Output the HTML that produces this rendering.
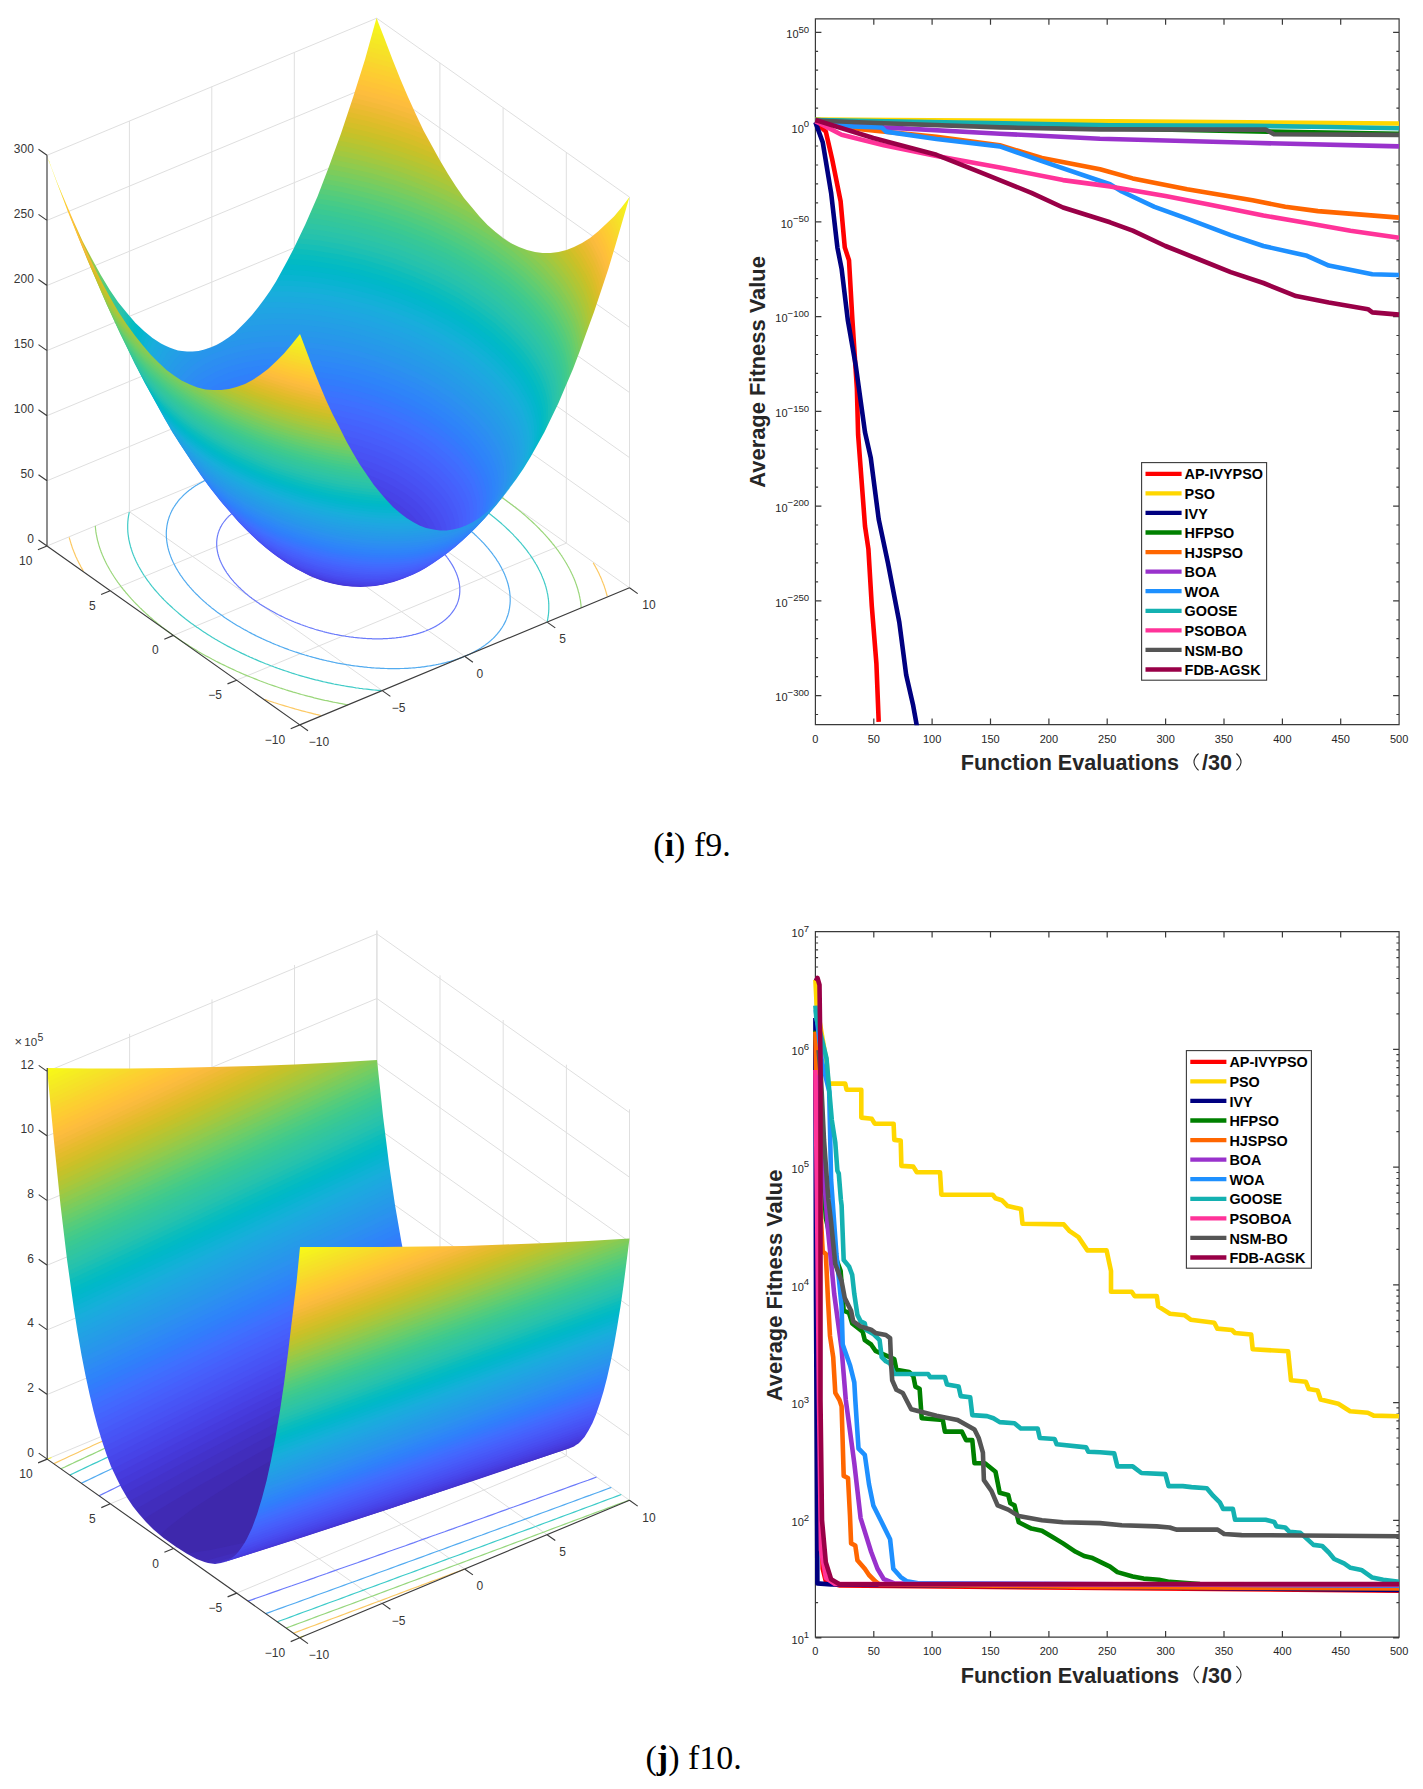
<!DOCTYPE html><html><head><meta charset="utf-8"><title>f9 f10</title><style>html,body{margin:0;padding:0;background:#fff;width:1423px;height:1789px;overflow:hidden}svg{display:block}</style></head><body><svg width="1423" height="1789" viewBox="0 0 1423 1789"><path d="M236.6 680.2 566.3 543.1M173.4 635.4 503.1 498.3M110.2 590.7 439.9 453.6M47 546 376.7 408.9M382.2 690.6 129.4 511.7M464.6 656.3 211.8 477.4M547.1 622.1 294.3 443.1M629.5 587.8 376.7 408.9M129.4 511.7 129.4 121M211.8 477.4 211.8 86.7M294.3 443.1 294.3 52.5M376.7 408.9 376.7 18.2M47 480.8 376.7 343.7M47 415.7 376.7 278.6M47 350.6 376.7 213.5M47 285.5 376.7 148.4M47 220.4 376.7 83.3M47 155.3 376.7 18.2M376.7 408.9 376.7 18.2M439.9 453.6 439.9 62.9M503.1 498.3 503.1 107.7M566.3 543.1 566.3 152.4M629.5 587.8 629.5 197.1M629.5 522.7 376.7 343.7M629.5 457.6 376.7 278.6M629.5 392.5 376.7 213.5M629.5 327.4 376.7 148.4M629.5 262.2 376.7 83.3M629.5 197.1 376.7 18.2" stroke="#dfdfdf" stroke-width="1" fill="none"/>
<path d="M248.9 503.6 249.6 503.3 250.3 503 251.1 502.7 251.8 502.4 252.6 502.2 253.3 501.9 254.1 501.6 254.8 501.4 255.6 501.1 256.4 500.9 257.2 500.6 258 500.4 258.8 500.1 259.6 499.9 260.4 499.7 261.2 499.5 262 499.2 262.9 499 263.7 498.8 264.5 498.6 265.4 498.4 266.2 498.2 267.1 498 268 497.9 268.8 497.7 269.7 497.5 270.6 497.4 271.5 497.2 272.4 497 273.3 496.9 274.1 496.7 275.1 496.6 276 496.5 276.9 496.4 277.8 496.2 278.7 496.1 279.6 496 280.6 495.9 281.5 495.8 282.5 495.7 283.4 495.6 284.3 495.5 285.3 495.4 286.3 495.4 287.2 495.3 288.2 495.2 289.2 495.2 290.1 495.1 291.1 495.1 292.1 495 293.1 495 294.1 495 295 495 296 494.9 297 494.9 298 494.9 299 494.9 300 494.9 301 494.9 302.1 494.9 303.1 495 304.1 495 305.1 495 306.1 495.1 307.2 495.1 308.2 495.1 309.2 495.2 310.2 495.3 311.3 495.3 312.3 495.4 313.4 495.5 314.4 495.5 315.4 495.6 316.5 495.7 317.5 495.8 318.6 495.9 319.6 496 320.7 496.1 321.7 496.3 322.8 496.4 323.8 496.5 324.9 496.6 325.9 496.8 327 496.9 328 497.1 329.1 497.2 330.2 497.4 331.2 497.6 332.3 497.7 333.3 497.9 334.4 498.1 335.5 498.3 336.5 498.5 337.6 498.7 338.6 498.9 339.7 499.1 340.8 499.3 341.8 499.5 342.9 499.7 343.9 500 345 500.2 346.1 500.4 347.1 500.7 348.2 500.9 349.2 501.2 350.3 501.4 351.3 501.7 352.4 502 353.5 502.2 354.5 502.5 355.6 502.8 356.6 503.1 357.7 503.4 358.7 503.7 359.7 504 360.8 504.3 361.8 504.6 362.9 504.9 363.9 505.2 364.9 505.6 366 505.9 367 506.2 368 506.6 369.1 506.9 370.1 507.3 371.1 507.6 372.1 508 373.2 508.3 374.2 508.7 375.2 509.1 376.2 509.4 377.2 509.8 378.2 510.2 379.2 510.6 380.2 511 381.2 511.4 382.2 511.8 383.2 512.2 384.2 512.6 385.1 513 386.1 513.4 387.1 513.9 388.1 514.3 389 514.7 390 515.2 390.9 515.6 391.9 516 392.8 516.5 393.8 516.9 394.7 517.4 395.7 517.9 396.6 518.3 397.5 518.8 398.5 519.2 399.4 519.7 400.3 520.2 401.2 520.7 402.1 521.2 403 521.6 403.9 522.1 404.8 522.6 405.7 523.1 406.6 523.6 407.4 524.1 408.3 524.6 409.2 525.1 410 525.7 410.9 526.2 411.7 526.7 412.6 527.2 413.4 527.7 414.2 528.3 415.1 528.8 415.9 529.3 416.7 529.9 417.5 530.4 418.3 531 419.1 531.5 419.9 532 420.7 532.6 421.5 533.2 422.2 533.7 423 534.3 423.7 534.8 424.5 535.4 425.2 536 426 536.5 426.7 537.1 427.4 537.7 428.2 538.2 428.9 538.8 429.6 539.4 430.3 540 431 540.6 431.6 541.2 432.3 541.7 433 542.3 433.6 542.9 434.3 543.5 434.9 544.1 435.6 544.7 436.2 545.3 436.8 545.9 437.5 546.5 438.1 547.1 438.7 547.7 439.3 548.3 439.8 548.9 440.4 549.5 441 550.1 441.6 550.8 442.1 551.4 442.7 552 443.2 552.6 443.7 553.2 444.3 553.8 444.8 554.4 445.3 555.1 445.8 555.7 446.3 556.3 446.8 556.9 447.2 557.5 447.7 558.2 448.2 558.8 448.6 559.4 449 560 449.5 560.7 449.9 561.3 450.3 561.9 450.7 562.5 451.1 563.2 451.5 563.8 451.9 564.4 452.3 565.1 452.6 565.7 453 566.3 453.3 566.9 453.7 567.6 454 568.2 454.3 568.8 454.6 569.5 454.9 570.1 455.2 570.7 455.5 571.3 455.8 572 456.1 572.6 456.3 573.2 456.6 573.8 456.8 574.5 457 575.1 457.3 575.7 457.5 576.3 457.7 577 457.9 577.6 458.1 578.2 458.2 578.8 458.4 579.4 458.6 580.1 458.7 580.7 458.8 581.3 459 581.9 459.1 582.5 459.2 583.1 459.3 583.7 459.4 584.3 459.5 585 459.6 585.6 459.6 586.2 459.7 586.8 459.7 587.4 459.8 588 459.8 588.6 459.8 589.2 459.8 589.8 459.8 590.4 459.8 591 459.8 591.5 459.8 592.1 459.7 592.7 459.7 593.3 459.6 593.9 459.6 594.5 459.5 595.1 459.4 595.6 459.3 596.2 459.2 596.8 459.1 597.3 459 597.9 458.9 598.5 458.7 599 458.6 599.6 458.4 600.2 458.3 600.7 458.1 601.3 457.9 601.8 457.7 602.4 457.5 602.9 457.3 603.5 457.1 604 456.9 604.5 456.6 605.1 456.4 605.6 456.1 606.1 455.9 606.6 455.6 607.2 455.3 607.7 455 608.2 454.7 608.7 454.4 609.2 454.1 609.7 453.8 610.2 453.4 610.7 453.1 611.2 452.7 611.7 452.4 612.2 452 612.7 451.6 613.2 451.2 613.7 450.8 614.1 450.4 614.6 450 615.1 449.6 615.5 449.2 616 448.7 616.5 448.3 616.9 447.8 617.4 447.4 617.8 446.9 618.2 446.4 618.7 445.9 619.1 445.4 619.5 444.9 620 444.4 620.4 443.9 620.8 443.3 621.2 442.8 621.6 442.3 622 441.7 622.4 441.2 622.8 440.6 623.2 440 623.6 439.4 624 438.8 624.4 438.2 624.8 437.6 625.1 437 625.5 436.4 625.9 435.8 626.2 435.1 626.6 434.5 626.9 433.8 627.3 433.2 627.6 432.5 627.9 431.8 628.3 431.1 628.6 430.5 628.9 429.8 629.2 429.1 629.5 428.3 629.8 427.6 630.1 426.9 630.4 426.2 630.7 425.4 631 424.7 631.3 423.9 631.6 423.2 631.9 422.4 632.1 421.7 632.4 420.9 632.6 420.1 632.9 419.3 633.1 418.5 633.4 417.7 633.6 416.9 633.8 416.1 634.1 415.3 634.3 414.5 634.5 413.6 634.7 412.8 634.9 412 635.1 411.1 635.3 410.3 635.5 409.4 635.7 408.5 635.9 407.7 636.1 406.8 636.2 405.9 636.4 405 636.6 404.1 636.7 403.2 636.9 402.4 637 401.4 637.1 400.5 637.3 399.6 637.4 398.7 637.5 397.8 637.6 396.9 637.7 395.9 637.9 395 638 394 638.1 393.1 638.1 392.2 638.2 391.2 638.3 390.2 638.4 389.3 638.4 388.3 638.5 387.3 638.6 386.4 638.6 385.4 638.7 384.4 638.7 383.4 638.7 382.4 638.8 381.5 638.8 380.5 638.8 379.5 638.8 378.5 638.8 377.5 638.8 376.5 638.8 375.5 638.8 374.4 638.8 373.4 638.8 372.4 638.8 371.4 638.7 370.4 638.7 369.3 638.7 368.3 638.6 367.3 638.6 366.3 638.5 365.2 638.4 364.2 638.4 363.1 638.3 362.1 638.2 361.1 638.1 360 638 359 637.9 357.9 637.8 356.9 637.7 355.8 637.6 354.8 637.5 353.7 637.4 352.7 637.2 351.6 637.1 350.6 637 349.5 636.8 348.5 636.7 347.4 636.5 346.3 636.4 345.3 636.2 344.2 636 343.2 635.8 342.1 635.7 341 635.5 340 635.3 338.9 635.1 337.9 634.9 336.8 634.7 335.7 634.5 334.7 634.3 333.6 634 332.6 633.8 331.5 633.6 330.4 633.3 329.4 633.1 328.3 632.8 327.3 632.6 326.2 632.3 325.2 632.1 324.1 631.8 323 631.5 322 631.2 320.9 631 319.9 630.7 318.8 630.4 317.8 630.1 316.8 629.8 315.7 629.5 314.7 629.2 313.6 628.8 312.6 628.5 311.6 628.2 310.5 627.9 309.5 627.5 308.5 627.2 307.4 626.8 306.4 626.5 305.4 626.1 304.4 625.8 303.3 625.4 302.3 625 301.3 624.7 300.3 624.3 299.3 623.9 298.3 623.5 297.3 623.1 296.3 622.8 295.3 622.4 294.3 622 293.3 621.5 292.3 621.1 291.4 620.7 290.4 620.3 289.4 619.9 288.4 619.5 287.5 619 286.5 618.6 285.6 618.2 284.6 617.7 283.7 617.3 282.7 616.8 281.8 616.4 280.8 615.9 279.9 615.4 279 615 278 614.5 277.1 614 276.2 613.6 275.3 613.1 274.4 612.6 273.5 612.1 272.6 611.6 271.7 611.1 270.8 610.6 269.9 610.1 269.1 609.6 268.2 609.1 267.3 608.6 266.5 608.1 265.6 607.6 264.8 607.1 263.9 606.5 263.1 606 262.3 605.5 261.4 604.9 260.6 604.4 259.8 603.9 259 603.3 258.2 602.8 257.4 602.2 256.6 601.7 255.8 601.1 255 600.6 254.3 600 253.5 599.5 252.8 598.9 252 598.4 251.3 597.8 250.5 597.2 249.8 596.7 249.1 596.1 248.3 595.5 247.6 594.9 246.9 594.3 246.2 593.8 245.5 593.2 244.9 592.6 244.2 592 243.5 591.4 242.9 590.8 242.2 590.2 241.6 589.6 240.9 589 240.3 588.4 239.7 587.8 239 587.2 238.4 586.6 237.8 586 237.2 585.4 236.7 584.8 236.1 584.2 235.5 583.6 234.9 583 234.4 582.4 233.8 581.8 233.3 581.2 232.8 580.5 232.2 579.9 231.7 579.3 231.2 578.7 230.7 578.1 230.2 577.4 229.7 576.8 229.3 576.2 228.8 575.6 228.3 575 227.9 574.3 227.5 573.7 227 573.1 226.6 572.5 226.2 571.8 225.8 571.2 225.4 570.6 225 569.9 224.6 569.3 224.2 568.7 223.9 568.1 223.5 567.4 223.2 566.8 222.8 566.2 222.5 565.6 222.2 564.9 221.9 564.3 221.6 563.7 221.3 563 221 562.4 220.7 561.8 220.4 561.2 220.2 560.5 219.9 559.9 219.7 559.3 219.5 558.7 219.2 558 219 557.4 218.8 556.8 218.6 556.2 218.4 555.6 218.3 554.9 218.1 554.3 217.9 553.7 217.8 553.1 217.7 552.5 217.5 551.8 217.4 551.2 217.3 550.6 217.2 550 217.1 549.4 217 548.8 216.9 548.2 216.9 547.6 216.8 547 216.8 546.4 216.7 545.8 216.7 545.2 216.7 544.6 216.7 544 216.7 543.4 216.7 542.8 216.7 542.2 216.7 541.6 216.8 541 216.8 540.4 216.9 539.9 216.9 539.3 217 538.7 217.1 538.1 217.2 537.5 217.3 537 217.4 536.4 217.5 535.8 217.6 535.3 217.8 534.7 217.9 534.1 218.1 533.6 218.2 533 218.4 532.5 218.6 531.9 218.8 531.4 219 530.8 219.2 530.3 219.4 529.8 219.6 529.2 219.9 528.7 220.1 528.2 220.4 527.6 220.6 527.1 220.9 526.6 221.2 526.1 221.5 525.5 221.8 525 222.1 524.5 222.4 524 222.7 523.5 223.1 523 223.4 522.5 223.8 522 224.1 521.5 224.5 521.1 224.9 520.6 225.3 520.1 225.7 519.6 226.1 519.1 226.5 518.7 226.9 518.2 227.3 517.8 227.8 517.3 228.2 516.8 228.7 516.4 229.1 515.9 229.6 515.5 230.1 515.1 230.6 514.6 231.1 514.2 231.6 513.8 232.1 513.4 232.6 512.9 233.2 512.5 233.7 512.1 234.2 511.7 234.8 511.3 235.3 510.9 235.9 510.5 236.5 510.1 237.1 509.7 237.7 509.4 238.3 509 238.9 508.6 239.5 508.3 240.1 507.9 240.7 507.5 241.4 507.2 242 506.8 242.7 506.5 243.3 506.2 244 505.8 244.7 505.5 245.4 505.2 246 504.8 246.7 504.5 247.4 504.2 248.2 503.9 248.9 503.6" fill="none" stroke="#6c7cfa" stroke-width="1.2"/><path d="M211.8 477.4 212.9 477 213.9 476.6 214.9 476.2 216 475.8 217.1 475.4 218.1 475 219.2 474.6 220.3 474.2 221.4 473.9 222.5 473.5 223.6 473.2 224.7 472.8 225.9 472.5 227 472.2 228.1 471.8 229.3 471.5 230.5 471.2 231.6 470.9 232.8 470.6 234 470.3 235.2 470.1 236.4 469.8 237.6 469.5 238.8 469.3 240.1 469 241.3 468.8 242.6 468.6 243.8 468.3 245.1 468.1 246.3 467.9 247.6 467.7 248.9 467.5 250.2 467.3 251.5 467.1 252.8 467 254.1 466.8 255.4 466.6 256.7 466.5 258 466.4 259.3 466.2 260.7 466.1 262 466 263.4 465.9 264.7 465.8 266.1 465.7 267.4 465.6 268.8 465.5 270.2 465.4 271.6 465.4 273 465.3 274.3 465.2 275.7 465.2 277.1 465.2 278.5 465.1 280 465.1 281.4 465.1 282.8 465.1 284.2 465.1 285.6 465.1 287.1 465.2 288.5 465.2 289.9 465.2 291.4 465.3 292.8 465.3 294.3 465.4 295.7 465.4 297.2 465.5 298.6 465.6 300.1 465.7 301.6 465.8 303 465.9 304.5 466 306 466.1 307.5 466.2 308.9 466.4 310.4 466.5 311.9 466.7 313.4 466.8 314.9 467 316.3 467.2 317.8 467.4 319.3 467.5 320.8 467.7 322.3 467.9 323.8 468.2 325.3 468.4 326.8 468.6 328.3 468.8 329.8 469.1 331.3 469.3 332.8 469.6 334.3 469.9 335.8 470.1 337.3 470.4 338.8 470.7 340.3 471 341.8 471.3 343.3 471.6 344.8 471.9 346.3 472.2 347.8 472.6 349.3 472.9 350.8 473.2 352.3 473.6 353.8 474 355.3 474.3 356.8 474.7 358.3 475.1 359.7 475.5 361.2 475.8 362.7 476.2 364.2 476.7 365.7 477.1 367.2 477.5 368.6 477.9 370.1 478.4 371.6 478.8 373.1 479.2 374.5 479.7 376 480.2 377.5 480.6 378.9 481.1 380.4 481.6 381.8 482.1 383.3 482.6 384.7 483.1 386.2 483.6 387.6 484.1 389 484.6 390.5 485.1 391.9 485.7 393.3 486.2 394.7 486.7 396.2 487.3 397.6 487.9 399 488.4 400.4 489 401.8 489.6 403.2 490.1 404.6 490.7 405.9 491.3 407.3 491.9 408.7 492.5 410.1 493.1 411.4 493.7 412.8 494.4 414.1 495 415.5 495.6 416.8 496.3 418.1 496.9 419.5 497.5 420.8 498.2 422.1 498.9 423.4 499.5 424.7 500.2 426 500.9 427.3 501.5 428.6 502.2 429.8 502.9 431.1 503.6 432.4 504.3 433.6 505 434.9 505.7 436.1 506.4 437.3 507.1 438.5 507.9 439.8 508.6 441 509.3 442.2 510.1 443.4 510.8 444.5 511.5 445.7 512.3 446.9 513 448 513.8 449.2 514.5 450.3 515.3 451.5 516.1 452.6 516.8 453.7 517.6 454.8 518.4 455.9 519.2 457 520 458.1 520.8 459.2 521.6 460.2 522.4 461.3 523.2 462.3 524 463.3 524.8 464.4 525.6 465.4 526.4 466.4 527.2 467.4 528 468.4 528.8 469.4 529.7 470.3 530.5 471.3 531.3 472.2 532.2 473.2 533 474.1 533.8 475 534.7 475.9 535.5 476.8 536.4 477.7 537.2 478.5 538.1 479.4 538.9 480.3 539.8 481.1 540.6 481.9 541.5 482.8 542.3 483.6 543.2 484.4 544.1 485.1 544.9 485.9 545.8 486.7 546.7 487.4 547.6 488.2 548.4 488.9 549.3 489.6 550.2 490.3 551.1 491 551.9 491.7 552.8 492.4 553.7 493 554.6 493.7 555.5 494.3 556.3 494.9 557.2 495.6 558.1 496.2 559 496.7 559.9 497.3 560.8 497.9 561.6 498.4 562.5 499 563.4 499.5 564.3 500 565.2 500.5 566.1 501 567 501.5 567.9 501.9 568.7 502.4 569.6 502.8 570.5 503.3 571.4 503.7 572.3 504.1 573.2 504.5 574.1 504.9 575 505.2 575.8 505.6 576.7 505.9 577.6 506.2 578.5 506.5 579.4 506.9 580.3 507.1 581.1 507.4 582 507.7 582.9 507.9 583.8 508.2 584.6 508.4 585.5 508.6 586.4 508.8 587.3 509 588.1 509.1 589 509.3 589.9 509.5 590.7 509.6 591.6 509.7 592.4 509.8 593.3 509.9 594.2 510 595 510.1 595.9 510.1 596.7 510.1 597.6 510.2 598.4 510.2 599.3 510.2 600.1 510.2 600.9 510.2 601.8 510.1 602.6 510.1 603.4 510 604.3 509.9 605.1 509.8 605.9 509.7 606.7 509.6 607.5 509.5 608.4 509.3 609.2 509.2 610 509 610.8 508.8 611.6 508.7 612.4 508.4 613.2 508.2 613.9 508 614.7 507.7 615.5 507.5 616.3 507.2 617.1 506.9 617.8 506.6 618.6 506.3 619.4 506 620.1 505.7 620.9 505.3 621.6 505 622.4 504.6 623.1 504.2 623.9 503.8 624.6 503.4 625.3 503 626 502.5 626.8 502.1 627.5 501.6 628.2 501.1 628.9 500.6 629.6 500.1 630.3 499.6 631 499.1 631.7 498.6 632.4 498 633 497.5 633.7 496.9 634.4 496.3 635 495.7 635.7 495.1 636.3 494.5 637 493.9 637.6 493.2 638.3 492.6 638.9 491.9 639.5 491.2 640.1 490.5 640.8 489.8 641.4 489.1 642 488.4 642.6 487.6 643.2 486.9 643.7 486.1 644.3 485.4 644.9 484.6 645.5 483.8 646 483 646.6 482.2 647.1 481.3 647.7 480.5 648.2 479.6 648.7 478.8 649.3 477.9 649.8 477 650.3 476.1 650.8 475.2 651.3 474.3 651.8 473.4 652.3 472.5 652.8 471.5 653.2 470.6 653.7 469.6 654.2 468.6 654.6 467.7 655.1 466.7 655.5 465.7 655.9 464.6 656.3 463.6 656.8 462.6 657.2 461.6 657.6 460.5 658 459.4 658.4 458.4 658.8 457.3 659.1 456.2 659.5 455.1 659.9 454 660.2 452.9 660.6 451.8 660.9 450.6 661.3 449.5 661.6 448.4 661.9 447.2 662.2 446 662.5 444.9 662.8 443.7 663.1 442.5 663.4 441.3 663.7 440.1 664 438.9 664.2 437.7 664.5 436.4 664.7 435.2 665 433.9 665.2 432.7 665.4 431.4 665.6 430.2 665.8 428.9 666 427.6 666.2 426.3 666.4 425 666.6 423.7 666.8 422.4 666.9 421.1 667.1 419.8 667.3 418.5 667.4 417.2 667.5 415.8 667.7 414.5 667.8 413.1 667.9 411.8 668 410.4 668.1 409.1 668.2 407.7 668.3 406.3 668.3 404.9 668.4 403.5 668.5 402.2 668.5 400.8 668.5 399.4 668.6 398 668.6 396.5 668.6 395.1 668.6 393.7 668.6 392.3 668.6 390.9 668.6 389.4 668.6 388 668.6 386.6 668.5 385.1 668.5 383.7 668.4 382.2 668.4 380.8 668.3 379.3 668.2 377.9 668.2 376.4 668.1 374.9 668 373.5 667.9 372 667.8 370.5 667.6 369 667.5 367.6 667.4 366.1 667.2 364.6 667.1 363.1 666.9 361.6 666.7 360.2 666.6 358.7 666.4 357.2 666.2 355.7 666 354.2 665.8 352.7 665.6 351.2 665.4 349.7 665.1 348.2 664.9 346.7 664.7 345.2 664.4 343.7 664.2 342.2 663.9 340.7 663.6 339.2 663.3 337.7 663.1 336.2 662.8 334.7 662.5 333.2 662.2 331.7 661.8 330.2 661.5 328.7 661.2 327.2 660.9 325.7 660.5 324.2 660.2 322.7 659.8 321.2 659.4 319.7 659.1 318.2 658.7 316.8 658.3 315.3 657.9 313.8 657.5 312.3 657.1 310.8 656.7 309.3 656.3 307.9 655.8 306.4 655.4 304.9 655 303.4 654.5 302 654.1 300.5 653.6 299 653.1 297.6 652.6 296.1 652.2 294.7 651.7 293.2 651.2 291.8 650.7 290.3 650.2 288.9 649.7 287.5 649.1 286 648.6 284.6 648.1 283.2 647.5 281.8 647 280.3 646.5 278.9 645.9 277.5 645.3 276.1 644.8 274.7 644.2 273.3 643.6 271.9 643 270.6 642.4 269.2 641.8 267.8 641.2 266.4 640.6 265.1 640 263.7 639.4 262.4 638.8 261 638.1 259.7 637.5 258.4 636.9 257 636.2 255.7 635.6 254.4 634.9 253.1 634.2 251.8 633.6 250.5 632.9 249.2 632.2 247.9 631.5 246.7 630.8 245.4 630.1 244.1 629.5 242.9 628.7 241.6 628 240.4 627.3 239.2 626.6 238 625.9 236.7 625.2 235.5 624.4 234.3 623.7 233.1 623 232 622.2 230.8 621.5 229.6 620.7 228.5 620 227.3 619.2 226.2 618.4 225 617.7 223.9 616.9 222.8 616.1 221.7 615.3 220.6 614.6 219.5 613.8 218.4 613 217.3 612.2 216.3 611.4 215.2 610.6 214.2 609.8 213.2 609 212.1 608.2 211.1 607.4 210.1 606.5 209.1 605.7 208.1 604.9 207.1 604.1 206.2 603.3 205.2 602.4 204.3 601.6 203.3 600.8 202.4 599.9 201.5 599.1 200.6 598.2 199.7 597.4 198.8 596.5 198 595.7 197.1 594.8 196.2 594 195.4 593.1 194.6 592.3 193.7 591.4 192.9 590.5 192.1 589.7 191.4 588.8 190.6 587.9 189.8 587.1 189.1 586.2 188.3 585.3 187.6 584.5 186.9 583.6 186.2 582.7 185.5 581.8 184.8 580.9 184.1 580.1 183.5 579.2 182.8 578.3 182.2 577.4 181.6 576.5 180.9 575.6 180.3 574.8 179.8 573.9 179.2 573 178.6 572.1 178.1 571.2 177.5 570.3 177 569.4 176.5 568.6 176 567.7 175.5 566.8 175 565.9 174.6 565 174.1 564.1 173.7 563.2 173.2 562.3 172.8 561.5 172.4 560.6 172 559.7 171.6 558.8 171.3 557.9 170.9 557 170.6 556.1 170.3 555.3 170 554.4 169.6 553.5 169.4 552.6 169.1 551.7 168.8 550.9 168.6 550 168.3 549.1 168.1 548.2 167.9 547.4 167.7 546.5 167.5 545.6 167.4 544.8 167.2 543.9 167 543 166.9 542.2 166.8 541.3 166.7 540.4 166.6 539.6 166.5 538.7 166.4 537.9 166.4 537 166.4 536.2 166.3 535.3 166.3 534.5 166.3 533.7 166.3 532.8 166.3 532 166.4 531.1 166.4 530.3 166.5 529.5 166.6 528.7 166.7 527.8 166.8 527 166.9 526.2 167 525.4 167.2 524.6 167.3 523.8 167.5 523 167.7 522.2 167.8 521.4 168.1 520.6 168.3 519.8 168.5 519 168.8 518.2 169 517.5 169.3 516.7 169.6 515.9 169.9 515.1 170.2 514.4 170.5 513.6 170.8 512.9 171.2 512.1 171.5 511.4 171.9 510.6 172.3 509.9 172.7 509.2 173.1 508.4 173.5 507.7 174 507 174.4 506.3 174.9 505.6 175.4 504.9 175.9 504.1 176.4 503.5 176.9 502.8 177.4 502.1 177.9 501.4 178.5 500.7 179 500 179.6 499.4 180.2 498.7 180.8 498.1 181.4 497.4 182 496.8 182.6 496.1 183.3 495.5 183.9 494.9 184.6 494.2 185.3 493.6 186 493 186.7 492.4 187.4 491.8 188.1 491.2 188.9 490.6 189.6 490 190.4 489.4 191.1 488.9 191.9 488.3 192.7 487.7 193.5 487.2 194.3 486.6 195.2 486.1 196 485.5 196.9 485 197.7 484.5 198.6 484 199.5 483.5 200.4 483 201.3 482.5 202.2 482 203.1 481.5 204 481 205 480.5 205.9 480.1 206.9 479.6 207.9 479.1 208.8 478.7 209.8 478.3 210.8 477.8 211.8 477.4" fill="none" stroke="#52abef" stroke-width="1.2"/><path d="M295.1 443.2 296.9 443.3 298.7 443.5 300.5 443.6 302.3 443.8 304.2 444 306 444.2 307.8 444.4 309.6 444.6 311.4 444.8 313.3 445 315.1 445.2 316.9 445.5 318.7 445.7 320.6 446 322.4 446.2 324.2 446.5 326.1 446.8 327.9 447.1 329.7 447.4 331.6 447.7 333.4 448 335.2 448.4 337.1 448.7 338.9 449.1 340.8 449.4 342.6 449.8 344.4 450.2 346.3 450.6 348.1 451 349.9 451.4 351.8 451.8 353.6 452.2 355.4 452.6 357.3 453.1 359.1 453.5 360.9 454 362.8 454.4 364.6 454.9 366.4 455.4 368.2 455.9 370 456.4 371.9 456.9 373.7 457.4 375.5 457.9 377.3 458.5 379.1 459 380.9 459.5 382.7 460.1 384.5 460.7 386.3 461.2 388.1 461.8 389.8 462.4 391.6 463 393.4 463.6 395.2 464.2 396.9 464.9 398.7 465.5 400.5 466.1 402.2 466.8 404 467.4 405.7 468.1 407.4 468.7 409.2 469.4 410.9 470.1 412.6 470.8 414.3 471.5 416.1 472.2 417.8 472.9 419.5 473.6 421.1 474.3 422.8 475.1 424.5 475.8 426.2 476.6 427.9 477.3 429.5 478.1 431.2 478.8 432.8 479.6 434.5 480.4 436.1 481.2 437.7 482 439.3 482.8 440.9 483.6 442.5 484.4 444.1 485.2 445.7 486 447.3 486.9 448.9 487.7 450.4 488.5 452 489.4 453.5 490.2 455 491.1 456.6 492 458.1 492.8 459.6 493.7 461.1 494.6 462.6 495.5 464.1 496.4 465.5 497.3 467 498.2 468.4 499.1 469.9 500 471.3 500.9 472.7 501.9 474.1 502.8 475.5 503.7 476.9 504.7 478.3 505.6 479.7 506.6 481 507.5 482.4 508.5 483.7 509.4 485 510.4 486.3 511.4 487.6 512.3 488.9 513.3 490.2 514.3 491.5 515.3 492.7 516.3 494 517.3 495.2 518.3 496.4 519.3 497.6 520.3 498.8 521.3 500 522.3 501.2 523.3 502.3 524.4 503.5 525.4 504.6 526.4 505.7 527.4 506.8 528.5 507.9 529.5 509 530.5 510.1 531.6 511.1 532.6 512.2 533.7 513.2 534.7 514.2 535.8 515.2 536.8 516.2 537.9 517.2 539 518.2 540 519.1 541.1 520 542.1 521 543.2 521.9 544.3 522.8 545.3 523.6 546.4 524.5 547.5 525.4 548.6 526.2 549.6 527 550.7 527.8 551.8 528.6 552.9 529.4 554 530.2 555 530.9 556.1 531.6 557.2 532.4 558.3 533.1 559.4 533.8 560.5 534.4 561.6 535.1 562.6 535.7 563.7 536.4 564.8 537 565.9 537.6 567 538.2 568.1 538.7 569.2 539.3 570.3 539.8 571.3 540.4 572.4 540.9 573.5 541.4 574.6 541.8 575.7 542.3 576.8 542.7 577.9 543.2 578.9 543.6 580 544 581.1 544.4 582.2 544.7 583.3 545.1 584.3 545.4 585.4 545.8 586.5 546.1 587.6 546.3 588.6 546.6 589.7 546.9 590.8 547.1 591.8 547.3 592.9 547.6 594 547.8 595 547.9 596.1 548.1 597.1 548.2 598.2 548.4 599.2 548.5 600.3 548.6 601.3 548.7 602.4 548.7 603.4 548.8 604.5 548.8 605.5 548.8 606.5 548.8 607.6 548.8 608.6 548.8 609.6 548.7 610.6 548.7 611.6 548.6 612.7 548.5 613.7 548.4 614.7 548.3 615.7 548.1 616.7 548 617.7 547.8 618.7 547.6 619.7 547.4 620.6 547.2 621.6" fill="none" stroke="#41cbc7" stroke-width="1.2"/><path d="M381.4 690.6 379.6 690.4 377.8 690.3 376 690.1 374.2 690 372.3 689.8 370.5 689.6 368.7 689.4 366.9 689.2 365.1 689 363.2 688.8 361.4 688.5 359.6 688.3 357.8 688 355.9 687.8 354.1 687.5 352.3 687.2 350.4 686.9 348.6 686.6 346.8 686.3 344.9 686 343.1 685.7 341.3 685.4 339.4 685 337.6 684.7 335.7 684.3 333.9 684 332.1 683.6 330.2 683.2 328.4 682.8 326.6 682.4 324.7 682 322.9 681.6 321.1 681.1 319.2 680.7 317.4 680.2 315.6 679.8 313.7 679.3 311.9 678.8 310.1 678.4 308.3 677.9 306.5 677.4 304.6 676.9 302.8 676.3 301 675.8 299.2 675.3 297.4 674.8 295.6 674.2 293.8 673.6 292 673.1 290.2 672.5 288.4 671.9 286.7 671.3 284.9 670.7 283.1 670.1 281.3 669.5 279.6 668.9 277.8 668.3 276 667.6 274.3 667 272.5 666.3 270.8 665.7 269.1 665 267.3 664.3 265.6 663.7 263.9 663 262.2 662.3 260.4 661.6 258.7 660.9 257 660.1 255.4 659.4 253.7 658.7 252 657.9 250.3 657.2 248.6 656.4 247 655.7 245.3 654.9 243.7 654.1 242 653.4 240.4 652.6 238.8 651.8 237.2 651 235.6 650.2 234 649.4 232.4 648.6 230.8 647.7 229.2 646.9 227.6 646.1 226.1 645.2 224.5 644.4 223 643.5 221.5 642.7 219.9 641.8 218.4 640.9 216.9 640 215.4 639.2 213.9 638.3 212.4 637.4 211 636.5 209.5 635.6 208.1 634.7 206.6 633.7 205.2 632.8 203.8 631.9 202.4 631 201 630 199.6 629.1 198.2 628.1 196.8 627.2 195.5 626.2 194.1 625.3 192.8 624.3 191.5 623.4 190.2 622.4 188.9 621.4 187.6 620.4 186.3 619.4 185 618.5 183.8 617.5 182.5 616.5 181.3 615.5 180.1 614.5 178.9 613.5 177.7 612.4 176.5 611.4 175.3 610.4 174.2 609.4 173 608.4 171.9 607.3 170.8 606.3 169.7 605.3 168.6 604.2 167.5 603.2 166.4 602.2 165.4 601.1 164.3 600.1 163.3 599 162.3 598 161.3 596.9 160.3 595.9 159.3 594.8 158.3 593.7 157.4 592.7 156.5 591.6 155.5 590.5 154.6 589.5 153.7 588.4 152.9 587.3 152 586.3 151.1 585.2 150.3 584.1 149.5 583 148.7 581.9 147.9 580.9 147.1 579.8 146.3 578.7 145.6 577.6 144.9 576.5 144.1 575.5 143.4 574.4 142.7 573.3 142.1 572.2 141.4 571.1 140.8 570 140.1 568.9 139.5 567.8 138.9 566.8 138.3 565.7 137.8 564.6 137.2 563.5 136.7 562.4 136.1 561.3 135.6 560.2 135.1 559.1 134.7 558.1 134.2 557 133.8 555.9 133.3 554.8 132.9 553.7 132.5 552.6 132.1 551.6 131.8 550.5 131.4 549.4 131.1 548.3 130.7 547.3 130.4 546.2 130.2 545.1 129.9 544 129.6 543 129.4 541.9 129.2 540.8 128.9 539.8 128.7 538.7 128.6 537.7 128.4 536.6 128.3 535.6 128.1 534.5 128 533.5 127.9 532.4 127.8 531.4 127.8 530.3 127.7 529.3 127.7 528.3 127.7 527.2 127.7 526.2 127.7 525.2 127.7 524.1 127.8 523.1 127.8 522.1 127.9 521.1 128 520.1 128.1 519.1 128.2 518.1 128.4 517.1 128.5 516.1 128.7 515.1 128.9 514.1 129.1 513.1 129.3 512.1" fill="none" stroke="#41cbc7" stroke-width="1.2"/><path d="M328.4 428.9 330.5 429.3 332.7 429.7 334.8 430 336.9 430.4 339 430.8 341.1 431.3 343.3 431.7 345.4 432.1 347.5 432.6 349.6 433 351.7 433.5 353.9 434 356 434.5 358.1 435 360.2 435.5 362.3 436 364.4 436.5 366.5 437 368.7 437.6 370.8 438.1 372.9 438.7 375 439.3 377.1 439.9 379.1 440.5 381.2 441.1 383.3 441.7 385.4 442.3 387.5 442.9 389.6 443.6 391.6 444.2 393.7 444.9 395.8 445.6 397.8 446.3 399.9 446.9 401.9 447.6 404 448.4 406 449.1 408.1 449.8 410.1 450.5 412.1 451.3 414.1 452 416.1 452.8 418.1 453.6 420.1 454.3 422.1 455.1 424.1 455.9 426.1 456.7 428.1 457.5 430.1 458.4 432 459.2 434 460 435.9 460.9 437.9 461.7 439.8 462.6 441.7 463.4 443.6 464.3 445.5 465.2 447.4 466.1 449.3 467 451.2 467.9 453.1 468.8 455 469.7 456.8 470.7 458.7 471.6 460.5 472.6 462.3 473.5 464.2 474.5 466 475.4 467.8 476.4 469.6 477.4 471.3 478.4 473.1 479.4 474.9 480.4 476.6 481.4 478.4 482.4 480.1 483.4 481.8 484.4 483.5 485.5 485.2 486.5 486.9 487.6 488.6 488.6 490.2 489.7 491.9 490.7 493.5 491.8 495.1 492.9 496.8 494 498.4 495 500 496.1 501.5 497.2 503.1 498.3 504.7 499.4 506.2 500.5 507.7 501.7 509.2 502.8 510.7 503.9 512.2 505 513.7 506.2 515.2 507.3 516.6 508.5 518.1 509.6 519.5 510.8 520.9 511.9 522.3 513.1 523.7 514.3 525 515.4 526.4 516.6 527.7 517.8 529 519 530.3 520.1 531.6 521.3 532.9 522.5 534.2 523.7 535.4 524.9 536.7 526.1 537.9 527.3 539.1 528.5 540.3 529.8 541.4 531 542.6 532.2 543.7 533.4 544.9 534.6 546 535.9 547.1 537.1 548.2 538.3 549.2 539.5 550.3 540.8 551.3 542 552.3 543.3 553.3 544.5 554.3 545.7 555.3 547 556.2 548.2 557.1 549.5 558.1 550.7 559 552 559.8 553.2 560.7 554.5 561.6 555.7 562.4 557 563.2 558.2 564 559.5 564.8 560.7 565.5 562 566.3 563.2 567 564.5 567.7 565.8 568.4 567 569.1 568.3 569.8 569.5 570.4 570.8 571 572 571.6 573.3 572.2 574.5 572.8 575.8 573.3 577 573.9 578.3 574.4 579.6 574.9 580.8 575.4 582.1 575.8 583.3 576.3 584.5 576.7 585.8 577.1 587 577.5 588.3 577.9 589.5 578.2 590.8 578.5 592 578.9 593.2 579.2 594.5 579.4 595.7 579.7 596.9 579.9 598.2 580.2 599.4 580.4 600.6 580.6 601.8 580.7 603 580.9 604.3 581 605.5 581.1 606.7 581.2 607.9" fill="none" stroke="#9ad67a" stroke-width="1.2"/><path d="M348.1 704.8 346 704.5 343.8 704.1 341.7 703.7 339.6 703.3 337.5 702.9 335.4 702.5 333.2 702.1 331.1 701.6 329 701.2 326.9 700.7 324.8 700.3 322.6 699.8 320.5 699.3 318.4 698.8 316.3 698.3 314.2 697.8 312.1 697.2 310 696.7 307.8 696.2 305.7 695.6 303.6 695 301.5 694.5 299.4 693.9 297.4 693.3 295.3 692.7 293.2 692.1 291.1 691.4 289 690.8 286.9 690.2 284.9 689.5 282.8 688.8 280.7 688.2 278.7 687.5 276.6 686.8 274.6 686.1 272.5 685.4 270.5 684.7 268.4 684 266.4 683.2 264.4 682.5 262.4 681.7 260.4 681 258.4 680.2 256.4 679.4 254.4 678.6 252.4 677.8 250.4 677 248.4 676.2 246.4 675.4 244.5 674.6 242.5 673.7 240.6 672.9 238.6 672 236.7 671.2 234.8 670.3 232.9 669.4 231 668.5 229.1 667.6 227.2 666.7 225.3 665.8 223.4 664.9 221.5 664 219.7 663.1 217.8 662.1 216 661.2 214.2 660.2 212.3 659.3 210.5 658.3 208.7 657.3 206.9 656.4 205.2 655.4 203.4 654.4 201.6 653.4 199.9 652.4 198.1 651.4 196.4 650.3 194.7 649.3 193 648.3 191.3 647.2 189.6 646.2 187.9 645.1 186.3 644.1 184.6 643 183 642 181.4 640.9 179.7 639.8 178.1 638.7 176.5 637.6 175 636.5 173.4 635.4 171.8 634.3 170.3 633.2 168.8 632.1 167.3 631 165.8 629.8 164.3 628.7 162.8 627.6 161.3 626.4 159.9 625.3 158.4 624.1 157 623 155.6 621.8 154.2 620.7 152.8 619.5 151.5 618.3 150.1 617.1 148.8 616 147.5 614.8 146.2 613.6 144.9 612.4 143.6 611.2 142.3 610 141.1 608.8 139.8 607.6 138.6 606.4 137.4 605.2 136.2 604 135.1 602.8 133.9 601.6 132.8 600.3 131.6 599.1 130.5 597.9 129.4 596.7 128.3 595.4 127.3 594.2 126.2 593 125.2 591.7 124.2 590.5 123.2 589.3 122.2 588 121.2 586.8 120.3 585.5 119.4 584.3 118.4 583 117.5 581.8 116.7 580.5 115.8 579.3 114.9 578 114.1 576.8 113.3 575.5 112.5 574.3 111.7 573 111 571.8 110.2 570.5 109.5 569.3 108.8 568 108.1 566.7 107.4 565.5 106.7 564.2 106.1 563 105.5 561.7 104.9 560.5 104.3 559.2 103.7 558 103.2 556.7 102.6 555.4 102.1 554.2 101.6 552.9 101.1 551.7 100.7 550.4 100.2 549.2 99.8 548 99.4 546.7 99 545.5 98.6 544.2 98.3 543 98 541.8 97.6 540.5 97.3 539.3 97.1 538.1 96.8 536.8 96.6 535.6 96.3 534.4 96.1 533.1 95.9 531.9 95.8 530.7 95.6 529.5 95.5 528.3 95.4 527.1 95.3 525.9" fill="none" stroke="#9ad67a" stroke-width="1.2"/><path d="M355.7 418.3 358.1 418.8 360.4 419.4 362.8 419.9 365.2 420.5 367.5 421.1 369.9 421.7 372.2 422.3 374.6 422.9 376.9 423.6 379.3 424.2 381.6 424.9 384 425.5 386.3 426.2 388.6 426.9 391 427.6 393.3 428.3 395.6 429 397.9 429.8 400.2 430.5 402.6 431.3 404.9 432 407.2 432.8 409.4 433.6 411.7 434.4" fill="none" stroke="#fcc964" stroke-width="1.2"/><path d="M593.2 562.8 594 564.2 594.8 565.6 595.6 567 596.3 568.4 597.1 569.8 597.8 571.2 598.5 572.6 599.2 574 599.8 575.4 600.5 576.8 601.1 578.2 601.7 579.6 602.2 581 602.8 582.4 603.3 583.8 603.9 585.2 604.4 586.6 604.8 588 605.3 589.4 605.7 590.8 606.1 592.2 606.5 593.6 606.9 595 607.3 596.3" fill="none" stroke="#fcc964" stroke-width="1.2"/><path d="M320.8 715.5 318.4 714.9 316.1 714.4 313.7 713.8 311.3 713.2 309 712.6 306.6 712 304.3 711.4 301.9 710.8 299.6 710.2 297.2 709.5 294.9 708.9 292.5 708.2 290.2 707.5 287.9 706.8 285.5 706.1 283.2 705.4 280.9 704.7 278.6 704 276.3 703.2 273.9 702.5 271.6 701.7 269.3 701 267.1 700.2 264.8 699.4" fill="none" stroke="#fcc964" stroke-width="1.2"/><path d="M83.3 570.9 82.5 569.5 81.7 568.1 80.9 566.7 80.2 565.3 79.4 563.9 78.7 562.5 78 561.1 77.3 559.7 76.7 558.3 76 556.9 75.4 555.5 74.8 554.1 74.3 552.7 73.7 551.3 73.2 549.9 72.6 548.5 72.1 547.1 71.7 545.7 71.2 544.3 70.8 542.9 70.4 541.6 70 540.2 69.6 538.8 69.2 537.4" fill="none" stroke="#fcc964" stroke-width="1.2"/>
<g transform="scale(.5)" fill-rule="evenodd"><mask id="s9top" maskUnits="userSpaceOnUse" x="0" y="0" width="2846" height="3578"><path fill="#fff" d="M98 323l38 101 38 94 20 46 19 44 19 41 19 39 18 38 20 39 19 34 19 34 18 32 19 29 19 29 19 28 19 26 19 24 19 22 18 21 19 19 20 19 19 16 19 15 19 13 19 11 19 10 18 8 19 7 19 5 20 4 18 2 20 0 21-1 21-3 20-5 20-7 21-9 21-11 20-13 21-14 20-16 20-18 21-20 20-21 21-24 21-27 19-25 15-22 14-23 13-23 15-27 13-27 15-31 14-33 15-35 14-37 13-36 15-41 14-42 15-45 14-47 28-96-16 21-15 18-17 16-15 14-16 13-16 10-16 8-15 6-16 4-16 2-16 0-15-2-16-4-16-6-17-8-15-10-15-12-16-14-16-17-15-18-16-19-16-23-16-25-16-27-16-29-17-31-16-34-15-33-15-35-16-40-16-42-16-41-23 83-24 76-24 72-24 66-23 60-24 55-24 50-12 23-12 22-11 20-12 19-12 17-12 16-12 15-12 13-12 12-11 11-12 9-12 8-12 7-12 5-12 4-12 3-12 1-11 0-10-1-8-1-9-3-8-3-9-4-8-4-17-11-17-14-17-16-17-20-18-22-17-25-18-30-17-31-19-36-18-40-17-40-18-42-18-49z"/></mask><g mask="url(#s9top)"><path fill="#3e28ac" d="M89 299l39 106 38 97 39 90 38 83 38 77 39 71 39 65 38 58 39 51 19 23 19 22 20 21 19 18 20 17 19 15 18 13 20 12 19 10 20 9 19 6 19 6 20 3 18 2 22 1 20-2 19-3 22-5 21-8 20-8 21-11 21-13 20-15 21-16 21-19 21-20 21-23 21-25 21-26 20-28 15-20 14-23 28-53 29-61 29-68 28-75 29-84 29-92 29-100-2-1-19 25-18 21-15 15-14 13-15 12-16 10-16 9-15 6-16 4-16 2-16 0-15-2-17-4-15-6-16-8-16-10-16-13-16-14-16-16-15-19-16-20-16-22-16-25-15-26-32-59-31-66-28-68-19-48-19-52-1 0-25 86-24 78-24 72-24 67-23 62-24 56-24 50-24 45-24 40-24 34-24 29-23 23-12 9-12 9-12 6-12 6-11 4-13 3-12 1-12 0-18-3-17-5-17-9-17-11-18-14-17-17-17-20-17-23-18-25-16-27-17-30-16-32-20-43-19-44-19-47-20-53-2 1z"/><path fill="#402ab4" d="M89 299l39 106 38 97 39 90 38 83 38 77 39 71 39 65 38 58 39 51 19 23 19 22 20 21 19 18 20 17 19 15 18 13 20 12 19 10 20 9 19 6 19 6 20 3 18 2 22 1 20-2 19-3 22-5 21-8 20-8 21-11 21-13 20-15 21-16 21-19 21-20 21-23 21-25 21-26 20-28 15-20 14-23 28-53 29-61 29-68 28-75 29-84 29-92 29-100-2-1-19 25-18 21-15 15-14 13-15 12-16 10-16 9-15 6-16 4-16 2-16 0-15-2-17-4-15-6-16-8-16-10-16-13-16-14-16-16-15-19-16-20-16-22-16-25-15-26-32-59-31-66-28-68-19-48-19-52-1 0-25 86-24 78-24 72-24 67-23 62-24 56-24 50-24 45-24 40-24 34-24 29-23 23-12 9-12 9-12 6-12 6-11 4-13 3-12 1-12 0-18-3-17-5-17-9-17-11-18-14-17-17-17-20-17-23-18-25-16-27-17-30-16-32-20-43-19-44-19-47-20-53-2 1zM617 1118l0-7 3-7 5-5 7-4 9-3 11-1 11 0 13 2 13 3 12 5 11 5 9 6 7 7 5 7 3 7 0 7-2 6-4 4-6 5-8 3-8 2-10 0-10 0-11-2-11-2-10-4-10-4-9-5-7-6-6-7-5-6z"/><path fill="#412dbc" d="M89 299l39 106 38 97 39 90 38 83 38 77 39 71 39 65 38 58 39 51 19 23 19 22 20 21 19 18 20 17 19 15 18 13 20 12 19 10 20 9 19 6 19 6 20 3 18 2 22 1 20-2 19-3 22-5 21-8 20-8 21-11 21-13 20-15 21-16 21-19 21-20 21-23 21-25 21-26 20-28 15-20 14-23 28-53 29-61 29-68 28-75 29-84 29-92 29-100-2-1-19 25-18 21-15 15-14 13-15 12-16 10-16 9-15 6-16 4-16 2-16 0-15-2-17-4-15-6-16-8-16-10-16-13-16-14-16-16-15-19-16-20-16-22-16-25-15-26-32-59-31-66-28-68-19-48-19-52-1 0-25 86-24 78-24 72-24 67-23 62-24 56-24 50-24 45-24 40-24 34-24 29-23 23-12 9-12 9-12 6-12 6-11 4-13 3-12 1-12 0-18-3-17-5-17-9-17-11-18-14-17-17-17-20-17-23-18-25-16-27-17-30-16-32-20-43-19-44-19-47-20-53-2 1zM627 1146l-16-12-11-12-4-6-3-6-1-7 0-5 2-6 2-5 4-5 5-4 7-3 7-3 16-3 19-1 22 2 21 6 19 8 17 9 14 13 6 6 4 6 2 6 2 6 0 7-2 6-2 5-5 6-7 4-7 4-9 3-11 1-10 1-12 0-24-3-23-8-12-5z"/><path fill="#4230c3" d="M89 299l39 106 38 97 39 90 38 83 38 77 39 71 39 65 38 58 39 51 19 23 19 22 20 21 19 18 20 17 19 15 18 13 20 12 19 10 20 9 19 6 19 6 20 3 18 2 22 1 20-2 19-3 22-5 21-8 20-8 21-11 21-13 20-15 21-16 21-19 21-20 21-23 21-25 21-26 20-28 15-20 14-23 28-53 29-61 29-68 28-75 29-84 29-92 29-100-2-1-19 25-18 21-15 15-14 13-15 12-16 10-16 9-15 6-16 4-16 2-16 0-15-2-17-4-15-6-16-8-16-10-16-13-16-14-16-16-15-19-16-20-16-22-16-25-15-26-32-59-31-66-28-68-19-48-19-52-1 0-25 86-24 78-24 72-24 67-23 62-24 56-24 50-24 45-24 40-24 34-24 29-23 23-12 9-12 9-12 6-12 6-11 4-13 3-12 1-12 0-18-3-17-5-17-9-17-11-18-14-17-17-17-20-17-23-18-25-16-27-17-30-16-32-20-43-19-44-19-47-20-53-2 1zM614 1143l-19-13-7-8-7-8-4-7-3-7-1-8 0-7 2-7 3-6 5-6 6-5 7-4 10-4 12-3 11-1 23-1 25 4 25 6 26 11 20 13 9 6 8 8 6 7 5 8 3 7 1 8 0 9-2 7-4 7-6 6-8 5-11 5-11 3-13 2-13 0-13 0-16-2-14-3-15-3-14-6-13-6z"/><path fill="#4332ca" d="M89 299l39 106 38 97 39 90 38 83 38 77 39 71 39 65 38 58 39 51 19 23 19 22 20 21 19 18 20 17 19 15 18 13 20 12 19 10 20 9 19 6 19 6 20 3 18 2 22 1 20-2 19-3 22-5 21-8 20-8 21-11 21-13 20-15 21-16 21-19 21-20 21-23 21-25 21-26 20-28 15-20 14-23 28-53 29-61 29-68 28-75 29-84 29-92 29-100-2-1-19 25-18 21-15 15-14 13-15 12-16 10-16 9-15 6-16 4-16 2-16 0-15-2-17-4-15-6-16-8-16-10-16-13-16-14-16-16-15-19-16-20-16-22-16-25-15-26-32-59-31-66-28-68-19-48-19-52-1 0-25 86-24 78-24 72-24 67-23 62-24 56-24 50-24 45-24 40-24 34-24 29-23 23-12 9-12 9-12 6-12 6-11 4-13 3-12 1-12 0-18-3-17-5-17-9-17-11-18-14-17-17-17-20-17-23-18-25-16-27-17-30-16-32-20-43-19-44-19-47-20-53-2 1zM566 1053l11-9 14-6 17-5 17-2 21 0 21 2 22 4 22 7 20 8 19 11 17 11 13 13 9 12 6 13 2 12-1 7-1 5-3 6-4 6-6 5-6 5-7 4-9 4-21 4-22 2-25-2-26-4-25-8-23-10-21-12-17-14-13-14-5-8-3-7-2-7-1-8 1-7 2-7 3-5z"/><path fill="#4435d1" d="M89 299l39 107 40 99 39 93 40 86 40 79 40 72 39 65 39 58 28 36 28 34 28 30 29 27 28 23 28 20 28 16 28 13 1-2-15-7-13-7-13-8-12-8-17-16-6-7-6-9-4-8-2-9-1-7 0-9 2-7 4-8 5-6 7-6 8-5 11-5 10-4 12-2 25-3 29 1 29 5 30 8 27 12 24 14 13 9 10 10 9 10 7 10 4 10 3 10 0 10-2 9-4 8-6 8-8 7-10 6-13 5-14 3-15 2-17 1 0 3 21-1 20-3 20-5 20-6 20-9 20-9 20-12 20-13 20-15 20-17 20-19 19-20 20-22 21-26 22-27 17-25 29-45 28-52 28-60 28-68 28-75 28-82 28-90 28-97-2-1-19 25-18 21-15 15-14 13-15 12-16 10-16 9-15 6-16 4-16 2-16 0-15-2-17-4-15-6-16-8-16-10-16-13-16-14-16-16-15-19-16-20-16-22-16-25-15-26-32-59-31-66-28-68-19-48-19-52-1 0-25 86-24 78-24 72-24 67-23 62-24 56-24 50-24 45-24 40-24 34-24 29-23 23-12 9-12 9-12 6-12 6-11 4-13 3-12 1-12 0-18-3-17-5-17-9-17-11-18-14-17-17-17-20-17-23-18-25-16-27-17-30-16-32-20-43-19-44-19-47-20-53-2 1z"/><path fill="#4538d8" d="M89 299l41 112 41 102 42 98 41 87 42 83 41 72 22 35 20 32 21 30 20 28 23 28 23 27 22 24 22 22 23 19 22 17 22 15 23 13 1-2-25-16-12-8-9-9-8-8-6-9-5-8-4-8-2-8-1-8 0-9 2-7 3-7 5-8 6-6 8-6 8-5 12-4 10-4 12-2 13-2 15-1 27 1 30 4 29 8 27 10 26 13 13 9 14 10 11 11 9 10 7 11 5 11 3 11 0 10-2 9-4 9-6 9-8 7-9 5-9 5-16 6-19 3 1 3 19-4 18-5 19-6 18-8 19-10 19-11 19-12 18-15 19-15 20-18 19-19 19-21 20-23 18-24 20-26 15-22 26-44 27-53 28-59 27-67 26-71 27-81 28-88 27-94-2-1-19 25-18 21-15 15-14 13-15 12-16 10-16 9-15 6-16 4-16 2-16 0-15-2-17-4-15-6-16-8-16-10-16-13-16-14-16-16-15-19-16-20-16-22-16-25-15-26-32-59-31-66-28-68-19-48-19-52-1 0-25 86-24 78-24 72-24 67-23 62-24 56-24 50-24 45-24 40-24 34-24 29-23 23-12 9-12 9-12 6-12 6-11 4-13 3-12 1-12 0-18-3-17-5-17-9-17-11-18-14-17-17-17-20-17-23-18-25-16-27-17-30-16-32-20-43-19-44-19-47-20-53-2 1z"/><path fill="#463bdd" d="M89 299l43 116 43 107 42 97 43 91 42 81 22 40 21 36 23 35 21 32 21 30 21 27 37 45 19 20 18 17 18 17 19 15 19 14 18 12 2-2-13-8-12-9-10-9-8-9-7-8-5-9-4-8-3-9-2-8 0-9 1-8 3-8 3-6 6-7 6-7 8-5 8-5 12-5 22-6 27-3 28 0 30 4 30 7 30 10 26 12 17 9 15 10 12 10 11 11 10 12 7 11 4 12 3 11 0 12-3 9-4 10-7 8-8 7-9 6-15 7-18 5 1 3 18-5 18-7 17-7 18-9 18-10 18-12 18-13 18-15 18-16 18-18 36-40 20-24 19-25 15-20 14-23 26-44 26-52 27-59 26-65 27-73 26-78 26-86 27-91-2-1-19 25-18 21-15 15-14 13-15 12-16 10-16 9-15 6-16 4-16 2-16 0-15-2-17-4-15-6-16-8-16-10-16-13-16-14-16-16-15-19-16-20-16-22-16-25-15-26-32-59-31-66-28-68-19-48-19-52-1 0-25 86-24 78-24 72-24 67-23 62-24 56-24 50-24 45-24 40-24 34-24 29-23 23-12 9-12 9-12 6-12 6-11 4-13 3-12 1-12 0-18-3-17-5-17-9-17-11-18-14-17-17-17-20-17-23-18-25-16-27-17-30-16-32-20-43-19-44-19-47-20-53-2 1z"/><path fill="#473fe2" d="M89 299l43 118 44 108 44 101 43 91 45 84 21 38 23 38 21 34 23 33 22 31 21 27 30 35 31 32 30 27 32 24 1-2-11-9-11-9-10-9-8-10-10-17-4-8-2-8-1-9 0-8 1-8 3-8 4-7 6-7 7-7 7-5 10-6 10-4 22-6 26-4 30-1 31 3 28 6 32 9 28 11 18 10 17 10 15 10 13 12 12 12 8 12 7 12 4 13 2 11 0 11-3 11-6 10-8 8-9 8-14 8-17 7 1 2 17-6 17-7 17-9 17-10 18-11 17-13 34-29 36-34 35-41 37-48 26-41 26-45 25-52 26-58 26-64 25-71 26-76 25-83 26-89-2-1-19 25-18 21-15 15-14 13-15 12-16 10-16 9-15 6-16 4-16 2-16 0-15-2-17-4-15-6-16-8-16-10-16-13-16-14-16-16-15-19-16-20-16-22-16-25-15-26-32-59-31-66-28-68-19-48-19-52-1 0-25 86-24 78-24 72-24 67-23 62-24 56-24 50-24 45-24 40-24 34-24 29-23 23-12 9-12 9-12 6-12 6-11 4-13 3-12 1-12 0-18-3-17-5-17-9-17-11-18-14-17-17-17-20-17-23-18-25-16-27-17-30-16-32-20-43-19-44-19-47-20-53-2 1z"/><path fill="#4743e7" d="M89 299l45 121 44 111 46 103 44 93 23 43 22 41 22 38 23 38 22 35 23 32 22 30 23 28 25 29 25 25 24 23 25 20 1-2-11-9-10-9-9-10-7-10-10-17-3-8-2-8-1-9 1-9 1-7 4-9 4-7 6-7 6-6 8-6 10-6 10-4 21-7 25-4 30-1 31 2 31 5 29 7 31 12 22 9 17 10 17 11 16 12 13 13 11 12 9 14 6 13 3 13 1 13-3 12-4 10-7 9-9 9-14 9-16 7 0 3 17-7 17-8 17-10 16-10 33-24 33-30 35-36 34-40 33-44 26-42 25-44 25-51 25-57 25-64 25-69 26-77 24-80 26-89-2-1-19 25-18 21-15 15-14 13-15 12-16 10-16 9-15 6-16 4-16 2-16 0-15-2-17-4-15-6-16-8-16-10-16-13-16-14-16-16-15-19-16-20-16-22-16-25-15-26-32-59-31-66-28-68-19-48-19-52-1 0-25 86-24 78-24 72-24 67-23 62-24 56-24 50-24 45-24 40-24 34-24 29-23 23-12 9-12 9-12 6-12 6-11 4-13 3-12 1-12 0-18-3-17-5-17-9-17-11-18-14-17-17-17-20-17-23-18-25-16-27-17-30-16-32-20-43-19-44-19-47-20-53-2 1z"/><path fill="#4746ea" d="M89 299l46 124 45 112 46 104 46 95 23 44 22 41 23 39 23 37 22 34 24 33 22 29 23 28 20 23 20 21 20 19 19 16 2-1-11-10-10-10-8-9-7-10-9-18-4-16-1-8 1-9 2-7 3-9 5-7 5-7 7-7 7-6 8-5 11-5 23-8 25-4 28-2 30 1 32 4 31 7 30 10 23 9 20 10 20 11 17 13 16 13 14 14 10 14 8 14 4 13 2 14-1 13-3 12-7 11-8 9-13 10-17 9 1 2 32-16 32-21 33-25 32-30 34-37 34-42 29-39 26-42 23-44 25-51 25-58 25-63 24-67 24-75 25-80 25-86-2-1-19 25-18 21-15 15-14 13-15 12-16 10-16 9-15 6-16 4-16 2-16 0-15-2-17-4-15-6-16-8-16-10-16-13-16-14-16-16-15-19-16-20-16-22-16-25-15-26-32-59-31-66-28-68-19-48-19-52-1 0-25 86-24 78-24 72-24 67-23 62-24 56-24 50-24 45-24 40-24 34-24 29-23 23-12 9-12 9-12 6-12 6-11 4-13 3-12 1-12 0-18-3-17-5-17-9-17-11-18-14-17-17-17-20-17-23-18-25-16-27-17-30-16-32-20-43-19-44-19-47-20-53-2 1z"/><path fill="#484aee" d="M89 299l46 125 47 114 46 106 23 48 23 46 24 45 23 42 23 40 24 37 23 36 23 32 23 29 23 28 31 32 30 29 2-2-20-19-8-10-6-10-8-17-3-9-2-8 0-8 1-9 2-8 3-8 4-7 6-8 6-6 7-6 8-5 11-5 22-9 26-5 28-3 29 1 30 3 32 6 31 8 23 9 24 10 22 12 20 12 18 14 15 14 13 16 9 14 7 15 3 14 1 14-3 14-6 11-8 11-13 12-17 9 1 3 32-18 31-22 31-25 32-31 34-38 32-41 26-37 25-40 24-45 24-51 24-56 24-64 24-67 24-72 24-78 25-86-2-1-19 25-18 21-15 15-14 13-15 12-16 10-16 9-15 6-16 4-16 2-16 0-15-2-17-4-15-6-16-8-16-10-16-13-16-14-16-16-15-19-16-20-16-22-16-25-15-26-32-59-31-66-28-68-19-48-19-52-1 0-25 86-24 78-24 72-24 67-23 62-24 56-24 50-24 45-24 40-24 34-24 29-23 23-12 9-12 9-12 6-12 6-11 4-13 3-12 1-12 0-18-3-17-5-17-9-17-11-18-14-17-17-17-20-17-23-18-25-16-27-17-30-16-32-20-43-19-44-19-47-20-53-2 1z"/><path fill="#484ef1" d="M89 299l47 127 47 115 24 56 24 52 23 49 24 47 23 44 23 42 24 40 23 37 24 34 23 33 23 29 25 29 21 23 23 22 1-2-11-11-10-11-7-11-7-12-4-10-3-10-2-11 0-9 2-10 3-9 5-9 6-8 7-8 10-8 10-5 12-6 19-7 22-5 22-2 25-1 25 1 25 3 25 4 28 7 25 8 26 11 23 11 23 14 20 14 16 14 14 15 12 17 8 16 5 15 1 15-2 15-5 12-8 11-6 7-7 6-16 11 1 2 30-19 32-23 30-27 31-31 33-38 34-44 23-34 22-38 23-44 24-51 23-55 24-62 23-65 24-73 24-78 24-83-2-1-19 25-18 21-15 15-14 13-15 12-16 10-16 9-15 6-16 4-16 2-16 0-15-2-17-4-15-6-16-8-16-10-16-13-16-14-16-16-15-19-16-20-16-22-16-25-15-26-32-59-31-66-28-68-19-48-19-52-1 0-25 86-24 78-24 72-24 67-23 62-24 56-24 50-24 45-24 40-24 34-24 29-23 23-12 9-12 9-12 6-12 6-11 4-13 3-12 1-12 0-18-3-17-5-17-9-17-11-18-14-17-17-17-20-17-23-18-25-16-27-17-30-16-32-20-43-19-44-19-47-20-53-2 1z"/><path fill="#4852f4" d="M89 299l47 127 48 118 24 56 24 52 24 51 24 47 24 45 24 42 24 40 24 38 23 34 24 32 23 29 25 28 28 30 2-2-19-20-7-10-6-10-4-10-4-11-2-10 0-9 0-9 2-9 3-9 6-9 6-8 8-8 8-6 10-6 19-9 20-6 24-5 26-2 25 0 30 2 27 4 29 6 27 8 27 10 26 12 24 13 22 15 19 15 16 16 13 17 10 17 6 15 2 16-1 16-4 13-7 13-6 7-7 7-17 12 2 2 29-20 30-23 31-28 29-31 32-37 31-41 22-34 23-40 23-45 23-50 24-55 23-60 23-66 23-70 23-76 24-83-2-1-19 25-18 21-15 15-14 13-15 12-16 10-16 9-15 6-16 4-16 2-16 0-15-2-17-4-15-6-16-8-16-10-16-13-16-14-16-16-15-19-16-20-16-22-16-25-15-26-32-59-31-66-28-68-19-48-19-52-1 0-25 86-24 78-24 72-24 67-23 62-24 56-24 50-24 45-24 40-24 34-24 29-23 23-12 9-12 9-12 6-12 6-11 4-13 3-12 1-12 0-18-3-17-5-17-9-17-11-18-14-17-17-17-20-17-23-18-25-16-27-17-30-16-32-20-43-19-44-19-47-20-53-2 1z"/><path fill="#4755f6" d="M89 299l48 130 49 119 24 55 24 54 25 51 23 47 25 45 24 43 25 41 23 36 25 36 23 31 25 30 24 28 12 12 2-1-9-11-9-10-7-11-6-11-4-10-3-10-2-11 0-10 1-8 2-8 3-7 4-8 11-13 14-12 17-10 21-8 23-6 26-4 27-2 30 1 30 4 29 5 29 7 30 10 29 12 26 14 23 14 22 16 18 17 15 18 11 17 7 17 4 17 0 17-3 15-8 14-5 7-7 7-8 6-9 6 2 2 29-20 30-24 29-28 29-32 31-37 28-38 22-35 23-39 22-44 23-51 22-53 23-61 23-63 23-71 23-76 23-80-2-1-19 25-18 21-15 15-14 13-15 12-16 10-16 9-15 6-16 4-16 2-16 0-15-2-17-4-15-6-16-8-16-10-16-13-16-14-16-16-15-19-16-20-16-22-16-25-15-26-32-59-31-66-28-68-19-48-19-52-1 0-25 86-24 78-24 72-24 67-23 62-24 56-24 50-24 45-24 40-24 34-24 29-23 23-12 9-12 9-12 6-12 6-11 4-13 3-12 1-12 0-18-3-17-5-17-9-17-11-18-14-17-17-17-20-17-23-18-25-16-27-17-30-16-32-20-43-19-44-19-47-20-53-2 1z"/><path fill="#4759f8" d="M89 299l48 130 25 61 24 59 25 56 24 54 25 51 23 47 25 45 25 44 24 40 25 38 24 35 25 32 24 29 24 28 2-2-17-20-6-10-6-10-7-17-3-17 0-9 1-8 2-8 3-8 4-8 5-8 13-13 17-11 20-10 24-7 26-6 28-2 28 0 33 2 30 5 31 7 31 10 30 11 29 14 25 15 23 16 20 17 17 18 13 18 10 19 5 18 1 17-3 17-7 15-6 8-6 7-8 6-9 7 1 2 30-21 28-25 29-29 29-32 30-37 25-35 22-34 22-40 22-45 22-49 23-55 22-58 22-64 22-69 23-73 23-80-2-1-19 25-18 21-15 15-14 13-15 12-16 10-16 9-15 6-16 4-16 2-16 0-15-2-17-4-15-6-16-8-16-10-16-13-16-14-16-16-15-19-16-20-16-22-16-25-15-26-32-59-31-66-28-68-19-48-19-52-1 0-25 86-24 78-24 72-24 67-23 62-24 56-24 50-24 45-24 40-24 34-24 29-23 23-12 9-12 9-12 6-12 6-11 4-13 3-12 1-12 0-18-3-17-5-17-9-17-11-18-14-17-17-17-20-17-23-18-25-16-27-17-30-16-32-20-43-19-44-19-47-20-53-2 1z"/><path fill="#475dfa" d="M89 299l47 127 48 118 47 105 24 52 24 47 24 46 24 41 24 40 24 38 23 35 24 33 24 29 24 28 2-2-17-20-6-11-6-10-6-18-2-18 0-9 1-8 2-8 4-8 4-8 5-7 6-7 8-7 18-11 22-11 24-7 27-5 28-2 31 0 33 3 30 5 31 7 32 10 29 11 31 15 25 14 24 17 22 18 17 19 13 18 10 20 5 18 1 17-2 17-7 15-5 8-6 8-8 7-9 7 2 2 28-22 29-26 28-30 28-32 29-36 22-32 22-35 21-39 22-43 22-50 22-55 23-59 21-62 22-68 23-74 22-77-2-1-19 25-18 21-15 15-14 13-15 12-16 10-16 9-15 6-16 4-16 2-16 0-15-2-17-4-15-6-16-8-16-10-16-13-16-14-16-16-15-19-16-20-16-22-16-25-15-26-32-59-31-66-28-68-19-48-19-52-1 0-25 86-24 78-24 72-24 67-23 62-24 56-24 50-24 45-24 40-24 34-24 29-23 23-12 9-12 9-12 6-12 6-11 4-13 3-12 1-12 0-18-3-17-5-17-9-17-11-18-14-17-17-17-20-17-23-18-25-16-27-17-30-16-32-20-43-19-44-19-47-20-53-2 1z"/><path fill="#4660fc" d="M89 299l46 125 47 115 47 106 23 48 23 47 24 45 23 42 23 40 24 37 23 35 23 32 23 29 23 28 2-2-17-21-6-11-5-10-6-18-2-18 1-9 1-9 3-8 3-9 10-14 15-14 17-12 22-10 26-7 27-5 28-2 31 0 33 2 33 5 34 8 31 10 32 12 29 14 27 15 24 17 22 18 18 19 14 20 10 18 6 19 2 10 0 9-2 17-6 15-5 9-7 8-7 7-9 7 1 2 28-22 28-26 28-30 28-34 29-36 19-28 21-35 22-40 21-44 22-49 21-53 22-60 22-62 21-66 22-71 22-77-2-1-19 25-18 21-15 15-14 13-15 12-16 10-16 9-15 6-16 4-16 2-16 0-15-2-17-4-15-6-16-8-16-10-16-13-16-14-16-16-15-19-16-20-16-22-16-25-15-26-32-59-31-66-28-68-19-48-19-52-1 0-25 86-24 78-24 72-24 67-23 62-24 56-24 50-24 45-24 40-24 34-24 29-23 23-12 9-12 9-12 6-12 6-11 4-13 3-12 1-12 0-18-3-17-5-17-9-17-11-18-14-17-17-17-20-17-23-18-25-16-27-17-30-16-32-20-43-19-44-19-47-20-53-2 1z"/><path fill="#4464fd" d="M89 299l45 121 45 113 46 104 45 94 23 44 23 42 22 38 24 38 22 34 23 33 23 30 23 28 2-1-17-22-6-11-5-11-6-19-1-17 0-9 2-9 3-8 4-9 4-7 7-9 14-13 19-12 23-10 26-8 27-4 30-3 32 0 32 3 33 5 35 8 32 10 31 12 31 14 27 15 26 18 23 19 18 19 15 19 10 20 4 9 3 11 2 9 0 9 0 9-2 9-2 8-4 8-4 9-7 8-7 8-8 7 1 2 27-24 28-27 27-29 28-34 26-34 19-29 20-34 21-39 21-43 21-49 22-53 21-58 21-62 22-66 21-71 22-75-2-1-19 25-18 21-15 15-14 13-15 12-16 10-16 9-15 6-16 4-16 2-16 0-15-2-17-4-15-6-16-8-16-10-16-13-16-14-16-16-15-19-16-20-16-22-16-25-15-26-32-59-31-66-28-68-19-48-19-52-1 0-25 86-24 78-24 72-24 67-23 62-24 56-24 50-24 45-24 40-24 34-24 29-23 23-12 9-12 9-12 6-12 6-11 4-13 3-12 1-12 0-18-3-17-5-17-9-17-11-18-14-17-17-17-20-17-23-18-25-16-27-17-30-16-32-20-43-19-44-19-47-20-53-2 1z"/><path fill="#4368fe" d="M89 299l45 121 44 111 45 101 44 92 22 43 22 41 23 39 22 37 22 34 22 32 22 31 23 27 1-1-8-11-8-11-6-12-5-10-5-19-1-18 1-10 2-9 3-9 4-8 5-7 6-9 15-13 19-12 23-10 25-8 29-5 31-2 31 0 35 3 34 5 34 8 32 9 34 13 31 14 29 16 26 18 23 19 19 20 16 20 11 20 7 19 1 10 1 10 0 9-1 8-3 9-3 9-5 8-6 9-7 8-9 7 2 2 27-24 27-27 27-30 28-35 23-31 19-29 20-34 20-40 21-43 21-48 20-51 22-59 20-59 22-67 20-68 22-75-2-1-19 25-18 21-15 15-14 13-15 12-16 10-16 9-15 6-16 4-16 2-16 0-15-2-17-4-15-6-16-8-16-10-16-13-16-14-16-16-15-19-16-20-16-22-16-25-15-26-32-59-31-66-28-68-19-48-19-52-1 0-25 86-24 78-24 72-24 67-23 62-24 56-24 50-24 45-24 40-24 34-24 29-23 23-12 9-12 9-12 6-12 6-11 4-13 3-12 1-12 0-18-3-17-5-17-9-17-11-18-14-17-17-17-20-17-23-18-25-16-27-17-30-16-32-20-43-19-44-19-47-20-53-2 1z"/><path fill="#406cfe" d="M89 299l43 118 44 108 43 99 43 91 45 85 21 37 22 37 22 35 22 32 21 30 22 28 2-2-16-22-6-11-5-11-5-19-1-9 0-10 1-10 2-9 3-9 4-8 5-7 7-8 7-8 9-7 19-12 24-10 26-8 29-5 31-2 34 0 35 3 34 5 34 8 35 10 34 13 31 14 29 16 27 19 23 19 20 20 16 20 11 19 5 11 3 10 2 10 1 10 0 9-1 9-2 9-3 9-5 9-6 9-7 8-9 8 2 2 28-26 27-28 27-31 27-35 19-27 19-30 19-33 20-39 21-44 20-48 21-52 20-56 21-60 21-65 20-68 21-72-2-1-19 25-18 21-15 15-14 13-15 12-16 10-16 9-15 6-16 4-16 2-16 0-15-2-17-4-15-6-16-8-16-10-16-13-16-14-16-16-15-19-16-20-16-22-16-25-15-26-32-59-31-66-28-68-19-48-19-52-1 0-25 86-24 78-24 72-24 67-23 62-24 56-24 50-24 45-24 40-24 34-24 29-23 23-12 9-12 9-12 6-12 6-11 4-13 3-12 1-12 0-18-3-17-5-17-9-17-11-18-14-17-17-17-20-17-23-18-25-16-27-17-30-16-32-20-43-19-44-19-47-20-53-2 1z"/><path fill="#3e70ff" d="M89 299l42 114 42 106 44 100 42 89 43 83 42 74 21 33 22 33 21 30 21 28 2-1-9-12-7-11-5-11-5-12-5-19-1-9 0-10 1-9 3-10 3-8 5-10 5-7 7-8 7-8 9-6 19-12 24-11 28-8 29-5 33-3 34 1 36 3 34 5 35 8 36 11 34 12 32 15 31 17 26 18 24 20 20 19 17 22 12 20 7 21 3 10 1 9 0 10-1 9-2 10-3 9-5 9-6 9-7 8-8 8 1 2 27-25 27-29 26-32 28-35 18-27 18-29 18-32 19-38 20-42 21-49 20-50 20-56 20-58 21-65 20-68 21-72-2-1-19 25-18 21-15 15-14 13-15 12-16 10-16 9-15 6-16 4-16 2-16 0-15-2-17-4-15-6-16-8-16-10-16-13-16-14-16-16-15-19-16-20-16-22-16-25-15-26-32-59-31-66-28-68-19-48-19-52-1 0-25 86-24 78-24 72-24 67-23 62-24 56-24 50-24 45-24 40-24 34-24 29-23 23-12 9-12 9-12 6-12 6-11 4-13 3-12 1-12 0-18-3-17-5-17-9-17-11-18-14-17-17-17-20-17-23-18-25-16-27-17-30-16-32-20-43-19-44-19-47-20-53-2 1z"/><path fill="#3a74fe" d="M89 299l41 112 42 105 42 97 41 88 42 81 41 73 21 34 21 33 21 29 21 29 2-2-9-11-7-12-5-11-5-12-5-19 0-19 1-10 3-9 3-9 5-9 6-9 6-8 17-14 21-13 24-10 28-8 30-5 32-3 35 1 35 2 37 6 34 8 36 10 34 13 35 16 30 17 28 18 24 20 22 20 17 22 12 21 8 21 3 11 1 10 0 9-1 10-2 10-2 8-5 9-5 9-7 9-9 9 2 1 27-26 26-29 25-31 26-34 17-26 19-30 18-33 18-36 20-43 19-47 20-50 21-57 20-58 19-62 20-66 21-72-2-1-19 25-18 21-15 15-14 13-15 12-16 10-16 9-15 6-16 4-16 2-16 0-15-2-17-4-15-6-16-8-16-10-16-13-16-14-16-16-15-19-16-20-16-22-16-25-15-26-32-59-31-66-28-68-19-48-19-52-1 0-25 86-24 78-24 72-24 67-23 62-24 56-24 50-24 45-24 40-24 34-24 29-23 23-12 9-12 9-12 6-12 6-11 4-13 3-12 1-12 0-18-3-17-5-17-9-17-11-18-14-17-17-17-20-17-23-18-25-16-27-17-30-16-32-20-43-19-44-19-47-20-53-2 1z"/><path fill="#3678fd" d="M89 299l40 109 41 102 41 95 41 88 40 80 41 73 40 65 21 30 21 29 2-1-9-12-6-11-6-12-5-12-4-19-1-10 0-10 2-10 2-9 4-9 5-9 6-8 6-8 8-8 10-8 21-12 24-11 28-7 32-6 33-3 37 1 35 3 37 5 38 9 35 11 35 13 33 15 31 17 29 19 25 20 21 20 17 22 14 21 8 22 3 10 1 10 1 10-1 10-2 10-2 9-5 10-5 9-7 9-9 9 2 2 26-26 24-28 25-30 24-34 18-26 18-30 18-33 18-37 19-42 20-47 20-51 20-55 19-58 20-62 20-66 20-69-2-1-19 25-18 21-15 15-14 13-15 12-16 10-16 9-15 6-16 4-16 2-16 0-15-2-17-4-15-6-16-8-16-10-16-13-16-14-16-16-15-19-16-20-16-22-16-25-15-26-32-59-31-66-28-68-19-48-19-52-1 0-25 86-24 78-24 72-24 67-23 62-24 56-24 50-24 45-24 40-24 34-24 29-23 23-12 9-12 9-12 6-12 6-11 4-13 3-12 1-12 0-18-3-17-5-17-9-17-11-18-14-17-17-17-20-17-23-18-25-16-27-17-30-16-32-20-43-19-44-19-47-20-53-2 1z"/><path fill="#327cfc" d="M89 299l40 109 40 100 39 92 40 86 40 79 40 72 40 65 40 59 2-2-9-12-7-12-5-12-4-11-3-11-2-10 0-11 1-9 1-10 3-9 4-10 5-9 7-8 7-8 8-7 10-8 21-12 26-11 29-8 31-5 34-2 37 0 35 3 37 6 39 9 35 10 36 14 34 15 33 18 28 19 26 21 21 20 18 22 13 22 5 11 4 11 3 11 2 10 0 10-1 10-1 10-3 9-4 10-6 9-7 9-8 9 2 2 24-26 24-27 24-30 24-32 17-27 18-31 18-34 19-37 19-42 19-46 19-49 19-55 19-56 20-63 39-132-2-1-19 25-18 21-15 15-14 13-15 12-16 10-16 9-15 6-16 4-16 2-16 0-15-2-17-4-15-6-16-8-16-10-16-13-16-14-16-16-15-19-16-20-16-22-16-25-15-26-32-59-31-66-28-68-19-48-19-52-1 0-25 86-24 78-24 72-24 67-23 62-24 56-24 50-24 45-24 40-24 34-24 29-23 23-12 9-12 9-12 6-12 6-11 4-13 3-12 1-12 0-18-3-17-5-17-9-17-11-18-14-17-17-17-20-17-23-18-25-16-27-17-30-16-32-20-43-19-44-19-47-20-53-2 1z"/><path fill="#3080fa" d="M89 299l39 106 38 97 40 93 39 84 38 78 40 72 39 64 39 58 2-1-9-13-6-12-6-12-4-12-2-10-2-11 0-9 0-10 2-10 3-9 4-10 6-9 6-9 8-9 9-8 9-6 21-13 27-11 30-8 32-5 33-2 37 0 39 3 37 6 38 9 36 11 36 13 34 16 33 17 29 19 26 21 23 22 18 22 14 22 10 22 3 11 2 10 0 11 0 10-2 10-2 10-4 10-6 10-7 9-8 9 2 2 23-25 24-28 24-31 21-29 17-27 19-32 17-33 18-37 19-43 19-46 19-50 19-53 19-57 19-59 38-130-2-1-19 25-18 21-15 15-14 13-15 12-16 10-16 9-15 6-16 4-16 2-16 0-15-2-17-4-15-6-16-8-16-10-16-13-16-14-16-16-15-19-16-20-16-22-16-25-15-26-32-59-31-66-28-68-19-48-19-52-1 0-25 86-24 78-24 72-24 67-23 62-24 56-24 50-24 45-24 40-24 34-24 29-23 23-12 9-12 9-12 6-12 6-11 4-13 3-12 1-12 0-18-3-17-5-17-9-17-11-18-14-17-17-17-20-17-23-18-25-16-27-17-30-16-32-20-43-19-44-19-47-20-53-2 1z"/><path fill="#2e84f9" d="M89 299l38 102 38 98 39 90 37 83 38 76 38 71 39 65 38 58 2-1-8-13-7-12-5-12-4-13-3-10-1-11 0-10 1-10 2-10 3-10 4-10 6-9 6-8 8-9 8-7 10-8 12-7 12-6 26-10 31-8 31-6 36-2 37 1 39 3 37 6 39 9 36 11 38 14 36 16 32 18 30 20 26 20 23 22 18 22 14 22 6 11 4 12 4 11 1 11 1 10 0 10-1 10-3 10-4 10-5 10-7 10-8 9 1 2 23-25 24-28 24-32 18-26 18-28 17-30 17-34 19-38 18-41 19-47 18-47 19-53 18-55 19-59 38-130-2-1-19 25-18 21-15 15-14 13-15 12-16 10-16 9-15 6-16 4-16 2-16 0-15-2-17-4-15-6-16-8-16-10-16-13-16-14-16-16-15-19-16-20-16-22-16-25-15-26-32-59-31-66-28-68-19-48-19-52-1 0-25 86-24 78-24 72-24 67-23 62-24 56-24 50-24 45-24 40-24 34-24 29-23 23-12 9-12 9-12 6-12 6-11 4-13 3-12 1-12 0-18-3-17-5-17-9-17-11-18-14-17-17-17-20-17-23-18-25-16-27-17-30-16-32-20-43-19-44-19-47-20-53-2 1z"/><path fill="#2e87f7" d="M89 299l36 99 38 95 37 89 38 82 37 76 38 71 37 63 38 58 2-1-8-12-7-13-5-12-4-12-3-11-1-10 0-11 1-10 2-10 3-10 5-10 5-9 6-8 9-9 9-8 10-8 23-13 27-11 30-8 34-5 36-3 37 1 39 3 40 7 39 8 36 11 38 14 36 16 34 19 30 20 27 21 23 22 19 22 15 23 5 12 5 11 3 11 2 12 1 10 0 11-1 10-3 9-4 11-5 10-7 10-8 10 2 1 22-25 23-28 24-32 17-24 17-28 17-31 18-34 17-37 18-42 18-45 18-48 19-53 37-112 37-127-2-1-19 25-18 21-15 15-14 13-15 12-16 10-16 9-15 6-16 4-16 2-16 0-15-2-17-4-15-6-16-8-16-10-16-13-16-14-16-16-15-19-16-20-16-22-16-25-15-26-32-59-31-66-28-68-19-48-19-52-1 0-25 86-24 78-24 72-24 67-23 62-24 56-24 50-24 45-24 40-24 34-24 29-23 23-12 9-12 9-12 6-12 6-11 4-13 3-12 1-12 0-18-3-17-5-17-9-17-11-18-14-17-17-17-20-17-23-18-25-16-27-17-30-16-32-20-43-19-44-19-47-20-53-2 1z"/><path fill="#2d8bf4" d="M89 299l36 99 37 92 37 89 36 80 37 75 36 68 36 63 37 58 2-1-8-13-6-12-6-13-3-12-3-11-1-10 0-12 1-10 3-11 3-10 5-10 5-8 7-9 8-9 9-8 11-7 23-13 28-11 31-8 34-6 36-2 37 0 38 4 41 6 38 8 40 12 38 14 36 16 34 18 31 20 28 22 24 23 20 23 15 23 10 23 4 12 2 11 1 11 0 10-1 11-3 10-4 11-5 10-7 10-8 10 2 1 23-26 22-28 21-27 17-26 17-28 17-31 17-35 18-37 17-40 18-45 18-48 18-52 37-112 36-124-2-1-19 25-18 21-15 15-14 13-15 12-16 10-16 9-15 6-16 4-16 2-16 0-15-2-17-4-15-6-16-8-16-10-16-13-16-14-16-16-15-19-16-20-16-22-16-25-15-26-32-59-31-66-28-68-19-48-19-52-1 0-25 86-24 78-24 72-24 67-23 62-24 56-24 50-24 45-24 40-24 34-24 29-23 23-12 9-12 9-12 6-12 6-11 4-13 3-12 1-12 0-18-3-17-5-17-9-17-11-18-14-17-17-17-20-17-23-18-25-16-27-17-30-16-32-20-43-19-44-19-47-20-53-2 1z"/><path fill="#2c8ef1" d="M89 299l36 97 35 91 36 86 36 79 36 75 36 68 36 63 35 56 2-1-8-13-6-13-6-13-3-12-2-11-2-11 0-11 2-10 2-11 4-10 4-10 7-10 6-8 9-9 9-8 10-7 24-13 28-11 33-9 34-5 35-3 40 1 39 3 40 7 40 9 40 11 38 14 38 17 34 19 30 20 29 22 24 22 20 23 15 23 6 12 5 12 4 12 2 11 1 11 1 11-1 10-3 11-4 11-5 11-6 10-8 10 1 1 22-25 22-28 19-26 16-25 17-28 17-32 18-35 17-37 17-41 18-45 18-47 18-51 35-111 36-121-2-1-19 25-18 21-15 15-14 13-15 12-16 10-16 9-15 6-16 4-16 2-16 0-15-2-17-4-15-6-16-8-16-10-16-13-16-14-16-16-15-19-16-20-16-22-16-25-15-26-32-59-31-66-28-68-19-48-19-52-1 0-25 86-24 78-24 72-24 67-23 62-24 56-24 50-24 45-24 40-24 34-24 29-23 23-12 9-12 9-12 6-12 6-11 4-13 3-12 1-12 0-18-3-17-5-17-9-17-11-18-14-17-17-17-20-17-23-18-25-16-27-17-30-16-32-20-43-19-44-19-47-20-53-2 1z"/><path fill="#2b92ef" d="M89 299l34 93 35 90 35 84 36 79 34 72 36 68 35 62 35 58 2-2-8-13-6-12-5-13-4-13-2-11-1-11 0-11 1-10 3-11 3-10 5-10 7-10 7-9 9-9 9-8 10-7 13-8 12-6 29-11 32-8 35-6 35-2 40 0 42 4 40 6 40 9 40 12 39 15 38 17 34 18 32 21 29 22 24 22 21 24 16 24 6 12 5 12 3 13 3 10 1 11 0 11-1 10-2 11-4 11-5 11-6 10-8 11 2 1 21-26 22-28 16-23 17-26 16-28 18-32 16-34 17-38 18-41 17-44 35-96 34-108 36-121-2-1-19 25-18 21-15 15-14 13-15 12-16 10-16 9-15 6-16 4-16 2-16 0-15-2-17-4-15-6-16-8-16-10-16-13-16-14-16-16-15-19-16-20-16-22-16-25-15-26-32-59-31-66-28-68-19-48-19-52-1 0-25 86-24 78-24 72-24 67-23 62-24 56-24 50-24 45-24 40-24 34-24 29-23 23-12 9-12 9-12 6-12 6-11 4-13 3-12 1-12 0-18-3-17-5-17-9-17-11-18-14-17-17-17-20-17-23-18-25-16-27-17-30-16-32-20-43-19-44-19-47-20-53-2 1z"/><path fill="#2895ec" d="M89 299l34 93 34 86 35 84 34 77 35 73 34 66 34 61 34 56 2-1-8-13-6-13-5-13-4-13-2-11-1-11 1-11 1-10 2-11 4-10 5-10 6-10 8-9 8-9 10-8 11-8 13-8 12-6 29-11 32-9 34-5 38-2 40 0 42 4 40 6 42 9 40 12 38 14 40 18 35 19 33 20 29 22 25 24 21 24 16 24 7 13 5 12 4 12 2 11 1 11 1 11-1 12-2 10-4 11-5 11-6 11-8 10 2 1 22-27 21-29 15-21 15-24 17-29 16-31 17-34 17-39 16-39 18-44 34-97 34-105 35-119-2-1-19 25-18 21-15 15-14 13-15 12-16 10-16 9-15 6-16 4-16 2-16 0-15-2-17-4-15-6-16-8-16-10-16-13-16-14-16-16-15-19-16-20-16-22-16-25-15-26-32-59-31-66-28-68-19-48-19-52-1 0-25 86-24 78-24 72-24 67-23 62-24 56-24 50-24 45-24 40-24 34-24 29-23 23-12 9-12 9-12 6-12 6-11 4-13 3-12 1-12 0-18-3-17-5-17-9-17-11-18-14-17-17-17-20-17-23-18-25-16-27-17-30-16-32-20-43-19-44-19-47-20-53-2 1z"/><path fill="#2798ea" d="M89 299l33 91 34 86 33 80 34 76 33 71 34 65 33 61 34 57 2-1-8-14-6-13-5-14-4-12-1-12-1-11 0-12 2-10 3-11 4-10 5-10 7-10 7-10 9-8 10-8 12-8 11-7 14-7 15-6 15-5 33-8 35-5 38-3 40 1 42 4 40 6 43 9 40 13 40 14 40 18 35 19 32 21 29 22 26 23 21 24 16 24 7 13 5 12 4 12 3 13 2 10 0 12-1 11-2 11-3 12-5 11-7 11-7 10 1 1 21-26 20-26 15-22 15-26 17-29 16-32 17-34 16-37 33-82 34-95 34-106 34-116-2-1-19 25-18 21-15 15-14 13-15 12-16 10-16 9-15 6-16 4-16 2-16 0-15-2-17-4-15-6-16-8-16-10-16-13-16-14-16-16-15-19-16-20-16-22-16-25-15-26-32-59-31-66-28-68-19-48-19-52-1 0-25 86-24 78-24 72-24 67-23 62-24 56-24 50-24 45-24 40-24 34-24 29-23 23-12 9-12 9-12 6-12 6-11 4-13 3-12 1-12 0-18-3-17-5-17-9-17-11-18-14-17-17-17-20-17-23-18-25-16-27-17-30-16-32-20-43-19-44-19-47-20-53-2 1z"/><path fill="#259be8" d="M345 861l-5-12-5-12-4-13-2-12-1-12 1-11 1-11 3-11 4-11 5-9 7-10 6-8 17-16 12-10 15-8 0-2-20 2-19-1-19-5-19-9-20-12-18-16-20-20-19-22-19-26-19-30-19-32-18-35-21-43-19-46-21-51-21-55-2 1 34 90 32 84 34 81 33 76 33 69 33 66 33 62 33 56 3-1zM1033 959l14-20 15-24 29-51 29-60 30-70 29-76 29-86 29-93 30-102-2-1-19 25-18 21-15 15-14 13-15 12-16 10-16 9-15 6-16 4-16 2-16 0-15-2-17-4-15-6-16-8-16-10-16-13-16-14-16-16-15-19-16-20-16-22-16-25-15-26-32-59-31-66-28-68-19-48-19-52-1 0-20 69-20 66-19 59-19 59-19 52-20 52-19 45-20 44-19 38-20 37-18 31-20 29-19 25-20 21-20 18-19 14 1 2 25-7 27-5 41-4 23 0 24 0 26 2 24 2 26 4 25 5 27 6 26 7 27 8 24 9 24 10 25 11 27 14 27 16 24 16 22 17 19 17 18 18 15 20 13 18 9 19 7 18 4 18 2 18-2 17-4 15-8 18-12 17 2 1z"/><path fill="#249ee6" d="M323 791l1-14 2-13 4-12 6-12 7-12 8-10 12-12 13-10-1-1-17-2-18-5-18-8-17-11-18-14-18-17-18-21-18-23-17-25-17-28-17-32-17-32-19-41-19-44-19-47-20-53-2 1 32 87 33 84 32 77 32 75 33 70 33 66 33 60 32 56 2-2-12-21-7-21-4-16zM652 655l42 8 46 12 44 15 43 17 39 20 36 21 32 24 28 24 24 25 10 13 9 13 7 13 6 13 5 12 4 14 2 12 1 12-1 12-2 12-3 12-5 12-6 11-8 11 2 1 20-26 16-23 15-23 16-26 15-29 16-32 16-33 16-38 33-81 32-92 32-101 33-113-2-1-19 25-18 21-15 15-14 13-15 12-16 10-16 9-15 6-16 4-16 2-16 0-15-2-17-4-15-6-16-8-16-10-16-13-16-14-16-16-15-19-16-20-16-22-16-25-15-26-32-59-31-66-28-68-19-48-19-52-1 0-36 124-36 110-17 49-18 48-18 46-19 42-17 37-18 36-18 33-18 30-18 26-18 24-18 20-18 17 0 1 25-5 25-3 41-2 47 2z"/><path fill="#22a1e4" d="M341 855l-12-23-7-22-4-22 1-21 1-10 3-10 8-18 12-18 17-17-17-5-16-6-17-10-17-12-17-16-16-17-18-21-16-23-16-26-16-26-17-31-15-31-18-39-18-43-19-45-19-51-2 1 34 90 32 84 33 79 33 75 35 75 35 69 26 47 26 46 2-1zM1033 959l14-20 15-24 29-51 29-60 30-70 29-76 29-86 29-93 30-102-2-1-19 25-18 21-15 15-14 13-15 12-16 10-16 9-15 6-16 4-16 2-16 0-15-2-17-4-15-6-16-8-16-10-16-13-16-14-16-16-15-19-16-20-16-22-16-25-15-26-32-59-31-66-28-68-19-48-19-52-1 0-35 119-34 105-33 95-17 42-17 41-17 37-17 36-16 31-18 30-16 26-17 25-18 22-17 19 1 0 25-3 26-2 22-1 24 1 26 1 27 3 27 4 25 4 26 6 25 7 50 16 25 10 24 11 22 11 22 12 21 12 20 13 18 14 17 14 16 15 13 14 13 16 11 15 11 20 9 20 5 21 2 19-2 20-4 17-8 17-10 16 1 1z"/><path fill="#20a4e3" d="M335 845l-11-21-7-21-3-21-1-20 4-19 7-19 10-17 14-16-16-6-16-8-16-11-16-13-16-16-16-18-16-21-16-23-15-25-16-27-16-30-15-30-17-38-17-41-17-43-19-49-2 1 32 87 33 84 32 77 32 75 35 74 35 69 24 45 26 45 2-1zM506 629l26-2 25-1 27 1 26 1 28 3 27 5 29 5 26 7 27 7 25 8 27 10 25 11 26 12 24 12 23 14 21 13 20 15 18 15 16 14 16 17 13 15 11 17 10 16 8 16 5 15 3 15 2 16 0 15-3 13-3 14-8 15-10 16 2 1 18-24 14-21 15-24 15-27 15-29 16-32 31-71 31-78 31-90 31-99 32-108-2-1-19 25-18 21-15 15-14 13-15 12-16 10-16 9-15 6-16 4-16 2-16 0-15-2-17-4-15-6-16-8-16-10-16-13-16-14-16-16-15-19-16-20-16-22-16-25-15-26-32-59-31-66-28-68-19-48-19-52-1 0-30 102-29 95-30 86-30 78-17 41-17 39-18 35-18 35-17 29-18 28-17 24-19 22 1 1z"/><path fill="#1ea7e1" d="M330 836l-10-21-7-20-4-19-1-20 3-18 5-18 9-17 12-16-15-7-16-9-15-12-15-14-15-16-16-19-16-21-15-23-14-24-15-27-29-57-17-38-17-40-34-88-2 1 31 84 32 81 31 77 32 73 34 73 34 69 25 46 24 44 3-1zM1033 959l14-20 15-24 29-51 29-60 30-70 29-76 29-86 29-93 30-102-2-1-19 25-18 21-15 15-14 13-15 12-16 10-16 9-15 6-16 4-16 2-16 0-15-2-17-4-15-6-16-8-16-10-16-13-16-14-16-16-15-19-16-20-16-22-16-25-15-26-32-59-31-66-28-68-19-48-19-52-1 0-31 108-32 99-30 87-32 81-31 71-16 32-15 30-16 27-15 25-16 22-15 20 26-1 27-1 25 1 26 1 27 3 27 4 25 5 27 6 26 7 27 9 27 9 24 10 25 11 23 12 22 12 21 13 20 14 18 14 18 15 16 15 14 15 13 16 10 15 9 16 8 18 5 18 4 18 0 17-2 17-5 16-7 15-10 15 2 1z"/><path fill="#1baade" d="M325 827l-10-20-7-19-4-19-1-19 2-19 5-16 7-17 11-15-15-8-15-10-14-13-15-14-15-17-15-19-15-21-14-21-28-49-28-57-16-36-17-40-33-86-2 1 31 84 31 78 30 76 32 72 33 72 33 68 24 45 24 43 2-1zM860 678l28 15 26 16 25 17 22 18 20 18 18 20 15 18 13 20 10 18 7 20 4 19 2 18-1 17-4 17-7 18-11 17 2 2 14-21 15-23 15-25 15-27 30-61 29-69 30-77 30-86 29-95 31-105-2-1-19 25-18 21-15 15-14 13-15 12-16 10-16 9-15 6-16 4-16 2-16 0-15-2-17-4-15-6-16-8-16-10-16-13-16-14-16-16-15-19-16-20-16-22-16-25-15-26-32-59-31-66-28-68-19-48-19-52-1 0-31 105-29 94-30 86-30 80-30 69-30 60-15 27-14 25-15 22-16 22 45-1 42 2 43 4 46 9 44 10 43 14 43 16z"/><path fill="#19addc" d="M320 818l-10-18-6-19-5-19-1-18 1-17 4-17 7-16 9-16-14-9-14-10-14-13-14-15-15-17-14-18-14-21-14-22-27-48-26-54-32-75-33-84-2 1 30 81 30 78 31 75 30 71 33 71 33 67 23 45 23 41 2-1zM1042 948l14-22 14-23 28-52 28-60 28-67 28-75 28-83 28-89 29-100-2-1-19 25-18 21-15 15-14 13-15 12-16 10-16 9-15 6-16 4-16 2-16 0-15-2-17-4-15-6-16-8-16-10-16-13-16-14-16-16-15-19-16-20-16-22-16-25-15-26-32-59-31-66-28-68-19-48-19-52-1 0-29 99-29 93-29 84-29 76-28 69-29 60-29 53-15 23-14 21 54 0 50 4 26 4 28 5 51 12 26 8 27 9 26 10 24 10 25 12 23 12 21 12 22 14 18 13 19 15 17 16 15 15 14 15 12 16 10 16 9 15 6 16 5 15 3 14 1 16-1 17-4 19-7 16-10 16 2 2z"/><path fill="#14b0d8" d="M315 809l-9-18-7-18-4-17-2-18 1-17 3-17 6-16 8-14-14-10-13-12-14-14-14-14-14-17-13-18-27-43-26-48-26-53-30-71-32-82-2 1 30 81 29 75 30 73 30 70 33 72 32 67 44 82 2-2zM1048 938l27-45 28-52 27-60 27-66 27-73 28-81 27-87 28-97-2-1-19 25-18 21-15 15-14 13-15 12-16 10-16 9-15 6-16 4-16 2-16 0-15-2-17-4-15-6-16-8-16-10-16-13-16-14-16-16-15-19-16-20-16-22-16-25-15-26-32-59-31-66-28-68-19-48-19-52-1 0-28 97-28 90-28 82-28 75-27 66-28 60-28 52-28 45 53 1 51 4 26 4 29 6 52 13 50 16 25 10 25 11 23 11 23 12 21 13 21 13 19 14 18 15 18 15 15 15 12 15 13 16 11 16 8 15 6 16 5 15 3 15 2 14-1 17-3 18-6 16-9 16 2 1z"/><path fill="#0fb2d5" d="M301 673l3-4-16-12-15-15-16-17-15-19-24-35-24-39-24-45-23-49-29-68-30-78-2 1 28 75 28 73 28 69 27 65 28 62 28 59 28 56 28 51 2-1-10-20-7-20-4-15-1-14 0-16 2-15 4-15zM1056 925l26-44 26-52 27-59 26-65 27-73 26-78 26-86 27-91-2-1-19 25-18 21-15 15-14 13-15 12-16 10-16 9-15 6-16 4-16 2-16 0-15-2-17-4-15-6-16-8-16-10-16-13-16-14-16-16-15-19-16-20-16-22-16-25-15-26-32-59-31-66-28-68-19-48-19-52-1 0-27 94-28 88-26 78-27 74-26 64-28 60-27 53-27 45 50 1 27 2 25 3 52 9 53 14 51 17 26 10 23 10 24 12 22 12 21 12 20 13 19 13 19 15 16 15 15 15 13 14 12 15 11 15 9 16 7 15 5 15 4 16 2 14 0 19-2 16-5 18-8 16 2 1z"/><path fill="#09b4d1" d="M304 790l-8-17-6-16-4-17-2-16 0-16 2-15 4-15 7-15-13-11-13-12-13-14-12-15-26-36-25-42-24-45-24-50-29-68-30-78-2 1 29 78 28 73 29 72 28 66 26 57 26 54 26 52 26 49 2-1zM1063 914l25-44 25-52 26-58 26-64 25-71 26-76 25-83 26-89-2-1-19 25-18 21-15 15-14 13-15 12-16 10-16 9-15 6-16 4-16 2-16 0-15-2-17-4-15-6-16-8-16-10-16-13-16-14-16-16-15-19-16-20-16-22-16-25-15-26-32-59-31-66-28-68-19-48-19-52-1 0-27 91-26 86-25 76-27 72-25 64-27 59-26 52-26 45 50 2 28 2 25 4 54 10 50 13 51 17 47 20 44 23 21 13 22 13 18 14 18 14 16 14 15 15 13 15 12 14 11 16 9 15 7 14 6 15 4 14 2 15 1 18-1 18-5 17-7 17 2 1z"/><path fill="#04b6cd" d="M282 735l-3-20 1-20 3-20 7-17-12-11-13-13-24-30-25-35-25-42-23-43-22-48-29-68-29-76-2 1 27 71 26 71 27 67 27 62 26 60 27 57 26 53 27 51 2-1-12-25-4-12zM693 565l44 11 42 13 43 16 39 18 38 19 36 22 32 24 28 24 24 25 20 25 15 26 7 13 5 13 3 12 3 13 2 12 0 11-1 13-2 12-4 13-5 11 2 1 25-45 26-52 25-57 25-64 25-69 26-76 25-83 26-89-2-1-19 25-18 21-15 15-14 13-15 12-16 10-16 9-15 6-16 4-16 2-16 0-15-2-17-4-15-6-16-8-16-10-16-13-16-14-16-16-15-19-16-20-16-22-16-25-15-26-32-59-31-66-28-68-19-48-19-52-1 0-26 88-25 83-25 75-26 70-24 63-26 58-25 52-25 45 34 1 35 3 36 5z"/><path fill="#01b8c9" d="M295 773l-8-16-6-16-4-16-2-15 0-15 1-15 3-14 5-14-23-23-24-30-24-35-24-41-22-43-23-47-28-67-28-74-2 1 28 75 28 73 27 67 27 65 24 53 25 53 24 50 25 47 2-1zM797 584l35 14 34 16 32 17 30 18 27 18 26 21 24 21 20 22 17 21 13 21 11 22 8 22 4 20 0 20 0 11-2 11-3 11-4 10 2 1 24-46 25-51 24-56 25-63 24-67 24-75 25-80 25-86-2-1-19 25-18 21-15 15-14 13-15 12-16 10-16 9-15 6-16 4-16 2-16 0-15-2-17-4-15-6-16-8-16-10-16-13-16-14-16-16-15-19-16-20-16-22-16-25-15-26-32-59-31-66-28-68-19-48-19-52-1 0-25 86-25 80-23 73-25 69-24 61-25 57-25 52-24 45 29 2 30 2 29 4 31 5 29 6 33 9 28 8z"/><path fill="#02bac4" d="M290 763l-7-15-6-15-4-15-2-15-1-14 1-15 2-14 5-13-23-25-23-30-23-35-23-40-22-42-20-44-28-65-28-74-2 1 27 71 26 71 27 67 27 64 24 53 24 53 24 47 24 48 2-1zM1081 882l23-45 23-50 24-55 23-60 23-66 23-70 23-76 24-83-2-1-19 25-18 21-15 15-14 13-15 12-16 10-16 9-15 6-16 4-16 2-16 0-15-2-17-4-15-6-16-8-16-10-16-13-16-14-16-16-15-19-16-20-16-22-16-25-15-26-32-59-31-66-28-68-19-48-19-52-1 0-24 83-24 78-23 70-24 68-24 62-24 56-24 51-23 45 49 3 52 7 51 11 49 14 50 17 46 21 46 23 39 25 19 14 17 13 17 15 14 14 13 14 13 15 11 15 9 14 7 15 6 14 5 14 4 15 2 18 0 18-3 16-5 17 2 1z"/><path fill="#07bcc0" d="M285 754l-7-14-5-15-4-15-3-14-1-14 1-14 2-14 4-13-22-25-22-30-23-34-22-40-20-40-21-45-26-63-28-72-2 1 27 71 26 69 26 66 27 63 46 102 23 48 23 46 2-1zM1088 870l22-45 22-49 23-55 22-58 22-64 22-69 23-73 23-80-2-1-19 25-18 21-15 15-14 13-15 12-16 10-16 9-15 6-16 4-16 2-16 0-15-2-17-4-15-6-16-8-16-10-16-13-16-14-16-16-15-19-16-20-16-22-16-25-15-26-32-59-31-66-28-68-19-48-19-52-1 0-23 80-23 76-23 70-23 66-24 60-23 56-23 50-22 44 51 4 49 8 49 10 49 14 48 17 47 20 44 23 41 26 35 26 30 27 14 14 12 15 12 15 9 15 10 17 7 17 5 16 4 16 1 16 0 16-2 15-4 15 1 1z"/><path fill="#0dbdbb" d="M281 746l-7-15-6-14-3-14-3-15-1-13 0-15 2-13 3-12-21-25-21-30-22-34-21-38-20-40-20-43-26-63-27-70-2 1 27 71 25 67 26 65 25 60 45 101 46 92 2-1zM1093 860l21-44 22-48 21-53 22-59 22-62 22-69 22-71 22-77-2-1-19 25-18 21-15 15-14 13-15 12-16 10-16 9-15 6-16 4-16 2-16 0-15-2-17-4-15-6-16-8-16-10-16-13-16-14-16-16-15-19-16-20-16-22-16-25-15-26-32-59-31-66-28-68-19-48-19-52-1 0-22 77-23 74-22 68-22 64-22 59-23 54-22 50-23 46 51 4 50 8 50 11 49 15 48 17 45 20 43 23 40 24 35 27 30 27 14 14 13 15 11 15 10 14 9 17 8 17 5 16 4 17 2 16 0 15-2 15-4 15 2 1z"/><path fill="#16bfb7" d="M260 633l1-4-25-31-25-37-19-32-18-34-18-37-17-38-25-60-26-68-2 1 48 127 46 115 47 107 24 50 24 48 2-1-7-14-5-15-4-14-3-14-1-13 0-12 1-13zM1098 851l20-44 22-49 20-51 22-58 20-60 22-66 21-71 22-75-2-1-19 25-18 21-15 15-14 13-15 12-16 10-16 9-15 6-16 4-16 2-16 0-15-2-17-4-15-6-16-8-16-10-16-13-16-14-16-16-15-19-16-20-16-22-16-25-15-26-32-59-31-66-28-68-19-48-19-52-1 0-22 77-22 71-21 66-22 62-21 58-22 55-22 48-21 44 47 5 51 8 50 11 50 15 48 18 45 20 44 23 39 25 35 26 30 27 26 28 11 15 10 15 9 15 8 17 6 17 4 16 2 16 0 15-1 16-3 15 1 0z"/><path fill="#1ec0b2" d="M271 727l-6-13-5-14-4-13-2-13-2-14 0-12 2-13 2-12-20-25-20-29-20-34-20-37-18-37-18-40-26-61-26-68-2 1 50 133 25 61 25 61 42 96 42 87 3-1zM1104 837l20-42 21-49 20-50 20-56 20-58 21-65 20-68 21-72-2-1-19 25-18 21-15 15-14 13-15 12-16 10-16 9-15 6-16 4-16 2-16 0-15-2-17-4-15-6-16-8-16-10-16-13-16-14-16-16-15-19-16-20-16-22-16-25-15-26-32-59-31-66-28-68-19-48-19-52-1 0-22 74-20 69-21 64-21 62-21 56-21 54-21 47-21 45 51 5 48 9 48 11 48 14 48 18 45 20 42 22 39 25 35 25 30 27 14 14 13 15 11 13 10 15 10 16 8 17 7 17 4 17 3 16 1 16-1 15-3 15 2 1z"/><path fill="#25c2ad" d="M267 718l-6-13-5-13-4-13-2-13-2-12 0-13 1-12 2-12-19-25-20-30-20-33-19-36-21-44-21-47-21-53-22-57-2 1 49 130 48 118 42 96 41 85 2-1zM1109 827l19-42 20-47 20-51 20-55 19-58 20-62 20-66 20-69-2-1-19 25-18 21-15 15-14 13-15 12-16 10-16 9-15 6-16 4-16 2-16 0-15-2-17-4-15-6-16-8-16-10-16-13-16-14-16-16-15-19-16-20-16-22-16-25-15-26-32-59-31-66-28-68-19-48-19-52-1 0-21 72-20 68-20 62-21 60-20 54-20 53-21 48-20 44 48 5 48 8 52 13 47 14 46 18 45 19 42 23 39 24 35 26 30 27 14 14 13 14 11 14 10 14 10 17 9 17 6 15 5 17 3 16 1 16-1 16-2 15 2 1z"/><path fill="#2ac3a9" d="M262 709l-10-25-6-25-2-12 0-12 0-12 2-12-18-25-19-29-19-32-19-37-21-43-20-47-21-51-21-55-2 1 48 127 48 118 39 91 40 84 3-1zM901 555l25 14 25 15 23 16 22 16 20 18 17 16 17 18 14 18 13 17 10 18 9 18 6 17 5 18 2 16 0 19-2 19 2 1 19-44 20-47 20-51 20-55 19-58 20-62 20-66 20-69-2-1-19 25-18 21-15 15-14 13-15 12-16 10-16 9-15 6-16 4-16 2-16 0-15-2-17-4-15-6-16-8-16-10-16-13-16-14-16-16-15-19-16-20-16-22-16-25-15-26-32-59-31-66-28-68-19-48-19-52-1 0-20 69-20 66-19 62-20 58-20 55-20 51-20 47-19 43 39 4 40 7 42 9 37 10 39 12 39 15 35 15z"/><path fill="#2ec5a4" d="M258 700l-10-24-6-24-3-24 1-12 1-11-18-26-18-29-19-31-18-35-19-42-20-46-20-49-21-55-2 1 46 124 47 116 39 88 39 83 2-1zM1118 809l18-41 19-47 18-47 19-53 18-55 19-59 38-130-2-1-19 25-18 21-15 15-14 13-15 12-16 10-16 9-15 6-16 4-16 2-16 0-15-2-17-4-15-6-16-8-16-10-16-13-16-14-16-16-15-19-16-20-16-22-16-25-15-26-32-59-31-66-28-68-19-48-19-52-1 0-39 132-19 60-19 56-19 53-19 49-19 46-19 44 49 7 50 9 49 13 47 14 46 18 44 20 41 23 38 24 35 25 29 26 27 28 11 13 11 15 10 17 9 16 6 17 6 16 3 16 1 15 0 15-1 16 1 0z"/><path fill="#32c69e" d="M253 691l-10-24-5-23-3-23 1-22-17-26-18-28-18-33-17-33-20-43-19-44-19-47-20-53-2 1 46 122 45 112 37 86 39 82 2-1zM1123 798l17-40 18-45 18-48 18-52 37-112 36-124-2-1-19 25-18 21-15 15-14 13-15 12-16 10-16 9-15 6-16 4-16 2-16 0-15-2-17-4-15-6-16-8-16-10-16-13-16-14-16-16-15-19-16-20-16-22-16-25-15-26-32-59-31-66-28-68-19-48-19-52-1 0-37 127-18 57-19 57-18 51-19 50-19 47-19 41 51 7 47 9 49 13 47 15 48 18 42 20 41 22 38 24 34 26 30 26 26 27 22 28 11 17 8 16 7 15 6 17 3 15 2 17 1 15-2 16 2 0z"/><path fill="#36c799" d="M241 662l-6-18-3-17-1-17 1-18-17-24-17-29-17-31-17-33-19-41-19-44-19-47-19-51-2 1 41 108 41 104 39 93 41 88 2-1zM734 458l40 12 41 14 41 17 37 17 36 20 33 20 31 22 28 23 24 22 22 25 18 24 16 25 10 25 7 23 3 13 1 13 0 12-1 13 1 0 19-42 17-43 18-48 18-52 37-112 36-124-2-1-19 25-18 21-15 15-14 13-15 12-16 10-16 9-15 6-16 4-16 2-16 0-15-2-17-4-15-6-16-8-16-10-16-13-16-14-16-16-15-19-16-20-16-22-16-25-15-26-32-59-31-66-28-68-19-48-19-52-1 0-36 124-37 112-17 49-18 49-18 45-18 41 32 4 31 6 29 6z"/><path fill="#3ac993" d="M244 677l2-1-10-25-7-25-2-20 1-20-17-25-16-28-17-30-16-33-18-39-18-43-19-45-19-51-2 1 39 105 40 101 40 93zM1132 776l33-82 34-95 34-106 34-116-2-1-19 25-18 21-15 15-14 13-15 12-16 10-16 9-15 6-16 4-16 2-16 0-15-2-17-4-15-6-16-8-16-10-16-13-16-14-16-16-15-19-16-20-16-22-16-25-15-26-32-59-31-66-28-68-19-48-19-52-1 0-36 121-34 108-35 96-17 44-18 41 47 7 48 10 49 13 46 14 45 18 44 20 40 22 38 24 34 24 30 26 26 27 22 27 12 17 9 16 8 17 6 17 5 16 2 17 1 15-1 16 2 0z"/><path fill="#40ca8d" d="M241 665l-9-22-6-22-3-20 0-21-16-26-16-27-15-29-16-31-18-40-17-41-18-45-19-49-2 1 43 115 42 105 34 79 35 76 2-1zM1136 768l32-81 33-93 33-104 33-113-2-1-19 25-18 21-15 15-14 13-15 12-16 10-16 9-15 6-16 4-16 2-16 0-15-2-17-4-15-6-16-8-16-10-16-13-16-14-16-16-15-19-16-20-16-22-16-25-15-26-32-59-31-66-28-68-19-48-19-52-1 0-34 116-34 106-34 94-17 45-16 39 48 8 48 10 47 12 46 16 46 18 43 20 40 22 38 24 35 25 30 26 26 27 22 27 11 17 9 16 8 17 6 15 4 16 3 16 1 16 0 15 1 0z"/><path fill="#47cb87" d="M219 577l0-4-16-25-16-28-16-32-16-32-16-36-17-40-34-88-2 1 37 99 38 95 37 89 37 83 3-1-10-23-6-23-3-18zM630 406l47 8 50 11 48 14 46 16 46 19 44 21 42 24 36 24 35 27 30 27 25 28 20 28 9 14 8 15 5 13 6 15 3 12 3 14 1 16 0 16 1 1 33-82 33-93 33-104 33-113-2-1-19 25-18 21-15 15-14 13-15 12-16 10-16 9-15 6-16 4-16 2-16 0-15-2-17-4-15-6-16-8-16-10-16-13-16-14-16-16-15-19-16-20-16-22-16-25-15-26-32-59-31-66-28-68-19-48-19-52-1 0-33 113-33 104-32 91-33 83z"/><path fill="#4fcc80" d="M232 646l-8-20-6-20-3-20 0-19-15-24-14-26-30-59-17-38-17-40-34-88-2 1 41 108 41 104 31 74 32 71 2-1zM1144 748l30-79 31-87 30-97 32-108-2-1-19 25-18 21-15 15-14 13-15 12-16 10-16 9-15 6-16 4-16 2-16 0-15-2-17-4-15-6-16-8-16-10-16-13-16-14-16-16-15-19-16-20-16-22-16-25-15-26-32-59-31-66-28-68-19-48-19-52-1 0-32 110-32 99-31 90-32 82 46 7 49 11 47 13 46 15 45 18 41 20 42 22 38 24 33 24 30 26 27 27 22 27 12 17 9 16 8 17 6 15 5 17 3 15 2 16 0 15 2 1z"/><path fill="#57cc7a" d="M228 638l-8-20-5-19-3-20-1-19-29-49-28-57-16-36-17-40-33-86-2 1 41 108 39 101 30 71 31 68 2-1zM1149 736l29-76 29-86 30-95 30-102-2-1-19 25-18 21-15 15-14 13-15 12-16 10-16 9-15 6-16 4-16 2-16 0-15-2-17-4-15-6-16-8-16-10-16-13-16-14-16-16-15-19-16-20-16-22-16-25-15-26-32-59-31-66-28-68-19-48-19-52-1 0-31 108-31 96-30 88-31 79 48 8 46 10 47 13 46 16 45 18 43 20 40 22 36 23 34 24 30 26 26 26 22 26 11 17 10 16 9 17 7 16 5 16 4 16 2 16 0 17 2 0z"/><path fill="#60cd72" d="M224 629l-8-19-5-19-3-19-1-18-27-48-27-55-32-75-33-84-2 1 39 105 40 101 29 69 29 65 2-1zM1152 728l28-75 29-84 29-92 29-100-2-1-19 25-18 21-15 15-14 13-15 12-16 10-16 9-15 6-16 4-16 2-16 0-15-2-17-4-15-6-16-8-16-10-16-13-16-14-16-16-15-19-16-20-16-22-16-25-15-26-32-59-31-66-28-68-19-48-19-52-1 0-30 102-29 95-30 86-30 78 47 8 47 11 47 13 46 16 43 17 44 21 39 21 37 24 33 24 31 26 26 26 23 27 12 17 9 16 8 15 7 17 6 16 3 16 3 16 0 16 2 0z"/><path fill="#69cd6b" d="M220 620l-7-18-6-19-3-18-1-18-26-47-26-53-31-73-32-82-2 1 39 103 38 97 28 67 28 64 2-1zM1157 715l27-73 28-81 27-87 28-97-2-1-19 25-18 21-15 15-14 13-15 12-16 10-16 9-15 6-16 4-16 2-16 0-15-2-17-4-15-6-16-8-16-10-16-13-16-14-16-16-15-19-16-20-16-22-16-25-15-26-32-59-31-66-28-68-19-48-19-52-1 0-29 99-29 93-29 84-28 75 46 8 47 11 47 13 44 16 44 17 41 20 40 22 37 23 32 23 30 24 28 27 22 26 13 18 10 16 9 17 8 16 6 17 4 17 2 16 1 16 2 0z"/><path fill="#72cd64" d="M216 611l-7-17-5-18-4-18-1-17-25-46-25-51-30-72-31-80-2 1 39 103 37 94 27 65 26 60 2-1zM1160 707l27-72 26-79 27-85 27-94-2-1-19 25-18 21-15 15-14 13-15 12-16 10-16 9-15 6-16 4-16 2-16 0-15-2-17-4-15-6-16-8-16-10-16-13-16-14-16-16-15-19-16-20-16-22-16-25-15-26-32-59-31-66-28-68-19-48-19-52-1 0-28 97-28 90-27 80-28 75 45 8 47 11 49 14 42 14 43 18 43 20 40 22 37 23 33 25 30 24 26 26 23 26 12 16 10 17 10 17 7 17 6 17 4 16 3 15 1 16 1 1z"/><path fill="#7ccc5c" d="M212 602l-7-17-5-17-3-17-2-17-23-44-24-50-30-70-30-78-2 1 37 99 36 92 26 62 26 60 2-1zM1164 698l25-70 26-77 25-83 27-91-2-1-19 25-18 21-15 15-14 13-15 12-16 10-16 9-15 6-16 4-16 2-16 0-15-2-17-4-15-6-16-8-16-10-16-13-16-14-16-16-15-19-16-20-16-22-16-25-15-26-32-59-31-66-28-68-19-48-19-52-1 0-27 94-27 85-27 81-26 72 44 8 48 11 44 13 46 16 43 18 43 20 41 23 37 23 33 24 29 25 27 26 23 27 12 16 11 17 8 15 8 17 6 17 4 15 3 16 1 16 1 0z"/><path fill="#85cb55" d="M208 593l-7-17-5-16-3-16-1-16-23-43-23-49-29-68-29-76-2 1 36 97 36 92 25 59 24 56 2-1zM1167 689l25-68 25-75 24-80 26-89-2-1-19 25-18 21-15 15-14 13-15 12-16 10-16 9-15 6-16 4-16 2-16 0-15-2-17-4-15-6-16-8-16-10-16-13-16-14-16-16-15-19-16-20-16-22-16-25-15-26-32-59-31-66-28-68-19-48-19-52-1 0-27 91-25 83-26 76-26 72 44 8 48 12 46 13 46 17 44 18 41 20 40 22 38 24 33 24 29 25 26 26 23 26 11 15 11 17 9 16 8 16 6 17 4 15 3 16 2 16 1 0z"/><path fill="#8fcb4e" d="M204 584l-6-16-5-16-3-15-2-16-22-42-22-46-28-67-28-74-2 1 29 78 29 76 29 72 30 69 2-1zM1172 676l23-65 24-73 24-78 24-83-2-1-19 25-18 21-15 15-14 13-15 12-16 10-16 9-15 6-16 4-16 2-16 0-15-2-17-4-15-6-16-8-16-10-16-13-16-14-16-16-15-19-16-20-16-22-16-25-15-26-32-59-31-66-28-68-19-48-19-52-1 0-26 88-24 81-25 74-25 69 47 10 44 10 46 14 46 16 42 18 41 20 40 21 35 23 33 23 29 25 26 24 24 27 13 17 11 17 10 17 8 17 6 15 5 17 4 17 1 15 2 0z"/><path fill="#98c947" d="M200 576l-6-16-4-15-4-16-2-15-21-41-20-44-27-65-28-72-2 1 35 93 34 87 44 106 2-1zM665 319l40 8 40 10 39 11 37 13 37 15 35 15 41 20 39 23 1-2-14-14-13-17-28-36-27-43-27-49-28-56-27-60-28-69-27-73-1 0-27 91-25 83-22 67-22 62zM1069 505l21 21 19 22 16 21 15 23 11 21 8 21 7 23 3 24 1 0 24-68 24-72 24-78 25-86-2-1-17 23-16 19-24 24-13 12-14 10-13 8-14 8-13 5-14 5-13 2-14 1-14 0-13-2-14-3-13-5-1 1z"/><path fill="#a2c840" d="M196 567l-5-15-5-15-3-14-2-15-20-40-20-43-26-63-27-70-2 1 28 75 27 70 27 67 27 65 2-1zM1180 653l25-71 25-78 34-119 3-8-2-1-24 32-25 27-25 21-12 9-13 8-12 7-12 5-12 4-13 3-11 1-12 0-14-1-14-2 0 1 23 22 19 21 18 23 15 23 13 23 9 23 6 23 3 22 2 0zM668 309l36 8 37 9 34 9 38 13 34 13 31 13 38 18 36 19 1-1-25-32-24-37-26-42-24-47-25-52-25-57-25-61-24-67-1 0-26 88-24 81-22 65-21 59z"/><path fill="#abc739" d="M178 504l-1-3-23-48-24-53-20-51-22-57-2 1 27 71 26 69 26 66 26 62 3-1-6-14-5-14-3-14zM1184 644l23-70 24-76 36-121-2-1-23 30-23 26-23 20-23 17-22 12-23 8-21 4-13 0-13 0 20 21 19 22 15 20 13 22 11 21 8 20 6 21 3 21 1 1zM671 300l33 6 36 9 30 9 33 10 31 11 31 12 35 16 37 19 1-1-23-32-23-36-23-42-23-44-23-50-23-53-23-57-22-62-1 0-25 86-24 78-20 62-20 58z"/><path fill="#b3c534" d="M189 549l-10-28-3-13-2-14-21-43-22-49-21-53-22-57-2 1 25 68 26 68 26 64 25 60 2-1zM1187 635l23-69 24-76 33-113-2-1-21 28-22 24-21 21-22 16-20 12-22 10-20 5-12 1-11 0-1 1 19 20 16 20 13 19 12 20 10 20 8 19 5 20 3 20 2 0zM674 290l30 6 31 8 30 8 33 10 30 11 28 11 35 15 34 16 1-1-22-32-21-35-22-40-21-43-22-47-21-51-21-54-21-57-1 0-24 83-23 75-20 61-19 55z"/><path fill="#bcc42f" d="M185 540l-9-26-6-26-20-43-20-47-21-51-21-55-2 1 49 130 49 121 2-1zM1190 625l22-66 23-74 32-108-2-1-20 27-20 22-20 20-20 16-20 13-20 10-19 6-22 4 16 18 15 19 12 18 12 19 9 19 7 18 5 19 3 18 1 0zM678 281l29 6 32 7 58 18 53 19 32 13 32 15 1-1-20-31-20-35-21-38-19-41-20-45-21-48-20-51-19-54-1 0-23 80-22 73-19 56-19 55z"/><path fill="#c4c22a" d="M181 530l-9-25-5-24-19-41-20-46-20-49-20-53-2 1 48 127 46 115 2-1zM1193 616l23-67 22-72 29-100-2-1-19 25-19 22-19 19-18 16-19 13-19 10-19 7-19 4 15 18 13 17 12 18 10 18 8 17 6 18 5 17 3 18 1 0zM681 271l57 13 53 16 51 17 31 13 31 14 1-1-19-31-19-34-19-37-18-39-19-42-19-46-19-49-18-50-1 0-22 77-22 71-35 107z"/><path fill="#ccc028" d="M177 522l-8-24-5-24-19-40-19-44-19-47-19-51-2 1 45 120 45 113 3-1zM1197 606l21-65 22-70 27-94-2-1-18 24-17 20-18 18-18 16-18 13-17 10-18 8-18 6 14 16 11 17 11 16 9 17 8 16 6 17 4 16 4 17 1 0zM684 262l53 12 50 14 49 17 30 12 29 12 1 0-18-30-17-33-18-35-18-38-35-84-35-94-1 0-22 74-20 69-34 102z"/><path fill="#d4bf28" d="M174 513l-8-23-5-23-18-38-18-43-18-45-19-49-2 1 43 115 44 109 2-1zM687 252l50 12 49 13 44 15 57 23-16-30-17-31-33-71-33-80-33-88-1 0-21 72-20 68-32 96zM1200 596l21-63 21-70 25-86-2-1-17 23-16 19-17 17-17 16-16 12-17 11-17 8-16 6 12 17 11 15 9 16 9 15 7 16 5 15 5 16 3 16 1 0z"/><path fill="#dbbd29" d="M170 505l-8-22-5-22-17-38-17-41-17-44-18-46-2 1 42 112 41 103 2-1zM1203 587l20-62 21-68 23-80-2-1-16 21-15 19-16 17-16 15-16 12-15 11-16 8-16 7 22 30 16 29 7 15 5 15 4 14 3 15 1 0zM691 243l46 10 44 13 44 14 54 22 1-1-32-60-31-67-31-76-31-83-1 0-20 69-20 66-29 91z"/><path fill="#e2bc2b" d="M166 495l-7-20-5-21-16-36-17-40-33-86-2 1 39 105 40 101 3 0zM1207 577l19-62 20-66 21-72-2-1-15 21-15 17-14 16-15 14-15 12-15 11-14 9-15 7 19 29 15 27 11 28 7 28 1 0zM694 233l43 10 43 12 39 13 53 20-29-57-30-66-29-72-29-78-1 0-38 129-28 88z"/><path fill="#e8bb2f" d="M163 487l-7-20-5-20-31-73-32-82-2 1 39 103 37 95 2-1zM1210 566l19-59 20-67 18-63-2-1-28 36-13 15-14 14-14 12-14 10-14 9-14 8 17 26 14 26 11 27 6 26 2 1zM697 224l43 10 39 11 44 14 42 16-28-56-27-62-28-69-27-73-1 0-37 127-26 81z"/><path fill="#eeba34" d="M159 478l-6-19-5-19-30-70-30-78-2 1 36 97 36 92 2-1zM1213 556l19-60 19-64 16-55-2-1-26 34-26 28-13 11-13 11-13 9-13 7 16 25 13 26 10 25 6 24 1 0zM701 215l36 8 39 11 42 13 40 15 1 0-27-54-26-59-25-64-26-70-1 0-30 102-30 96z"/><path fill="#f4ba39" d="M156 470l-7-19-4-18-29-67-28-74-2 1 35 93 34 87 2-1zM1217 546l37-123 13-46-2-1-24 32-25 27-25 21-24 17 15 23 12 24 8 23 7 24 1 0zM705 205l35 9 35 9 38 13 39 14 0-1-24-51-25-56-24-62-24-65-1 0-29 99-28 90z"/><path fill="#f9bb3d" d="M152 460l-6-17-4-17-27-64-27-70-2 1 32 87 33 84 2-1zM1220 536l36-121 11-38-2-1-23 30-23 26-23 20-23 17 13 22 11 22 9 22 6 22 1 0zM708 196l33 8 33 9 38 12 34 12-23-50-23-53-23-57-22-62-1 0-27 94-27 85z"/><path fill="#fdbd3d" d="M149 452l-6-17-4-16-25-59-26-68-2 1 31 84 31 78 2-1zM1223 525l36-119 8-29-2-1-21 28-22 24-21 21-22 16 12 21 11 21 7 21 6 20 1 0zM712 187l62 16 33 10 33 12 0-1-21-46-21-50-22-55-21-58-1 0-26 88-25 82z"/><path fill="#fec03a" d="M145 443l-5-16-4-14-24-57-24-64-2 1 29 78 29 76 2-1zM1225 520l35-120 7-23-2-1-20 27-20 22-20 20-20 16 11 20 9 19 8 20 5 18 1 0zM712 177l58 15 32 9 32 11-19-44-21-48-20-51-19-54-1 0-24 83-24 77z"/><path fill="#fec437" d="M142 434l-5-14-4-14-22-55-23-59-2 1 28 75 27 70 2-1zM1228 509l35-118 4-14-2-1-19 25-18 21-19 19-18 16 9 17 9 18 6 19 6 18 1 0zM716 168l53 14 59 18 1 0-19-42-18-44-19-49-18-50-1 0-22 77-23 74z"/><path fill="#fec835" d="M138 425l-8-26-21-52-21-55-2 1 25 68 26 68 2-1zM720 159l48 12 55 17-34-82-34-91-1 0-21 72-21 70zM1231 498l36-121-2-1-18 24-17 20-17 17-17 16 9 17 8 17 6 16 5 17 1 0z"/><path fill="#fdcc32" d="M135 417l-8-25-20-49-19-51-2 1 48 127 2-1zM1235 488l32-111-2-1-16 22-16 19-16 16-16 15 8 16 7 16 6 15 5 15 1 0zM723 149l42 11 53 16-32-76-31-85-1 0-39 132z"/><path fill="#fcd030" d="M131 407l-7-22-17-44-19-49-2 1 44 118 3-1zM1236 482l31-105-2-1-15 21-15 17-14 16-15 14 14 28 9 29 2 0zM723 139l42 11 48 14-29-71-29-78-1 0-36 123z"/><path fill="#fad42e" d="M128 399l-7-21-33-86-2 1 41 110 2-1zM1240 471l27-94-2-1-27 35-27 28 12 26 9 27 1 0zM727 130l37 10 44 13-27-66-26-72-1 0-33 114z"/><path fill="#f8d92c" d="M125 390l-7-19-30-79-2 1 38 101 2-1zM731 121l72 20-24-61-24-65-1 0-30 104zM1243 460l24-83-2-1-24 32-25 26 11 25 8 23 1 0z"/><path fill="#f7dd2a" d="M121 381l-5-17-28-72-2 1 34 92 3-1zM1246 449l21-72-2-1-22 29-22 25 10 21 7 22 1 0zM736 112l62 18-21-55-22-60-1 0-28 95z"/><path fill="#f6e128" d="M118 373l-30-81-2 1 31 83 2-1zM1248 443l19-66-2-1-19 26-20 23 8 19 7 20 1 0zM736 102l58 16-20-49-19-54-1 0-25 86z"/><path fill="#f5e526" d="M115 364l-27-72-2 1 28 74 2 0zM1251 432l16-55-2-1-18 24-17 20 7 16 6 19 1 0zM740 94l49 13-34-92-1 0-22 77z"/><path fill="#f5e924" d="M112 355l-24-63-2 1 24 66 3-1zM1253 426l14-49-2-1-15 21-15 18 6 16 5 14 1 0zM740 84l45 12-30-81-1 0-20 67z"/><path fill="#f5ed21" d="M108 347l-20-55-2 1 21 57 2-1zM1256 415l11-38-2-1-26 34 10 26 1 0zM744 75l36 10-25-70-1 0-17 58z"/><path fill="#f6f11e" d="M105 338l-17-46-2 1 18 48 2-1zM748 66l28 7-21-58-1 0-14 49zM1259 403l8-26-2-1-22 29 9 22 1 0z"/><path fill="#f7f51b" d="M102 329l-14-37-2 1 15 39 2 0zM1261 397l6-20-2-1-17 24 6 18 1 0zM749 56l23 6-17-47-1 0-12 40z"/><path fill="#f8f917" d="M99 320l-11-28-2 1 11 31 3-1zM1264 385l3-8-2-1-13 18 5 14 1 0zM753 47l15 4-13-36-1 0-9 30z"/></g><mask id="s9bot" maskUnits="userSpaceOnUse" x="0" y="0" width="2846" height="3578"><path fill="#fff" d="M1026 967l-4 5-3 5-7 9-15 18-28 33-15 16-15 15-15 14-14 12-14 11-15 11-14 10-14 9-14 8-15 7-16 6-14 5-14 4-15 4-15 3-15 1-14 1-14-1-15-1-14-2-14-3-15-4-14-5-15-6-15-8-14-7-14-9-15-10-16-11-14-11-14-12-15-14-15-15-14-15-29-33-29-37-28-40-30-45-29-48-29-53-30-56-29-59-28-61-29-67-29-71-29-74-15-38-7-20-3-9-3-6-1-4 15 40 16 42 16 39 16 35 15 32 16 33 16 31 15 27 15 26 16 24 16 22 16 20 16 19 16 16 16 15 15 11 15 10 17 8 15 6 16 4 15 1 16 0 16-2 15-4 17-6 15-8 15-10 16-12 16-15 16-16 16-19 16-20 26 69 13 32 13 31 13 28 14 27 14 28 13 23 13 22 15 22 13 19 13 16 13 15 13 14 14 12 13 10 13 8 13 7 13 5 15 3 13 2 13 0 13-2 13-3 13-5 14-7 13-8 14-11 13-12 13-13 14-16 14-18z"/></mask><g mask="url(#s9bot)"><path fill="#3e28ac" d="M599 654l-16 21-16 19-16 16-16 15-15 13-16 10-16 9-16 6-16 5-15 2-17 0-15-1-16-4-16-6-16-8-16-10-15-12-16-14-16-16-16-18-15-20-16-23-16-24-15-25-30-55-29-62-36-83-35-93-2 1 46 123 45 113 46 104 23 49 24 48 23 44 22 41 23 39 23 37 22 34 24 33 23 31 23 27 23 26 23 24 24 21 22 18 23 16 23 14 23 12 22 9 23 7 23 5 23 2 23 0 24-2 22-4 23-7 23-9 27-14 27-16 25-20 27-23 27-26 26-28 27-32 26-35-2-1-15 19-14 17-13 14-15 14-13 9-13 9-13 7-13 5-13 3-14 2-14 0-13-1-13-4-14-5-13-6-13-9-14-10-13-12-14-14-13-15-14-18-13-19-27-44-27-51-27-58-27-63z"/><path fill="#402ab4" d="M599 654l-16 21-16 19-16 16-16 15-15 13-16 10-16 9-16 6-16 5-15 2-17 0-15-1-16-4-16-6-16-8-16-10-15-12-16-14-16-16-16-18-15-20-16-23-16-24-15-25-30-55-29-62-36-83-35-93-2 1 46 123 45 113 46 104 23 49 24 48 23 44 22 41 23 39 23 37 22 34 24 33 23 31 23 27 23 26 23 24 24 21 22 18 23 16 23 14 23 12 22 9 23 7 23 5 23 2 23 0 24-2 22-4 23-7 23-9 27-14 27-16 25-20 27-23 27-26 26-28 27-32 26-35-2-1-15 19-14 17-13 14-15 14-13 9-13 9-13 7-13 5-13 3-14 2-14 0-13-1-13-4-14-5-13-6-13-9-14-10-13-12-14-14-13-15-14-18-13-19-27-44-27-51-27-58-27-63z"/><path fill="#412dbc" d="M599 654l-16 21-16 19-16 16-16 15-15 13-16 10-16 9-16 6-16 5-15 2-17 0-15-1-16-4-16-6-16-8-16-10-15-12-16-14-16-16-16-18-15-20-16-23-16-24-15-25-30-55-29-62-36-83-35-93-2 1 46 123 45 113 46 104 23 49 24 48 23 44 22 41 23 39 23 37 22 34 24 33 23 31 23 27 23 26 23 24 24 21 22 18 23 16 23 14 23 12 22 9 23 7 23 5 23 2 23 0 24-2 22-4 23-7 23-9 27-14 27-16 25-20 27-23 27-26 26-28 27-32 26-35-2-1-15 19-14 17-13 14-15 14-13 9-13 9-13 7-13 5-13 3-14 2-14 0-13-1-13-4-14-5-13-6-13-9-14-10-13-12-14-14-13-15-14-18-13-19-27-44-27-51-27-58-27-63z"/><path fill="#4230c3" d="M599 654l-16 21-16 19-16 16-16 15-15 13-16 10-16 9-16 6-16 5-15 2-17 0-15-1-16-4-16-6-16-8-16-10-15-12-16-14-16-16-16-18-15-20-16-23-16-24-15-25-30-55-29-62-36-83-35-93-2 1 46 123 45 113 46 104 23 49 24 48 23 44 22 41 23 39 23 37 22 34 24 33 23 31 23 27 23 26 23 24 24 21 22 18 23 16 23 14 23 12 22 9 23 7 23 5 23 2 23 0 24-2 22-4 23-7 23-9 27-14 27-16 25-20 27-23 27-26 26-28 27-32 26-35-2-1-15 19-14 17-13 14-15 14-13 9-13 9-13 7-13 5-13 3-14 2-14 0-13-1-13-4-14-5-13-6-13-9-14-10-13-12-14-14-13-15-14-18-13-19-27-44-27-51-27-58-27-63z"/><path fill="#4332ca" d="M599 654l-16 21-16 19-16 16-16 15-15 13-16 10-16 9-16 6-16 5-15 2-17 0-15-1-16-4-16-6-16-8-16-10-15-12-16-14-16-16-16-18-15-20-16-23-16-24-15-25-30-55-29-62-36-83-35-93-2 1 46 123 45 113 46 104 23 49 24 48 23 44 22 41 23 39 23 37 22 34 24 33 23 31 23 27 23 26 23 24 24 21 22 18 23 16 23 14 23 12 22 9 23 7 23 5 23 2 23 0 24-2 22-4 23-7 23-9 27-14 27-16 25-20 27-23 27-26 26-28 27-32 26-35-2-1-15 19-14 17-13 14-15 14-13 9-13 9-13 7-13 5-13 3-14 2-14 0-13-1-13-4-14-5-13-6-13-9-14-10-13-12-14-14-13-15-14-18-13-19-27-44-27-51-27-58-27-63z"/><path fill="#4435d1" d="M599 654l-16 21-16 19-16 16-16 15-15 13-16 10-16 9-16 6-16 5-15 2-17 0-15-1-16-4-16-6-16-8-16-10-15-12-16-14-16-16-16-18-15-20-16-23-16-24-15-25-30-55-29-62-36-83-35-93-2 1 46 123 45 113 46 104 23 49 24 48 23 44 22 41 23 39 23 37 22 34 24 33 23 31 23 27 23 26 22 23 23 21 23 18 23 17 22 13 24 13 23 9 22 7 25 5 22 2 23 0 24-2 22-4 23-7 23-9 27-14 27-16 25-20 27-23 27-26 26-28 27-32 26-35-2-1-15 19-14 17-13 14-15 14-13 9-13 9-13 7-13 5-13 3-14 2-14 0-13-1-13-4-14-5-13-6-13-9-14-10-13-12-14-14-13-15-14-18-13-19-27-44-27-51-27-58-27-63z"/><path fill="#4538d8" d="M599 654l-16 21-16 19-16 16-16 15-15 13-16 10-16 9-16 6-16 5-15 2-17 0-15-1-16-4-16-6-16-8-16-10-15-12-16-14-16-16-16-18-15-20-16-23-16-24-15-25-30-55-29-62-36-83-35-93-2 1 46 123 45 113 46 104 23 49 24 48 23 44 22 41 23 39 23 37 22 34 24 33 23 31 23 27 23 26 22 23 22 20 23 18 22 16 23 15 21 11 23 9 24 7 25 6 24 3 24 0 22-2 23-4 23-7 23-9 27-14 27-16 25-20 27-23 27-26 26-28 27-32 26-35-2-1-15 19-14 17-13 14-15 14-13 9-13 9-13 7-13 5-13 3-14 2-14 0-13-1-13-4-14-5-13-6-13-9-14-10-13-12-14-14-13-15-14-18-13-19-27-44-27-51-27-58-27-63z"/><path fill="#463bdd" d="M599 654l-16 21-16 19-16 16-16 15-15 13-16 10-16 9-16 6-16 5-15 2-17 0-15-1-16-4-16-6-16-8-16-10-15-12-16-14-16-16-16-18-15-20-16-23-16-24-15-25-30-55-29-62-36-83-35-93-2 1 46 123 45 113 46 104 23 49 24 48 23 44 22 41 23 39 23 37 22 34 24 33 23 31 23 27 23 26 22 23 22 20 22 18 22 16 21 13 21 11 22 8 25 8 26 6 27 3 24 1 22-1 20-4 24-7 24-9 27-14 27-16 25-20 27-23 27-26 26-28 27-32 26-35-2-1-15 19-14 17-13 14-15 14-13 9-13 9-13 7-13 5-13 3-14 2-14 0-13-1-13-4-14-5-13-6-13-9-14-10-13-12-14-14-13-15-14-18-13-19-27-44-27-51-27-58-27-63z"/><path fill="#473fe2" d="M599 654l-16 21-16 19-16 16-16 15-15 13-16 10-16 9-16 6-16 5-15 2-17 0-15-1-16-4-16-6-16-8-16-10-15-12-16-14-16-16-16-18-15-20-16-23-16-24-15-25-30-55-29-62-36-83-35-93-2 1 46 123 45 113 46 104 23 49 24 48 23 44 22 41 23 39 23 37 22 34 24 33 23 31 23 27 23 26 22 23 22 20 23 18 19 15 19 11 21 11 23 9 27 8 26 6 27 3 25 2 24-2 23-3 20-6 23-9 27-14 27-16 25-20 27-23 27-26 26-28 27-32 26-35-2-1-15 19-14 17-13 14-15 14-13 9-13 9-13 7-13 5-13 3-14 2-14 0-13-1-13-4-14-5-13-6-13-9-14-10-13-12-14-14-13-15-14-18-13-19-27-44-27-51-27-58-27-63z"/><path fill="#4743e7" d="M599 654l-16 21-16 19-16 16-16 15-15 13-16 10-16 9-16 6-16 5-15 2-17 0-15-1-16-4-16-6-16-8-16-10-15-12-16-14-16-16-16-18-15-20-16-23-16-24-15-25-30-55-29-62-36-83-35-93-2 1 46 123 45 113 46 104 23 49 24 48 23 44 22 41 23 39 23 37 22 34 24 33 23 31 23 27 23 26 22 23 22 20 23 19 17 12 19 11 21 10 22 8 27 9 27 6 27 4 27 2 25-1 23-3 21-6 21-8 27-14 27-16 25-20 27-23 27-26 26-28 27-32 26-35-2-1-15 19-14 17-13 14-15 14-13 9-13 9-13 7-13 5-13 3-14 2-14 0-13-1-13-4-14-5-13-6-13-9-14-10-13-12-14-14-13-15-14-18-13-19-27-44-27-51-27-58-27-63z"/><path fill="#4746ea" d="M599 654l-16 21-16 19-16 16-16 15-15 13-16 10-16 9-16 6-16 5-15 2-17 0-15-1-16-4-16-6-16-8-16-10-15-12-16-14-16-16-16-18-15-20-16-23-16-24-15-25-30-55-29-62-36-83-35-93-2 1 46 123 45 113 46 104 23 49 24 48 23 44 22 41 23 39 23 37 22 34 24 33 23 31 23 27 21 25 22 21 21 21 20 16 18 12 20 12 22 10 23 9 26 9 28 6 27 4 28 2 26 0 23-3 22-5 20-7 27-14 27-16 25-20 27-23 27-26 26-28 27-32 26-35-2-1-15 19-14 17-13 14-15 14-13 9-13 9-13 7-13 5-13 3-14 2-14 0-13-1-13-4-14-5-13-6-13-9-14-10-13-12-14-14-13-15-14-18-13-19-27-44-27-51-27-58-27-63z"/><path fill="#484aee" d="M599 654l-16 21-16 19-16 16-16 15-15 13-16 10-16 9-16 6-16 5-15 2-17 0-15-1-16-4-16-6-16-8-16-10-15-12-16-14-16-16-16-18-15-20-16-23-16-24-15-25-30-55-29-62-36-83-35-93-2 1 46 123 46 115 47 107 24 50 23 46 24 45 23 42 22 39 23 36 24 36 22 31 24 30 23 29 21 22 21 22 21 19 16 13 21 13 21 11 23 11 25 9 27 8 28 6 28 3 28 2 26-1 24-3 22-6 20-7 25-14 26-17 25-19 26-23 25-24 26-29 25-31 25-33-2-1-15 19-14 17-13 14-15 14-13 9-13 9-13 7-13 5-13 3-14 2-14 0-13-1-13-4-14-5-13-6-13-9-14-10-13-12-14-14-13-15-14-18-13-19-27-44-27-51-27-58-27-63z"/><path fill="#484ef1" d="M599 654l-16 21-16 19-16 16-16 15-15 13-16 10-16 9-16 6-16 5-15 2-17 0-15-1-16-4-16-6-16-8-16-10-15-12-16-14-16-16-16-18-15-20-16-23-16-24-15-25-30-55-29-62-36-83-35-93-2 1 47 126 47 115 46 106 24 49 23 48 24 46 24 42 23 39 24 38 24 35 23 32 23 30 24 28 22 24 22 22 15 12 17 12 22 13 24 13 25 10 25 8 29 8 28 5 29 3 26 1 26-1 24-4 23-6 19-8 24-14 25-17 24-19 24-21 24-25 25-27 24-30 24-32-2-1-15 19-14 17-13 14-15 14-13 9-13 9-13 7-13 5-13 3-14 2-14 0-13-1-13-4-14-5-13-6-13-9-14-10-13-12-14-14-13-15-14-18-13-19-27-44-27-51-27-58-27-63z"/><path fill="#4852f4" d="M599 654l-16 21-16 19-16 16-16 15-15 13-16 10-16 9-16 6-16 5-15 2-17 0-15-1-16-4-16-6-16-8-16-10-15-12-16-14-16-16-16-18-15-20-16-23-16-24-15-25-30-55-29-62-36-83-35-93-2 1 47 127 48 117 24 56 24 52 23 49 24 47 23 44 23 42 24 40 24 38 24 35 24 34 24 30 24 28 21 22 17 16 18 14 20 14 23 13 24 11 26 10 28 9 29 7 29 4 26 2 29 1 26-2 24-4 22-7 18-8 23-13 23-17 24-19 23-22 24-24 22-25 23-28 24-32-2-1-15 19-14 17-13 14-15 14-13 9-13 9-13 7-13 5-13 3-14 2-14 0-13-1-13-4-14-5-13-6-13-9-14-10-13-12-14-14-13-15-14-18-13-19-27-44-27-51-27-58-27-63z"/><path fill="#4755f6" d="M599 654l-16 21-16 19-16 16-16 15-15 13-16 10-16 9-16 6-16 5-15 2-17 0-15-1-16-4-16-6-16-8-16-10-15-12-16-14-16-16-16-18-15-20-16-23-16-24-15-25-30-55-29-62-36-83-35-93-2 1 48 129 48 118 24 56 24 52 24 51 24 47 24 45 24 42 24 40 24 38 24 35 24 32 24 31 25 28 19 19 16 15 21 15 22 13 25 13 27 11 27 10 28 7 27 6 29 4 28 2 26-1 25-2 24-5 21-6 20-9 19-12 23-17 23-19 22-22 22-22 22-25 23-28 22-30-2-1-15 19-14 17-13 14-15 14-13 9-13 9-13 7-13 5-13 3-14 2-14 0-13-1-13-4-14-5-13-6-13-9-14-10-13-12-14-14-13-15-14-18-13-19-27-44-27-51-27-58-27-63z"/><path fill="#4759f8" d="M599 654l-16 21-16 19-16 16-16 15-15 13-16 10-16 9-16 6-16 5-15 2-17 0-15-1-16-4-16-6-16-8-16-10-15-12-16-14-16-16-16-18-15-20-16-23-16-24-15-25-30-55-29-62-36-83-35-93-2 1 49 132 49 119 24 55 24 54 25 51 23 47 25 45 24 43 25 41 24 38 24 34 24 32 25 31 24 27 17 16 20 15 21 15 25 13 25 12 27 10 28 9 29 7 27 5 28 3 28 1 27-1 25-3 23-5 21-7 18-9 19-12 22-17 21-19 22-20 21-22 21-25 21-25 21-29-2-1-15 19-14 17-13 14-15 14-13 9-13 9-13 7-13 5-13 3-14 2-14 0-13-1-13-4-14-5-13-6-13-9-14-10-13-12-14-14-13-15-14-18-13-19-27-44-27-51-27-58-27-63z"/><path fill="#475dfa" d="M599 654l-16 21-16 19-16 16-16 15-15 13-16 10-16 9-16 6-16 5-15 2-17 0-15-1-16-4-16-6-16-8-16-10-15-12-16-14-16-16-16-18-15-20-16-23-16-24-15-25-30-55-29-62-36-83-35-93-2 1 48 129 48 118 24 56 24 52 24 51 24 47 24 45 24 42 24 40 24 38 24 35 24 32 24 31 24 27 18 17 20 16 23 14 25 14 26 12 29 11 28 9 30 7 29 5 31 3 27 1 27-2 27-3 23-5 21-8 18-9 16-11 22-17 21-19 20-19 20-22 21-24 20-25 20-27-2-1-15 19-14 17-13 14-15 14-13 9-13 9-13 7-13 5-13 3-14 2-14 0-13-1-13-4-14-5-13-6-13-9-14-10-13-12-14-14-13-15-14-18-13-19-27-44-27-51-27-58-27-63z"/><path fill="#4660fc" d="M599 654l-16 21-16 19-16 16-16 15-15 13-16 10-16 9-16 6-16 5-15 2-17 0-15-1-16-4-16-6-16-8-16-10-15-12-16-14-16-16-16-18-15-20-16-23-16-24-15-25-30-55-29-62-36-83-35-93-2 1 47 127 48 117 24 56 24 52 23 49 24 47 23 44 23 42 24 40 24 38 24 35 24 34 25 31 22 25 18 17 22 16 23 16 26 14 28 12 29 11 29 9 31 7 32 6 30 2 29 1 27-2 27-3 24-6 22-8 19-10 14-10 21-17 20-19 20-19 19-21 19-23 38-49-2-1-15 19-14 17-13 14-15 14-13 9-13 9-13 7-13 5-13 3-14 2-14 0-13-1-13-4-14-5-13-6-13-9-14-10-13-12-14-14-13-15-14-18-13-19-27-44-27-51-27-58-27-63z"/><path fill="#4464fd" d="M599 654l-16 21-16 19-16 16-16 15-15 13-16 10-16 9-16 6-16 5-15 2-17 0-15-1-16-4-16-6-16-8-16-10-15-12-16-14-16-16-16-18-15-20-16-23-16-24-15-25-30-55-29-62-36-83-35-93-2 1 47 126 47 115 46 106 24 49 23 48 24 46 24 42 23 39 24 38 24 35 24 34 26 33 19 21 19 18 22 16 25 16 27 14 30 13 30 11 31 9 31 7 33 5 30 3 29 0 29-2 26-4 25-6 22-9 19-10 12-9 21-17 19-18 18-19 37-41 36-48-2-1-15 19-14 17-13 14-15 14-13 9-13 9-13 7-13 5-13 3-14 2-14 0-13-1-13-4-14-5-13-6-13-9-14-10-13-12-14-14-13-15-14-18-13-19-27-44-27-51-27-58-27-63z"/><path fill="#4368fe" d="M599 654l-16 21-16 19-16 16-16 15-15 13-16 10-16 9-16 6-16 5-15 2-17 0-15-1-16-4-16-6-16-8-16-10-15-12-16-14-16-16-16-18-15-20-16-23-16-24-15-25-30-55-29-62-36-83-35-93-2 1 46 123 46 115 47 107 24 50 23 46 24 45 23 42 23 40 24 37 24 37 25 34 26 34 15 16 21 18 23 18 26 16 28 15 30 12 31 12 32 9 32 7 32 4 31 3 32 0 29-2 27-5 25-6 22-9 20-11 11-8 20-18 18-17 18-19 34-39 34-45-2-1-15 19-14 17-13 14-15 14-13 9-13 9-13 7-13 5-13 3-14 2-14 0-13-1-13-4-14-5-13-6-13-9-14-10-13-12-14-14-13-15-14-18-13-19-27-44-27-51-27-58-27-63z"/><path fill="#406cfe" d="M599 654l-16 21-16 19-16 16-16 15-15 13-16 10-16 9-16 6-16 5-15 2-17 0-15-1-16-4-16-6-16-8-16-10-15-12-16-14-16-16-16-18-15-20-16-23-16-24-15-25-30-55-29-62-36-83-35-93-2 1 46 123 46 115 47 107 46 94 23 45 24 42 23 40 23 37 25 38 25 34 22 28 16 18 21 18 24 17 26 17 29 15 32 13 31 12 32 8 34 8 32 4 33 3 32 0 30-3 27-4 27-8 23-9 20-12 10-8 18-16 34-35 33-38 32-42-2-1-15 19-14 17-13 14-15 14-13 9-13 9-13 7-13 5-13 3-14 2-14 0-13-1-13-4-14-5-13-6-13-9-14-10-13-12-14-14-13-15-14-18-13-19-27-44-27-51-27-58-27-63z"/><path fill="#3e70ff" d="M599 654l-16 21-16 19-16 16-16 15-15 13-16 10-16 9-16 6-16 5-15 2-17 0-15-1-16-4-16-6-16-8-16-10-15-12-16-14-16-16-16-18-15-20-16-23-16-24-15-25-30-55-29-62-36-83-35-93-2 1 46 123 45 113 46 104 23 49 24 48 23 44 23 43 24 40 23 37 25 38 26 36 18 23 17 18 22 19 25 18 28 17 29 15 32 13 33 11 33 9 35 7 33 5 34 2 32-1 31-2 28-6 26-7 23-10 19-12 10-8 17-15 32-34 30-36 31-40-2-1-15 19-14 17-13 14-15 14-13 9-13 9-13 7-13 5-13 3-14 2-14 0-13-1-13-4-14-5-13-6-13-9-14-10-13-12-14-14-13-15-14-18-13-19-27-44-27-51-27-58-27-63z"/><path fill="#3a74fe" d="M599 654l-16 21-16 19-16 16-16 15-15 13-16 10-16 9-16 6-16 5-15 2-17 0-15-1-16-4-16-6-16-8-16-10-15-12-16-14-16-16-16-18-15-20-16-23-16-24-15-25-30-55-29-62-36-83-35-93-2 1 46 123 45 113 46 104 45 94 24 45 23 43 24 40 23 38 26 39 27 37 14 18 16 16 23 20 26 18 28 17 32 16 32 13 35 11 34 10 35 6 36 5 33 2 33-1 30-3 29-6 27-8 23-11 20-12 9-8 15-14 30-32 28-34 29-38-2-1-15 19-14 17-13 14-15 14-13 9-13 9-13 7-13 5-13 3-14 2-14 0-13-1-13-4-14-5-13-6-13-9-14-10-13-12-14-14-13-15-14-18-13-19-27-44-27-51-27-58-27-63z"/><path fill="#3678fd" d="M599 654l-16 21-16 19-16 16-16 15-15 13-16 10-16 9-16 6-16 5-15 2-17 0-15-1-16-4-16-6-16-8-16-10-15-12-16-14-16-16-16-18-15-20-16-23-16-24-15-25-30-55-29-62-36-83-35-93-2 1 46 123 44 111 46 103 45 95 24 46 24 44 24 40 23 38 26 39 24 34 14 16 16 16 24 20 27 19 30 17 31 16 33 13 34 11 36 9 37 7 35 5 36 1 33-1 32-3 28-6 27-9 23-11 20-13 22-20 28-31 27-32 27-36-2-1-15 19-14 17-13 14-15 14-13 9-13 9-13 7-13 5-13 3-14 2-14 0-13-1-13-4-14-5-13-6-13-9-14-10-13-12-14-14-13-15-14-18-13-19-27-44-27-51-27-58-27-63z"/><path fill="#327cfc" d="M599 654l-16 21-16 19-16 16-16 15-15 13-16 10-16 9-16 6-16 5-15 2-17 0-15-1-16-4-16-6-16-8-16-10-15-12-16-14-16-16-16-18-15-20-16-23-16-24-15-25-30-55-29-62-36-83-35-93-2 1 46 123 44 111 46 103 44 93 24 46 24 44 24 41 23 37 24 36 22 32 14 17 18 17 24 20 27 18 30 18 33 16 35 14 36 11 37 10 35 6 35 4 37 2 35-1 31-4 31-7 26-8 24-12 20-13 20-19 27-30 25-31 25-33-2-1-15 19-14 17-13 14-15 14-13 9-13 9-13 7-13 5-13 3-14 2-14 0-13-1-13-4-14-5-13-6-13-9-14-10-13-12-14-14-13-15-14-18-13-19-27-44-27-51-27-58-27-63z"/><path fill="#3080fa" d="M599 654l-16 21-16 19-16 16-16 15-15 13-16 10-16 9-16 6-16 5-15 2-17 0-15-1-16-4-16-6-16-8-16-10-15-12-16-14-16-16-16-18-15-20-16-23-16-24-15-25-30-55-29-62-36-83-35-93-2 1 46 123 44 111 46 103 44 93 24 46 24 44 24 41 24 39 23 34 18 26 15 17 18 18 25 20 29 19 30 18 34 16 37 14 35 11 36 9 38 7 37 4 36 1 35-1 33-4 30-7 27-9 24-12 20-14 18-18 25-28 23-28 24-32-2-1-15 19-14 17-13 14-15 14-13 9-13 9-13 7-13 5-13 3-14 2-14 0-13-1-13-4-14-5-13-6-13-9-14-10-13-12-14-14-13-15-14-18-13-19-27-44-27-51-27-58-27-63z"/><path fill="#2e84f9" d="M599 654l-16 21-16 19-16 16-16 15-15 13-16 10-16 9-16 6-16 5-15 2-17 0-15-1-16-4-16-6-16-8-16-10-15-12-16-14-16-16-16-18-15-20-16-23-16-24-15-25-30-55-29-62-36-83-35-93-2 1 46 123 44 111 46 103 44 93 24 46 25 46 25 42 24 39 23 34 13 18 15 17 18 18 27 21 30 19 32 18 34 16 36 14 37 11 39 10 38 6 37 4 37 1 35-2 33-5 29-7 28-9 25-13 11-7 9-8 16-17 23-25 22-27 21-29-2-1-15 19-14 17-13 14-15 14-13 9-13 9-13 7-13 5-13 3-14 2-14 0-13-1-13-4-14-5-13-6-13-9-14-10-13-12-14-14-13-15-14-18-13-19-27-44-27-51-27-58-27-63z"/><path fill="#2e87f7" d="M599 654l-16 21-16 19-16 16-16 15-15 13-16 10-16 9-16 6-16 5-15 2-17 0-15-1-16-4-16-6-16-8-16-10-15-12-16-14-16-16-16-18-15-20-16-23-16-24-15-25-30-55-29-62-36-83-35-93-2 1 46 123 44 111 46 103 44 93 25 48 25 46 25 42 25 39 19 30 12 15 16 17 18 18 27 21 31 20 32 18 36 16 38 14 37 11 40 10 39 6 40 3 37 1 36-2 32-5 31-8 27-11 24-12 10-7 9-8 15-16 21-24 20-25 19-26-2-1-15 19-14 17-13 14-15 14-13 9-13 9-13 7-13 5-13 3-14 2-14 0-13-1-13-4-14-5-13-6-13-9-14-10-13-12-14-14-13-15-14-18-13-19-27-44-27-51-27-58-27-63z"/><path fill="#2d8bf4" d="M599 654l-16 21-16 19-16 16-16 15-15 13-16 10-16 9-16 6-16 5-15 2-17 0-15-1-16-4-16-6-16-8-16-10-15-12-16-14-16-16-16-18-15-20-16-23-16-24-15-25-30-55-29-62-36-83-35-93-2 1 46 123 44 111 46 103 45 95 26 49 26 47 25 43 25 40 14 20 12 16 16 16 18 17 27 21 31 20 35 18 36 17 38 14 38 11 40 9 39 6 40 4 37 0 36-2 35-5 30-8 15-6 14-6 24-13 10-7 10-8 13-14 19-23 36-47-2-1-15 19-14 17-13 14-15 14-13 9-13 9-13 7-13 5-13 3-14 2-14 0-13-1-13-4-14-5-13-6-13-9-14-10-13-12-14-14-13-15-14-18-13-19-27-44-27-51-27-58-27-63z"/><path fill="#2c8ef1" d="M599 654l-16 21-16 19-16 16-16 15-15 13-16 10-16 9-16 6-16 5-15 2-17 0-15-1-16-4-16-6-16-8-16-10-15-12-16-14-16-16-16-18-15-20-16-23-16-24-15-25-30-55-29-62-36-83-35-93-2 1 46 123 45 113 46 104 45 94 26 50 26 46 26 44 26 41 11 15 13 15 15 16 16 14 29 22 32 20 34 18 37 16 38 14 40 12 42 9 40 6 39 3 39 0 36-2 34-6 30-8 29-11 13-7 12-8 10-7 10-9 29-34 32-42-2-1-19 24-19 21-13 13-14 11-14 11-16 8-15 6-15 4-16 2-15-1-16-3-15-6-16-7-15-10-16-13-15-14-23-27-23-31-23-36-23-40-23-46-22-50-22-54z"/><path fill="#2b92ef" d="M599 654l-16 21-16 19-16 16-16 15-15 13-16 10-16 9-16 6-16 5-15 2-17 0-15-1-16-4-16-6-16-8-16-10-15-12-16-14-16-16-16-18-15-20-16-23-16-24-15-25-30-55-29-62-36-83-35-93-2 1 46 123 45 113 46 104 45 94 25 47 25 45 24 42 25 40 12 16 14 16 15 15 18 15 29 22 33 21 35 18 38 17 39 13 41 12 41 9 43 6 41 3 38-1 38-3 33-6 32-9 27-12 13-6 11-8 10-8 10-8 25-31 29-38-2-1-16 21-16 18-15 16-17 14-15 10-14 8-15 7-15 4-16 2-15-1-16-3-15-5-15-7-15-9-15-12-15-13-24-26-23-31-24-37-23-41-23-46-23-51-23-56z"/><path fill="#2895ec" d="M599 654l-16 21-16 19-16 16-16 15-15 13-16 10-16 9-16 6-16 5-15 2-17 0-15-1-16-4-16-6-16-8-16-10-15-12-16-14-16-16-16-18-15-20-16-23-16-24-15-25-30-55-29-62-36-83-35-93-2 1 46 123 46 115 47 107 46 94 23 45 24 42 23 40 22 35 12 17 15 16 16 16 18 16 31 22 34 21 37 18 39 17 41 14 41 11 41 9 42 5 43 3 38-1 37-3 34-7 32-10 28-12 12-7 12-8 9-8 9-8 23-28 25-33-2-1-16 21-16 18-15 16-16 13-14 10-15 9-14 6-15 4-15 2-15 0-16-2-14-4-16-7-15-9-14-11-15-12-24-26-24-30-24-36-23-42-24-47-24-53-23-56z"/><path fill="#2798ea" d="M599 654l-16 21-16 19-16 16-16 15-15 13-16 10-16 9-16 6-16 5-15 2-17 0-15-1-16-4-16-6-16-8-16-10-15-12-16-14-16-16-16-18-15-20-16-23-16-24-15-25-30-55-29-62-36-83-35-93-2 1 46 123 46 115 47 107 24 50 23 46 22 43 22 40 24 40 19 31 13 17 15 17 17 16 19 16 31 23 34 20 37 18 41 18 41 14 42 11 42 8 43 6 41 2 41-1 36-4 35-6 31-10 15-6 14-7 13-7 11-8 10-8 10-10 20-24 21-29-2-1-15 20-16 18-16 16-15 14-14 10-15 8-14 6-14 5-15 2-16 0-14-1-15-4-15-7-14-8-15-10-15-12-12-12-12-14-24-30-25-37-24-41-25-48-23-53-24-58z"/><path fill="#259be8" d="M603 665l-4-11-17 22-16 19-17 17-17 16-16 12-17 11-17 8-17 6-15 4-15 1-16 0-15-2-15-5-15-6-15-8-15-10-16-12-16-14-16-16-15-18-16-20-15-22-15-24-16-25-29-55-30-62-35-82-35-93-2 1 41 111 42 105 42 98 42 90 24 47 24 46 24 41 24 40 9 15 11 14 13 14 14 14 23 19 26 19 29 18 30 16 32 16 35 13 34 12 35 9 36 8 36 6 37 4 35 1 33-1 33-3 29-5 29-7-1-2-10 1-11 1-20-2-19-6-18-8-19-13-19-15-19-19-18-23-20-27-19-29-19-34-19-36-19-40-19-43-19-47zM959 1032l-5 4 1 2 20-13 18-15 14-16 27-36-2-1-20 26-21 23-15 14z"/><path fill="#249ee6" d="M603 665l-4-11-17 22-16 19-17 17-17 16-16 12-17 11-17 8-17 6-15 4-15 1-16 0-15-2-15-5-15-6-15-8-15-10-16-12-16-14-16-16-15-18-16-20-15-22-15-24-16-25-29-55-30-62-35-82-35-93-2 1 40 109 41 102 41 95 40 87 24 48 24 45 23 42 24 41 9 13 10 14 12 14 14 14 22 19 25 19 27 17 29 17 30 15 32 13 33 12 35 11 34 9 35 7 34 4 34 3 34 1 32-1 32-4 28-5 0-1-19-3-20-6-17-8-16-10-18-15-17-17-18-19-17-23-18-27-17-28-18-33-18-35-18-39-17-40-17-43zM984 1013l-7 5 2 2 13-11 11-10 31-41-2-1-24 31z"/><path fill="#22a1e4" d="M603 665l-4-11-17 22-16 19-17 17-17 16-16 12-17 11-17 8-17 6-15 4-15 1-16 0-15-2-15-5-15-6-15-8-15-10-16-12-16-14-16-16-15-18-16-20-15-22-15-24-16-25-29-55-30-62-35-82-35-93-2 1 40 108 40 100 39 93 40 86 23 47 23 44 23 42 23 39 9 14 11 14 11 14 14 13 21 19 24 19 26 18 27 15 29 15 31 14 32 13 35 11 34 9 35 8 34 5 33 4 34 2 32 0 31-2 29-4 0-2-19-5-18-8-16-9-16-12-16-15-16-18-17-20-16-23-18-26-16-29-17-30-16-34-17-37-17-39zM999 998l-6 6 1 2 17-17 23-31-2-1-17 22z"/><path fill="#20a4e3" d="M603 665l-4-11-17 22-16 19-17 17-17 16-16 12-17 11-17 8-17 6-15 4-15 1-16 0-15-2-15-5-15-6-15-8-15-10-16-12-16-14-16-16-15-18-16-20-15-22-15-24-16-25-29-55-30-62-35-82-35-93-2 1 39 104 39 101 40 93 39 84 44 88 22 41 23 40 9 14 10 13 12 14 13 13 20 19 24 19 25 17 27 16 29 15 31 15 31 12 32 11 32 9 35 9 33 6 34 4 34 3 32 1 31-1 31-3 0-2-18-6-17-10-16-11-15-12-16-17-16-17-15-21-16-23-16-26-16-28-16-29-15-33-32-73zM1010 985l-5 6 2 2 11-13 16-22-2-1z"/><path fill="#1ea7e1" d="M603 665l-4-11-17 22-16 19-17 17-17 16-16 12-17 11-17 8-17 6-15 4-15 1-16 0-15-2-15-5-15-6-15-8-15-10-16-12-16-14-16-16-15-18-16-20-15-22-15-24-16-25-29-55-30-62-35-82-35-93-2 1 39 104 38 98 39 90 39 86 43 86 43 78 9 15 11 14 11 13 13 14 20 18 23 18 25 18 27 16 28 15 29 14 31 13 33 11 34 11 32 7 32 7 33 5 34 3 32 2 30-1 32-2 0-1-17-8-16-11-15-11-15-14-15-17-15-18-15-20-15-22-16-26-14-27-31-61-30-70zM1022 971l-7 8 2 1 17-22-2-1z"/><path fill="#1baade" d="M603 665l-4-11-17 22-16 19-17 17-17 16-16 12-17 11-17 8-17 6-15 4-15 1-16 0-15-2-15-5-15-6-15-8-15-10-16-12-16-14-16-16-15-18-16-20-15-22-15-24-16-25-29-55-30-62-35-82-35-93-2 1 37 101 39 98 39 91 38 85 41 83 42 76 9 14 11 14 11 13 13 14 20 19 22 17 24 18 26 16 28 15 30 15 29 12 33 12 33 10 31 9 32 6 34 6 35 4 31 2 32 0 31-1 0-1-16-9-17-12-13-12-14-14-15-17-15-18-15-21-14-22-15-25-14-27-29-59-30-69zM1030 960l-5 7 2 1 7-10-2-1z"/><path fill="#19addc" d="M603 665l-4-11-17 22-16 19-17 17-17 16-16 12-17 11-17 8-17 6-15 4-15 1-16 0-15-2-15-5-15-6-15-8-15-10-16-12-16-14-16-16-15-18-16-20-15-22-15-24-16-25-29-55-30-62-35-82-35-93-2 1 37 101 39 98 39 91 37 82 40 81 40 73 9 14 10 14 11 13 13 14 20 19 22 18 24 17 26 16 28 16 28 13 31 14 30 11 33 11 31 8 33 8 33 6 35 4 32 2 32 1 29-1 0-1-15-10-16-12-14-13-13-14-14-17-14-18-14-21-14-22-29-52-28-58-28-65z"/><path fill="#14b0d8" d="M603 665l-4-11-17 22-16 19-17 17-17 16-16 12-17 11-17 8-17 6-15 4-15 1-16 0-15-2-15-5-15-6-15-8-15-10-16-12-16-14-16-16-15-18-16-20-15-22-15-24-16-25-29-55-30-62-35-82-35-93-2 1 37 101 38 95 37 89 39 84 39 79 37 70 9 14 10 14 12 14 13 13 19 18 22 18 24 17 25 17 28 15 28 14 30 13 30 12 32 11 32 9 33 8 34 6 33 5 30 3 31 1 32 0 0-1-15-11-15-14-13-13-13-14-14-17-13-18-27-43-27-50-27-56-28-64z"/><path fill="#0fb2d5" d="M603 665l-4-11-17 22-16 19-17 17-17 16-16 12-17 11-17 8-17 6-15 4-15 1-16 0-15-2-15-5-15-6-15-8-15-10-16-12-16-14-16-16-15-18-16-20-15-22-15-24-16-25-29-55-30-62-35-82-35-93-2 1 37 101 38 95 37 88 37 81 37 76 36 68 9 14 11 15 11 13 13 14 19 18 22 18 24 18 26 16 25 15 30 15 29 13 30 12 32 11 32 9 33 8 32 6 33 5 30 4 32 1 32 1 0-1-14-12-15-13-13-14-13-15-26-35-25-41-27-49-26-56-26-62z"/><path fill="#09b4d1" d="M603 665l-4-11-17 22-16 19-17 17-17 16-16 12-17 11-17 8-17 6-15 4-15 1-16 0-15-2-15-5-15-6-15-8-15-10-16-12-16-14-16-16-15-18-16-20-15-22-15-24-16-25-29-55-30-62-35-82-35-93-2 1 37 101 38 95 37 88 37 81 36 74 33 63 9 14 11 14 12 15 12 13 19 18 22 18 23 17 26 16 27 16 28 14 29 14 30 11 32 11 31 10 32 8 32 7 32 5 32 4 31 2 32 0 0-1-15-12-14-14-23-28-26-36-25-40-25-48-26-55-25-60z"/><path fill="#04b6cd" d="M603 665l-4-11-17 22-16 19-17 17-17 16-16 12-17 11-17 8-17 6-15 4-15 1-16 0-15-2-15-5-15-6-15-8-15-10-16-12-16-14-16-16-15-18-16-20-15-22-15-24-16-25-29-55-30-62-35-82-35-93-2 1 37 99 37 94 37 89 36 80 34 70 33 62 9 14 10 14 12 14 13 14 19 18 22 18 23 17 25 17 27 16 28 14 29 13 30 12 31 11 31 10 32 8 33 7 31 5 33 5 32 2 29 1 1-1-14-13-14-14-23-28-25-36-24-40-25-47-24-53-25-59z"/><path fill="#01b8c9" d="M603 665l-4-11-17 22-16 19-17 17-17 16-16 12-17 11-17 8-17 6-15 4-15 1-16 0-15-2-15-5-15-6-15-8-15-10-16-12-16-14-16-16-15-18-16-20-15-22-15-24-16-25-29-55-30-62-35-82-35-93-2 1 37 99 36 91 36 88 37 82 33 67 31 59 8 14 11 14 11 14 14 14 19 18 21 18 24 18 23 15 27 16 28 14 27 13 31 13 31 11 30 10 32 9 33 7 31 6 32 4 33 3 31 1-13-13-13-15-23-29-24-35-23-40-24-46-24-52-24-58z"/><path fill="#02bac4" d="M603 665l-4-11-17 22-16 19-17 17-17 16-16 12-17 11-17 8-17 6-15 4-15 1-16 0-15-2-15-5-15-6-15-8-15-10-16-12-16-14-16-16-15-18-16-20-15-22-15-24-16-25-29-55-30-62-35-82-35-93-2 1 37 99 36 91 36 88 37 82 32 65 28 54 9 14 11 14 11 14 14 14 18 18 22 18 24 18 23 15 27 16 27 15 28 12 30 13 31 12 31 9 33 10 31 7 32 6 30 4 31 3 32 2 0-1-13-13-13-15-21-29-23-35-23-40-24-45-23-51-23-56z"/><path fill="#07bcc0" d="M603 665l-4-11-17 22-16 19-17 17-17 16-16 12-17 11-17 8-17 6-15 4-15 1-16 0-15-2-15-5-15-6-15-8-15-10-16-12-16-14-16-16-15-18-16-20-15-22-15-24-16-25-29-55-30-62-35-82-35-93-2 1 37 99 35 91 37 88 36 79 32 65 25 49 9 14 11 15 11 13 14 15 18 17 22 19 22 16 25 17 27 16 27 14 28 14 29 12 31 11 32 11 31 8 31 8 32 6 31 5 31 3 31 2 1-1-14-14-12-15-21-27-22-35-22-40-23-46-22-49-23-54z"/><path fill="#0dbdbb" d="M603 665l-4-11-17 22-16 19-17 17-17 16-16 12-17 11-17 8-17 6-15 4-15 1-16 0-15-2-15-5-15-6-15-8-15-10-16-12-16-14-16-16-15-18-16-20-15-22-15-24-16-25-29-55-30-62-35-82-35-93-2 1 37 99 35 91 36 86 36 79 30 63 24 45 9 14 11 15 12 14 12 14 19 18 20 17 22 16 25 17 25 15 27 15 28 14 31 13 32 12 30 10 30 9 33 8 32 6 32 5 32 4 30 2-25-30-20-29-22-34-21-39-22-45-22-48-21-52z"/><path fill="#16bfb7" d="M603 665l-4-11-17 22-16 19-17 17-17 16-16 12-17 11-17 8-17 6-15 4-15 1-16 0-15-2-15-5-15-6-15-8-15-10-16-12-16-14-16-16-15-18-16-20-15-22-15-24-16-25-29-55-30-62-35-82-35-93-2 1 37 99 35 91 37 88 36 79 30 63 19 36 10 15 11 14 11 14 13 14 19 18 20 17 22 16 25 17 27 16 26 15 29 13 28 13 29 11 30 10 32 10 32 8 32 7 31 5 33 4 30 2 1 0-25-30-20-29-20-34-21-38-21-43-21-47-21-52z"/><path fill="#1ec0b2" d="M603 665l-4-11-17 22-16 19-17 17-17 16-16 12-17 11-17 8-17 6-15 4-15 1-16 0-15-2-15-5-15-6-15-8-15-10-16-12-16-14-16-16-15-18-16-20-15-22-15-24-16-25-29-55-30-62-35-82-35-93-2 1 37 99 35 91 37 88 36 79 30 63 16 29 9 14 11 14 25 29 19 17 21 18 21 17 24 15 26 16 27 15 28 14 28 12 30 12 30 10 32 10 32 8 31 7 32 5 31 5 31 2-23-30-19-28-20-35-20-37-21-42-20-46-21-51z"/><path fill="#25c2ad" d="M603 665l-4-11-17 22-16 19-17 17-17 16-16 12-17 11-17 8-17 6-15 4-15 1-16 0-15-2-15-5-15-6-15-8-15-10-16-12-16-14-16-16-15-18-16-20-15-22-15-24-16-25-29-55-30-62-35-82-35-93-2 1 37 99 35 91 36 86 36 79 33 67 10 20 10 14 10 14 25 28 19 18 20 17 22 17 25 17 25 15 26 14 29 14 28 13 29 12 30 10 31 9 32 9 31 7 32 6 32 4 31 3-23-31-18-28-20-34-19-35-19-42-20-44-20-49z"/><path fill="#2ac3a9" d="M603 665l-4-11-17 22-16 19-17 17-17 16-16 12-17 11-17 8-17 6-15 4-15 1-16 0-15-2-15-5-15-6-15-8-15-10-16-12-16-14-16-16-15-18-16-20-15-22-15-24-16-25-29-55-30-62-35-82-35-93-2 1 37 99 35 91 37 88 36 79 28 59 12 20 9 14 11 14 24 27 19 18 20 17 22 17 25 17 25 15 26 14 28 14 29 13 29 12 32 11 29 9 31 8 31 7 33 7 31 4 30 3-22-31-17-27-19-33-19-36-20-42-19-43-19-47z"/><path fill="#2ec5a4" d="M603 665l-4-11-17 22-16 19-17 17-17 16-16 12-17 11-17 8-17 6-15 4-15 1-16 0-15-2-15-5-15-6-15-8-15-10-16-12-16-14-16-16-15-18-16-20-15-22-15-24-16-25-29-55-30-62-35-82-35-93-2 1 37 99 35 91 36 86 36 79 25 53 12 20 20 28 24 27 19 18 20 17 23 18 24 16 25 15 26 15 28 14 28 12 29 12 30 11 31 10 31 8 30 7 33 7 31 4 31 4-21-31-17-28-18-32-19-35-19-41-18-41-19-47z"/><path fill="#32c69e" d="M603 665l-4-11-17 22-16 19-17 17-17 16-16 12-17 11-17 8-17 6-15 4-15 1-16 0-15-2-15-5-15-6-15-8-15-10-16-12-16-14-16-16-15-18-16-20-15-22-15-24-16-25-29-55-30-62-35-82-35-93-2 1 37 99 35 91 37 88 36 79 21 44 13 22 20 28 24 25 18 18 21 17 21 17 25 17 25 15 26 15 28 14 28 12 29 12 29 11 31 10 31 8 33 8 29 6 33 5 30 4-21-32-17-27-18-32-17-34-18-39-18-42-18-45z"/><path fill="#36c799" d="M603 665l-4-11-17 22-16 19-17 17-17 16-16 12-17 11-17 8-17 6-15 4-15 1-16 0-15-2-15-5-15-6-15-8-15-10-16-12-16-14-16-16-15-18-16-20-15-22-15-24-16-25-29-55-30-62-35-82-35-93-2 1 37 99 36 91 36 88 37 82 17 35 14 23 20 26 23 25 18 18 21 17 22 17 23 16 25 15 26 15 27 14 28 13 29 12 29 10 31 10 30 9 33 8 32 7 31 5 30 4-20-32-16-26-17-32-18-34-17-38-17-40-17-43z"/><path fill="#3ac993" d="M603 665l-4-11-17 22-16 19-17 17-17 16-16 12-17 11-17 8-17 6-15 4-15 1-16 0-15-2-15-5-15-6-15-8-15-10-16-12-16-14-16-16-15-18-16-20-15-22-15-24-16-25-29-55-30-62-35-82-35-93-2 1 37 99 37 94 37 89 36 80 14 28 15 24 19 25 22 24 19 17 20 17 22 17 23 16 24 15 27 15 26 13 29 14 29 12 29 11 31 10 30 8 32 8 30 7 31 5 32 4-20-30-15-27-17-31-16-33-17-38-17-38z"/><path fill="#40ca8d" d="M603 665l-4-11-17 22-16 19-17 17-17 16-16 12-17 11-17 8-17 6-15 4-15 1-16 0-15-2-15-5-15-6-15-8-15-10-16-12-16-14-16-16-15-18-16-20-15-22-15-24-16-25-29-55-30-62-35-82-35-93-2 1 37 99 37 94 37 89 37 81 12 24 15 23 18 23 21 23 19 17 20 18 22 16 23 16 25 15 26 15 26 13 28 13 29 12 30 12 30 10 31 9 32 8 29 6 31 6 32 4-20-31-15-26-16-31-16-32-16-36-17-39z"/><path fill="#47cb87" d="M603 665l-4-11-17 22-16 19-17 17-17 16-16 12-17 11-17 8-17 6-15 4-15 1-16 0-15-2-15-5-15-6-15-8-15-10-16-12-16-14-16-16-15-18-16-20-15-22-15-24-16-25-29-55-30-62-35-82-35-93-2 1 37 99 37 94 36 86 37 82 12 22 14 22 18 22 20 22 19 17 20 18 22 16 23 16 25 15 26 15 28 14 27 13 29 12 29 11 28 9 32 10 32 8 30 7 30 5 31 5-19-32-14-25-15-30-16-32-31-72z"/><path fill="#4fcc80" d="M603 665l-4-11-17 22-16 19-17 17-17 16-16 12-17 11-17 8-17 6-15 4-15 1-16 0-15-2-15-5-15-6-15-8-15-10-16-12-16-14-16-16-15-18-16-20-15-22-15-24-16-25-29-55-30-62-35-82-35-93-2 1 35 95 36 92 37 87 35 78 12 23 15 23 18 22 20 22 18 16 21 18 21 16 23 16 25 16 26 14 27 15 28 12 29 13 28 10 30 11 32 9 30 8 30 7 31 6 31 4-32-56-30-60-30-70z"/><path fill="#57cc7a" d="M603 665l-4-11-17 22-16 19-17 17-17 16-16 12-17 11-17 8-17 6-15 4-15 1-16 0-15-2-15-5-15-6-15-8-15-10-16-12-16-14-16-16-15-18-16-20-15-22-15-24-16-25-29-55-30-62-35-82-35-93-2 1 35 95 35 90 35 82 34 78 12 22 16 23 17 22 22 23 19 17 20 17 22 17 23 16 25 15 26 15 26 14 27 12 27 12 30 11 30 11 30 9 31 8 31 7 31 6 30 5-31-56-29-59-30-69z"/><path fill="#60cd72" d="M603 665l-4-11-17 22-16 19-17 17-17 16-16 12-17 11-17 8-17 6-15 4-15 1-16 0-15-2-15-5-15-6-15-8-15-10-16-12-16-14-16-16-15-18-16-20-15-22-15-24-16-25-29-55-30-62-35-82-35-93-2 1 34 93 34 86 34 82 34 76 12 22 16 24 18 22 21 23 18 16 20 18 22 16 23 16 25 16 24 14 27 14 28 13 26 11 30 12 30 10 32 10 31 8 31 8 29 5 31 5-30-54-28-58-29-67z"/><path fill="#69cd6b" d="M603 665l-4-11-17 22-16 19-17 17-17 16-16 12-17 11-17 8-17 6-15 4-15 1-16 0-15-2-15-5-15-6-15-8-15-10-16-12-16-14-16-16-15-18-16-20-15-22-15-24-16-25-29-55-30-62-35-82-35-93-2 1 33 89 32 84 34 82 33 74 13 23 16 24 19 23 21 23 18 16 21 17 22 17 23 16 24 15 25 14 27 15 27 12 29 13 28 11 28 9 31 10 31 9 31 7 30 6 30 5-29-55-27-55-28-65z"/><path fill="#72cd64" d="M603 665l-4-11-17 22-16 19-17 17-17 16-16 12-17 11-17 8-17 6-15 4-15 1-16 0-15-2-15-5-15-6-15-8-15-10-16-12-16-14-16-16-15-18-16-20-15-22-15-24-16-25-29-55-30-62-35-82-35-93-2 1 32 86 32 84 33 79 31 72 13 23 16 24 19 23 22 24 19 16 20 17 21 16 23 16 24 15 26 15 26 14 27 13 28 12 30 12 30 10 29 9 31 9 31 7 29 6 30 5-28-52-26-56-26-62z"/><path fill="#7ccc5c" d="M603 665l-4-11-17 22-16 19-17 17-17 16-16 12-17 11-17 8-17 6-15 4-15 1-16 0-15-2-15-5-15-6-15-8-15-10-16-12-16-14-16-16-15-18-16-20-15-22-15-24-16-25-29-55-30-62-35-82-35-93-2 1 32 86 31 81 32 77 30 69 13 24 16 24 19 23 23 24 18 16 20 17 21 16 23 16 23 15 26 14 27 15 27 13 29 12 28 11 27 10 31 10 31 8 30 8 30 6 32 6-28-53-25-53-25-60z"/><path fill="#85cb55" d="M603 665l-4-11-17 22-16 19-17 17-17 16-16 12-17 11-17 8-17 6-15 4-15 1-16 0-15-2-15-5-15-6-15-8-15-10-16-12-16-14-16-16-15-18-16-20-15-22-15-24-16-25-29-55-30-62-35-82-35-93-2 1 30 83 32 81 30 74 29 67 14 25 17 24 19 23 22 24 19 17 20 16 22 17 23 16 24 15 25 14 26 14 26 13 27 11 30 12 29 11 29 9 31 9 30 7 29 6 32 6-26-51-24-51-25-59z"/><path fill="#8fcb4e" d="M603 665l-4-11-17 22-16 19-17 17-17 16-16 12-17 11-17 8-17 6-15 4-15 1-16 0-15-2-15-5-15-6-15-8-15-10-16-12-16-14-16-16-15-18-16-20-15-22-15-24-16-25-29-55-30-62-35-82-35-93-2 1 29 80 31 78 30 76 28 63 14 25 17 25 20 24 23 23 18 17 20 17 21 16 23 16 23 14 26 15 26 14 27 13 54 23 30 10 30 10 31 9 29 7 30 7 31 5-26-51-23-50-24-58z"/><path fill="#98c947" d="M303 707l4 4 1-2-14-14-13-17-28-37-28-43-28-50-23-47-23-51-31-74-30-80-2 1 30 83 32 81 34 83 22 49 8 15 10 15 22 29 26 27zM605 669l-6-15-15 19-15 18-14 16-15 14-15 12-15 11-15 9-15 7-12 4-12 4-12 2-12 0-13 0-13-2-13-3-13-5-1 2 34 20 37 18 38 17 40 16 41 14 41 12 43 11 43 8-25-50-22-47-22-54z"/><path fill="#a2c840" d="M605 669l-6-15-28 35-13 14-14 14-14 12-13 11-14 9-14 7-21 9-22 4-11 1-12 0-11-1-12-2-1 1 34 18 35 17 36 15 36 14 36 11 39 11 39 10 38 7-24-48-20-46-22-52zM281 684l5 4 1-1-25-33-26-38-25-43-25-48-20-42-20-45-28-68-28-74-2 1 29 80 29 75 31 75 23 53 15 27 19 26 21 25z"/><path fill="#abc739" d="M605 669l-6-15-26 33-26 27-12 12-13 10-14 9-13 8-19 9-19 5-21 3-21-1 0 2 31 16 33 15 35 14 32 12 35 11 35 10 35 8 38 8-23-47-20-45-21-50zM266 665l5 4 1-1-24-33-23-37-23-42-24-46-22-47-22-52-22-56-22-59-2 1 27 74 28 71 28 71 24 57 13 23 16 24 20 24z"/><path fill="#b3c534" d="M605 669l-6-15-24 31-25 27-25 21-12 9-13 8-17 9-17 6-19 4-20 1 0 2 30 14 29 13 34 13 31 11 33 11 35 9 33 8 33 7-22-46-19-42-19-49zM254 648l4 4 2-1-22-33-22-37-22-41-22-43-21-46-20-48-20-51-21-56-2 1 26 71 27 70 27 67 23 54 11 22 15 23 18 22z"/><path fill="#bcc42f" d="M605 669l-6-15-20 26-20 23-20 19-20 16-19 13-20 9-17 6-12 3-13 1 0 1 27 13 29 12 32 13 30 10 31 10 32 8 32 8 31 6-21-44-18-41-19-47zM243 632l4 4 2-1-21-32-20-35-21-40-20-42-20-44-19-45-18-48-20-53-2 1 50 134 26 65 22 53 11 21 13 21 16 21z"/><path fill="#c4c22a" d="M605 669l-6-15-19 24-19 22-18 18-19 16-18 13-18 10-17 7-11 3-12 2 0 1 54 23 57 21 58 17 61 13-20-43-17-39-18-45zM234 617l3 4 2-1-20-32-19-34-19-39-19-40-18-41-18-43-36-95-2 1 47 127 25 63 22 52 10 20 12 20 14 19z"/><path fill="#ccc028" d="M605 669l-6-15-18 23-17 20-18 18-17 16-17 12-18 11-16 7-21 7 51 22 56 19 57 17 54 12-19-42-16-38-18-43zM225 603l3 4 2-1-16-28-17-30-32-66-19-43-18-44-19-48-19-51-2 1 46 123 44 110 9 18 11 19 13 18z"/><path fill="#d4bf28" d="M605 669l-6-15-17 22-16 19-17 17-16 15-16 13-17 10-15 8-20 7 0 1 49 20 51 18 53 15 54 12-34-77zM216 588l4 5 2-1-30-55-31-63-17-40-18-43-36-95-2 1 43 116 43 107 8 17 10 17 12 18z"/><path fill="#dbbd29" d="M605 669l-6-15-16 20-15 19-16 16-15 15-15 12-16 11-14 8-19 8 0 1 48 19 49 16 48 14 51 11-33-74zM208 574l4 5 2-1-29-54-27-59-34-79-34-90-2 1 41 111 41 103 8 16 9 16 10 16z"/><path fill="#e2bc2b" d="M605 669l-6-15-15 19-15 18-14 16-14 14-15 12-14 10-14 8-18 9 0 1 45 17 46 15 47 13 47 11-30-71zM201 561l4 5 1-1-26-51-26-56-32-77-32-85-2 1 40 108 38 96 7 15 8 15z"/><path fill="#e8bb2f" d="M605 669l-6-15-28 35-13 15-14 14-14 11-13 11-13 8-17 10 43 16 44 14 43 12 45 10-29-68zM194 548l4 5 1-1-24-48-24-53-30-73-31-82-2 1 37 101 37 94 14 28z"/><path fill="#eeba34" d="M605 669l-6-15-26 33-26 28-25 21-28 18 39 15 42 13 42 12 42 10-28-66zM187 535l4 5 2-1-22-45-22-49-29-70-30-79-2 1 35 95 36 90 12 27z"/><path fill="#f4ba39" d="M605 669l-6-15-24 31-25 27-24 21-26 18 38 13 39 13 39 10 40 10-26-63zM181 522l3 5 2-1-20-41-20-46-28-67-28-76-2 1 33 90 34 86 11 24z"/><path fill="#f9bb3d" d="M605 669l-6-15-23 30-23 25-23 20-23 18 36 13 37 11 35 10 38 9-25-60zM175 510l3 5 2-1-22-49-23-51-22-57-23-61-2 1 32 86 31 81 11 23z"/><path fill="#fdbd3d" d="M605 669l-6-15-21 27-22 24-21 21-22 17 35 12 33 10 33 9 36 9-24-58zM169 498l3 4 2-1-21-46-21-49-21-52-21-58-2 1 29 80 30 78 10 21z"/><path fill="#fec03a" d="M605 669l-6-15-20 26-20 23-20 19-21 17 31 10 32 10 33 9 33 8-22-55zM163 485l4 5 1-1-19-44-20-46-19-50-20-53-2 1 28 77 28 72 9 19z"/><path fill="#fec437" d="M605 669l-6-15-19 24-18 21-19 19-19 17 60 19 60 15-21-52zM158 473l3 5 2-1-18-41-18-44-37-96-2 1 26 71 26 69 8 18z"/><path fill="#fec835" d="M605 669l-6-15-18 23-17 20-17 17-18 16 56 18 56 14zM153 462l3 4 1-1-33-79-34-90-2 1 49 131 7 17z"/><path fill="#fdcc32" d="M605 669l-6-15-16 21-16 19-16 17-17 15 53 16 51 13zM148 450l2 4 2-1-31-75-31-82-2 1 45 122 7 15z"/><path fill="#fcd030" d="M605 669l-6-15-15 19-15 18-15 16-14 14 46 15 49 12zM143 438l2 5 2-1-29-70-28-76-2 1 42 113z"/><path fill="#fad42e" d="M605 669l-6-15-27 34-14 15-13 14 44 13 44 11zM138 426l2 5 2-1-26-65-26-69-2 1 38 104z"/><path fill="#f8d92c" d="M605 669l-6-15-24 31-26 27 40 12 41 10zM133 415l2 4 2-1-23-58-24-64-2 1 35 95z"/><path fill="#f7dd2a" d="M605 669l-6-15-23 29-22 24 36 11 37 9zM128 403l2 5 3-1-22-53-21-58-2 1 31 86z"/><path fill="#f6e128" d="M605 669l-6-15-20 26-20 23 31 8 34 9zM124 392l2 4 2 0-19-49-19-51-2 1 28 77z"/><path fill="#f5e526" d="M605 669l-6-15-18 23-17 21 57 15zM119 380l2 5 2-1-33-88-2 1z"/><path fill="#f5e924" d="M605 669l-6-15-16 20-15 19 51 13zM115 369l2 5 2-1-29-77-2 1z"/><path fill="#f5ed21" d="M605 669l-6-15-27 34 44 11zM110 358l2 5 3-1-25-66-2 1z"/><path fill="#f6f11e" d="M605 669l-6-15-22 28 36 10zM106 347l2 4 2 0-20-55-2 1z"/><path fill="#f7f51b" d="M605 669l-6-15-18 23 30 8zM102 336l2 4 2-1-16-43-2 1z"/><path fill="#f8f917" d="M605 669l-6-15-14 18 23 6zM98 324l2 5 2-1-12-32-2 1z"/></g></g>
<path d="M47 546 47 155.3M47 546 299.8 724.9M299.8 724.9 629.5 587.8M47 546 38.5 540M47 480.8 38.5 474.8M47 415.7 38.5 409.7M47 350.6 38.5 344.6M47 285.5 38.5 279.5M47 220.4 38.5 214.4M47 155.3 38.5 149.3M47 546 37.9 549.7M110.2 590.7 101.1 594.5M173.4 635.4 164.3 639.2M236.6 680.2 227.5 683.9M299.8 724.9 290.7 728.7M299.8 724.9 308 730.7M382.2 690.6 390.4 696.4M464.6 656.3 472.9 662.2M547.1 622.1 555.3 627.9M629.5 587.8 637.7 593.6" stroke="#3c3c3c" stroke-width="1.15" fill="none"/>
<g font-family="Liberation Sans"><text x="33.9" y="543.4" font-size="12" text-anchor="end" fill="#363636">0</text><text x="33.9" y="478.2" font-size="12" text-anchor="end" fill="#363636">50</text><text x="33.9" y="413.1" font-size="12" text-anchor="end" fill="#363636">100</text><text x="33.9" y="348" font-size="12" text-anchor="end" fill="#363636">150</text><text x="33.9" y="282.9" font-size="12" text-anchor="end" fill="#363636">200</text><text x="33.9" y="217.8" font-size="12" text-anchor="end" fill="#363636">250</text><text x="33.9" y="152.7" font-size="12" text-anchor="end" fill="#363636">300</text><text x="32.4" y="565" font-size="12" text-anchor="end" fill="#363636">10</text><text x="95.6" y="609.7" font-size="12" text-anchor="end" fill="#363636">5</text><text x="158.8" y="654.4" font-size="12" text-anchor="end" fill="#363636">0</text><text x="222" y="699.2" font-size="12" text-anchor="end" fill="#363636">−5</text><text x="285.2" y="743.9" font-size="12" text-anchor="end" fill="#363636">−10</text><text x="319" y="746.2" font-size="12" text-anchor="middle" fill="#363636">−10</text><text x="398.5" y="711.9" font-size="12" text-anchor="middle" fill="#363636">−5</text><text x="479.8" y="677.6" font-size="12" text-anchor="middle" fill="#363636">0</text><text x="562.6" y="643.4" font-size="12" text-anchor="middle" fill="#363636">5</text><text x="648.9" y="609.1" font-size="12" text-anchor="middle" fill="#363636">10</text></g>
<path d="M236.7 1593.1 566.4 1455.6M173.5 1548.5 503.2 1411M110.3 1503.8 440 1366.3M47.2 1459.1 376.9 1321.6M382.2 1603.4 129.6 1424.7M464.6 1569 212 1390.3M547.1 1534.7 294.5 1356M629.5 1500.3 376.9 1321.6M129.6 1424.7 129.6 1033.8M212 1390.3 212 999.4M294.5 1356 294.5 965M376.9 1321.6 376.9 930.6M47.2 1394.5 376.9 1257M47.2 1329.9 376.9 1192.4M47.2 1265.2 376.9 1127.7M47.2 1200.6 376.9 1063.1M47.2 1136 376.9 998.5M47.2 1071.4 376.9 933.9M376.9 1321.6 376.9 930.6M440 1366.3 440 975.3M503.2 1411 503.2 1020M566.4 1455.6 566.4 1064.7M629.5 1500.3 629.5 1109.3M629.5 1435.7 376.9 1257M629.5 1371.1 376.9 1192.4M629.5 1306.4 376.9 1127.7M629.5 1241.8 376.9 1063.1M629.5 1177.2 376.9 998.5M629.5 1112.6 376.9 933.9" stroke="#dfdfdf" stroke-width="1" fill="none"/>
<path d="M247.9 1601.1 252.3 1599.6 256.7 1598 261.1 1596.5 265.5 1595 269.9 1593.4 274.2 1591.9 278.6 1590.4 283 1588.8 287.4 1587.3 291.8 1585.8 296.1 1584.2 300.5 1582.7 304.9 1581.2 309.3 1579.6 313.7 1578.1 318 1576.5 322.4 1575 326.8 1573.5 331.1 1571.9 335.5 1570.4 339.9 1568.8 344.3 1567.3 348.6 1565.8 353 1564.2 357.4 1562.7 361.7 1561.1 366.1 1559.6 370.5 1558 374.8 1556.5 379.2 1554.9 383.6 1553.4 387.9 1551.8 392.3 1550.3 396.6 1548.7 401 1547.2 405.4 1545.7 409.7 1544.1 414.1 1542.6 418.4 1541 422.8 1539.4 427.2 1537.9 431.5 1536.3 435.9 1534.8 440.2 1533.2 444.6 1531.7 448.9 1530.1 453.3 1528.6 457.6 1527 462 1525.5 466.3 1523.9 470.7 1522.4 475 1520.8 479.4 1519.2 483.7 1517.7 488.1 1516.1 492.4 1514.6 496.8 1513 501.1 1511.4 505.5 1509.9 509.8 1508.3 514.2 1506.8 518.5 1505.2 522.9 1503.6 527.2 1502.1 531.5 1500.5 535.9 1499 540.2 1497.4 544.6 1495.8 548.9 1494.3 553.3 1492.7 557.6 1491.1 561.9 1489.6 566.3 1488 570.6 1486.4 574.9 1484.9 579.3 1483.3 583.6 1481.7 588 1480.2 592.3 1478.6 596.6 1477" fill="none" stroke="#6c7bfa" stroke-width="1.2"/><path d="M99.1 1495.8 102.9 1493.9 106.8 1492 110.6 1490.1 114.5 1488.2 118.4 1486.3 122.2 1484.4 126.1 1482.5 129.9 1480.6 133.8 1478.7 137.7 1476.8 141.5 1474.9 145.4 1473 149.3 1471.1 153.1 1469.2 157 1467.3 160.9 1465.4 164.7 1463.5 168.6 1461.6 172.5 1459.7 176.3 1457.8 180.2 1455.9 184.1 1454 187.9 1452.1 191.8 1450.2 195.7 1448.3 199.6 1446.4 203.4 1444.5 207.3 1442.6 211.2 1440.7 215.1 1438.8 219 1436.9 222.8 1435.1 226.7 1433.2 230.6 1431.3 234.5 1429.4 238.4 1427.5 242.2 1425.6 246.1 1423.7 250 1421.8 253.9 1420 257.8 1418.1 261.7 1416.2 265.6 1414.3 269.4 1412.4 273.3 1410.5 277.2 1408.6 281.1 1406.8 285 1404.9 288.9 1403 292.8 1401.1 296.7 1399.2 300.6 1397.4 304.5 1395.5 308.3 1393.6 312.2 1391.7 316.1 1389.8 320 1388 323.9 1386.1 327.8 1384.2 331.7 1382.3 335.6 1380.4 339.5 1378.6 343.4 1376.7 347.3 1374.8 351.2 1372.9 355.1 1371.1 359 1369.2 362.9 1367.3 366.8 1365.4 370.7 1363.6 374.6 1361.7 378.5 1359.8 382.4 1358 386.3 1356.1 390.2 1354.2 394.1 1352.3 398.1 1350.5 402 1348.6 405.9 1346.7 409.8 1344.9" fill="none" stroke="#6c7bfa" stroke-width="1.2"/><path d="M265.7 1613.6 270 1612.1 274.3 1610.5 278.7 1608.9 283 1607.4 287.3 1605.8 291.7 1604.2 296 1602.7 300.3 1601.1 304.7 1599.5 309 1598 313.3 1596.4 317.7 1594.8 322 1593.3 326.3 1591.7 330.7 1590.1 335 1588.5 339.3 1587 343.7 1585.4 348 1583.8 352.3 1582.3 356.6 1580.7 361 1579.1 365.3 1577.5 369.6 1576 373.9 1574.4 378.3 1572.8 382.6 1571.2 386.9 1569.7 391.2 1568.1 395.6 1566.5 399.9 1564.9 404.2 1563.4 408.5 1561.8 412.9 1560.2 417.2 1558.6 421.5 1557.1 425.8 1555.5 430.1 1553.9 434.5 1552.3 438.8 1550.8 443.1 1549.2 447.4 1547.6 451.7 1546 456.1 1544.4 460.4 1542.9 464.7 1541.3 469 1539.7 473.3 1538.1 477.6 1536.5 482 1535 486.3 1533.4 490.6 1531.8 494.9 1530.2 499.2 1528.6 503.5 1527 507.9 1525.5 512.2 1523.9 516.5 1522.3 520.8 1520.7 525.1 1519.1 529.4 1517.6 533.7 1516 538 1514.4 542.4 1512.8 546.7 1511.2 551 1509.6 555.3 1508 559.6 1506.5 563.9 1504.9 568.2 1503.3 572.5 1501.7 576.8 1500.1 581.1 1498.5 585.4 1496.9 589.8 1495.4 594.1 1493.8 598.4 1492.2 602.7 1490.6 607 1489 611.3 1487.4" fill="none" stroke="#53abf0" stroke-width="1.2"/><path d="M81.3 1483.3 85.2 1481.4 89.2 1479.5 93.1 1477.6 97 1475.8 100.9 1473.9 104.8 1472 108.7 1470.2 112.6 1468.3 116.5 1466.4 120.4 1464.6 124.3 1462.7 128.2 1460.8 132.1 1458.9 136.1 1457.1 140 1455.2 143.9 1453.3 147.8 1451.5 151.7 1449.6 155.6 1447.8 159.5 1445.9 163.5 1444 167.4 1442.2 171.3 1440.3 175.2 1438.4 179.1 1436.6 183 1434.7 186.9 1432.8 190.9 1431 194.8 1429.1 198.7 1427.3 202.6 1425.4 206.5 1423.5 210.5 1421.7 214.4 1419.8 218.3 1417.9 222.2 1416.1 226.1 1414.2 230.1 1412.4 234 1410.5 237.9 1408.6 241.8 1406.8 245.8 1404.9 249.7 1403.1 253.6 1401.2 257.5 1399.4 261.5 1397.5 265.4 1395.6 269.3 1393.8 273.2 1391.9 277.2 1390.1 281.1 1388.2 285 1386.4 288.9 1384.5 292.9 1382.6 296.8 1380.8 300.7 1378.9 304.7 1377.1 308.6 1375.2 312.5 1373.4 316.4 1371.5 320.4 1369.7 324.3 1367.8 328.2 1366 332.2 1364.1 336.1 1362.2 340 1360.4 344 1358.5 347.9 1356.7 351.8 1354.8 355.8 1353 359.7 1351.1 363.6 1349.3 367.6 1347.4 371.5 1345.6 375.4 1343.7 379.4 1341.9 383.3 1340 387.2 1338.2 391.2 1336.3 395.1 1334.5" fill="none" stroke="#53abf0" stroke-width="1.2"/><path d="M277.2 1621.8 281.5 1620.3 285.9 1618.7 290.2 1617.1 294.5 1615.5 298.8 1613.9 303.1 1612.3 307.4 1610.7 311.7 1609.2 316 1607.6 320.3 1606 324.7 1604.4 329 1602.8 333.3 1601.2 337.6 1599.7 341.9 1598.1 346.2 1596.5 350.5 1594.9 354.8 1593.3 359.1 1591.7 363.4 1590.1 367.7 1588.5 372 1587 376.4 1585.4 380.7 1583.8 385 1582.2 389.3 1580.6 393.6 1579 397.9 1577.4 402.2 1575.8 406.5 1574.2 410.8 1572.7 415.1 1571.1 419.4 1569.5 423.7 1567.9 428 1566.3 432.3 1564.7 436.6 1563.1 440.9 1561.5 445.2 1559.9 449.5 1558.3 453.8 1556.7 458.1 1555.2 462.4 1553.6 466.7 1552 471 1550.4 475.3 1548.8 479.6 1547.2 483.9 1545.6 488.2 1544 492.5 1542.4 496.8 1540.8 501.1 1539.2 505.4 1537.6 509.7 1536 514 1534.4 518.3 1532.8 522.6 1531.2 526.9 1529.6 531.2 1528.1 535.5 1526.5 539.8 1524.9 544 1523.3 548.3 1521.7 552.6 1520.1 556.9 1518.5 561.2 1516.9 565.5 1515.3 569.8 1513.7 574.1 1512.1 578.4 1510.5 582.7 1508.9 587 1507.3 591.3 1505.7 595.6 1504.1 599.9 1502.5 604.1 1500.9 608.4 1499.3 612.7 1497.7 617 1496.1 621.3 1494.5" fill="none" stroke="#3ecbc9" stroke-width="1.2"/><path d="M69.8 1475.1 73.7 1473.2 77.6 1471.4 81.6 1469.5 85.5 1467.6 89.4 1465.8 93.3 1463.9 97.3 1462.1 101.2 1460.2 105.1 1458.4 109.1 1456.5 113 1454.7 116.9 1452.8 120.9 1451 124.8 1449.1 128.7 1447.3 132.7 1445.4 136.6 1443.6 140.5 1441.7 144.5 1439.9 148.4 1438 152.4 1436.2 156.3 1434.3 160.2 1432.5 164.2 1430.6 168.1 1428.8 172 1426.9 176 1425.1 179.9 1423.2 183.9 1421.4 187.8 1419.5 191.7 1417.7 195.7 1415.8 199.6 1414 203.5 1412.1 207.5 1410.3 211.4 1408.4 215.4 1406.6 219.3 1404.8 223.3 1402.9 227.2 1401.1 231.1 1399.2 235.1 1397.4 239 1395.5 243 1393.7 246.9 1391.8 250.9 1390 254.8 1388.1 258.7 1386.3 262.7 1384.5 266.6 1382.6 270.6 1380.8 274.5 1378.9 278.5 1377.1 282.4 1375.2 286.4 1373.4 290.3 1371.6 294.2 1369.7 298.2 1367.9 302.1 1366 306.1 1364.2 310 1362.3 314 1360.5 317.9 1358.7 321.9 1356.8 325.8 1355 329.8 1353.1 333.7 1351.3 337.7 1349.5 341.6 1347.6 345.6 1345.8 349.5 1343.9 353.5 1342.1 357.4 1340.3 361.4 1338.4 365.3 1336.6 369.3 1334.7 373.2 1332.9 377.2 1331.1 381.1 1329.2 385.1 1327.4" fill="none" stroke="#3ecbc9" stroke-width="1.2"/><path d="M286.1 1628.1 290.4 1626.5 294.7 1624.9 299 1623.3 303.3 1621.7 307.6 1620.1 311.9 1618.5 316.1 1616.9 320.4 1615.3 324.7 1613.7 329 1612.1 333.3 1610.5 337.6 1609 341.9 1607.4 346.2 1605.8 350.5 1604.2 354.8 1602.6 359.1 1601 363.4 1599.4 367.7 1597.8 372 1596.2 376.3 1594.6 380.6 1593 384.9 1591.4 389.2 1589.8 393.4 1588.2 397.7 1586.6 402 1585 406.3 1583.4 410.6 1581.8 414.9 1580.2 419.2 1578.6 423.5 1577 427.8 1575.4 432.1 1573.8 436.3 1572.2 440.6 1570.6 444.9 1569 449.2 1567.4 453.5 1565.8 457.8 1564.2 462.1 1562.6 466.4 1561 470.7 1559.4 474.9 1557.8 479.2 1556.2 483.5 1554.6 487.8 1553 492.1 1551.4 496.4 1549.8 500.7 1548.2 504.9 1546.6 509.2 1545 513.5 1543.4 517.8 1541.8 522.1 1540.2 526.4 1538.6 530.7 1537 534.9 1535.4 539.2 1533.8 543.5 1532.2 547.8 1530.5 552.1 1528.9 556.4 1527.3 560.6 1525.7 564.9 1524.1 569.2 1522.5 573.5 1520.9 577.8 1519.3 582.1 1517.7 586.3 1516.1 590.6 1514.5 594.9 1512.9 599.2 1511.3 603.5 1509.7 607.7 1508.1 612 1506.5 616.3 1504.9 620.6 1503.3 624.9 1501.7 629.1 1500" fill="none" stroke="#96d67d" stroke-width="1.2"/><path d="M60.9 1468.8 64.9 1467 68.8 1465.1 72.8 1463.3 76.7 1461.4 80.7 1459.6 84.6 1457.8 88.5 1455.9 92.5 1454.1 96.4 1452.2 100.4 1450.4 104.3 1448.5 108.3 1446.7 112.2 1444.9 116.2 1443 120.1 1441.2 124.1 1439.3 128 1437.5 132 1435.7 135.9 1433.8 139.9 1432 143.8 1430.1 147.8 1428.3 151.7 1426.5 155.7 1424.6 159.6 1422.8 163.6 1420.9 167.5 1419.1 171.5 1417.3 175.4 1415.4 179.4 1413.6 183.3 1411.7 187.3 1409.9 191.2 1408.1 195.2 1406.2 199.1 1404.4 203.1 1402.5 207 1400.7 211 1398.9 215 1397 218.9 1395.2 222.9 1393.4 226.8 1391.5 230.8 1389.7 234.7 1387.9 238.7 1386 242.6 1384.2 246.6 1382.3 250.5 1380.5 254.5 1378.7 258.5 1376.8 262.4 1375 266.4 1373.2 270.3 1371.3 274.3 1369.5 278.2 1367.7 282.2 1365.8 286.2 1364 290.1 1362.2 294.1 1360.3 298 1358.5 302 1356.7 306 1354.8 309.9 1353 313.9 1351.2 317.8 1349.3 321.8 1347.5 325.8 1345.7 329.7 1343.8 333.7 1342 337.6 1340.2 341.6 1338.3 345.6 1336.5 349.5 1334.7 353.5 1332.8 357.4 1331 361.4 1329.2 365.4 1327.3 369.3 1325.5 373.3 1323.7 377.3 1321.9" fill="none" stroke="#96d67d" stroke-width="1.2"/><path d="M293.3 1633.2 297.6 1631.6 301.9 1630 306.2 1628.4 310.5 1626.8 314.8 1625.2 319 1623.6 323.3 1622 327.6 1620.4 331.9 1618.8 336.2 1617.2 340.5 1615.6 344.8 1614 349 1612.4 353.3 1610.8 357.6 1609.2 361.9 1607.6 366.2 1606 370.5 1604.4 374.7 1602.8 379 1601.2 383.3 1599.6 387.6 1598 391.9 1596.3 396.2 1594.7 400.4 1593.1 404.7 1591.5 409 1589.9 413.3 1588.3 417.6 1586.7 421.8 1585.1 426.1 1583.5 430.4 1581.9 434.7 1580.3 439 1578.7 443.2 1577.1 447.5 1575.5 451.8 1573.9 456.1 1572.3 460.4 1570.7 464.6 1569" fill="none" stroke="#fac864" stroke-width="1.2"/><path d="M53.7 1463.7 57.6 1461.9 61.6 1460 65.5 1458.2 69.5 1456.3 73.5 1454.5 77.4 1452.7 81.4 1450.8 85.3 1449 89.3 1447.2 93.2 1445.3 97.2 1443.5 101.2 1441.7 105.1 1439.8 109.1 1438 113 1436.2 117 1434.3 120.9 1432.5 124.9 1430.7 128.9 1428.8 132.8 1427 136.8 1425.2 140.7 1423.3 144.7 1421.5 148.7 1419.7 152.6 1417.8 156.6 1416 160.5 1414.2 164.5 1412.3 168.5 1410.5 172.4 1408.7 176.4 1406.8 180.4 1405 184.3 1403.2 188.3 1401.3 192.2 1399.5 196.2 1397.7 200.2 1395.8 204.1 1394 208.1 1392.2 212.1 1390.4" fill="none" stroke="#fac864" stroke-width="1.2"/><path d="M299.5 1637.6 303.8 1636" fill="none" stroke="#f9f946" stroke-width="1.2"/><path d="M47.5 1459.3 51.5 1457.5" fill="none" stroke="#f9f946" stroke-width="1.2"/>
<g transform="scale(.5)" fill-rule="evenodd"><mask id="s10top" maskUnits="userSpaceOnUse" x="0" y="0" width="2846" height="3578"><path fill="#fff" d="M449 3124l161-51 168-55 177-60 188-63-6 1-5 1-5 0-6-1-11-4-13-7-9-5-11-9-48-38-24-18-23-16-43-26-16-10-9-7-9-8-8-8-7-8-7-10-7-10-7-12-6-12-8-17-8-20-8-23-7-23-8-25-7-28-7-32-7-35-13-75-12-82-12-96-12-112-83 5-82 4-83 3-82 2-83 2-82 1-83 0-82-1 14 147 13 127 13 109 14 100 7 45 8 46 8 41 8 37 8 34 8 30 9 30 9 27 9 24 11 23 10 20 11 19 12 18 12 15 14 16 15 15 20 17 24 17 22 14 20 11 16 6 7 2 7 1 7 1 6-1 6-1z"/></mask><g mask="url(#s10top)"><path fill="#3e28ac" d="M443 3128l163-53 172-56 181-60 190-65-1-2-12 2-12-1-11-4-12-6-20-14-47-38-24-18-24-16-44-26-16-11-17-15-16-17-13-19-13-23-9-19-8-20-15-46-14-56-14-65-13-77-13-85-12-100-12-110-167 9-167 5-167 2-167-1 12 143 13 129 14 117 15 103 15 90 15 78 17 67 17 56 9 24 10 23 11 21 10 18 12 19 12 16 13 15 15 15 20 17 23 18 23 15 20 11 17 7 15 4 13 1z"/><path fill="#402ab4" d="M1145 2893l-10 1-9 0-151 49-135 43-120 36-101 29-76 21-66 16-56 12-53 8 0 1 22 12 20 7 9 1 8 1 7-1 8-1 161-52 173-57 182-60 191-65-1-2zM320 3070l15-14 15-12 36-27 48-31 73-45 81-46 82-45 113-61 112-59-12-15-11-19-10-20-10-23-8-25-9-29-9-32-8-35-17-82-15-99-15-113-14-130-167 9-167 5-167 2-167-1 10 116 10 108 11 99 11 90 12 82 12 72 12 66 13 58 14 51 14 42 15 38 16 34 19 31 10 14 11 13 18 18 20 18z"/><path fill="#412dbc" d="M1145 2893l-7 1-243 81-170 54-159 49-80 23-84 23 0 1 12 4 10 1 9 0 10-2 163-53 172-56 181-60 190-65-1-2zM289 3037l49-30 64-38 131-72 159-85 191-98-10-17-10-19-9-21-9-24-9-28-7-27-16-69-15-80-14-92-14-107-13-122-167 9-167 5-167 2-167-1 19 209 10 93 10 84 11 79 10 69 11 63 12 57 12 52 13 45 14 41 14 36 18 35 11 17 10 15 19 23z"/><path fill="#4230c3" d="M270 3019l113-64 145-78 168-87 178-91-9-17-9-19-8-22-8-25-16-56-14-67-14-78-14-90-13-102-12-115-167 9-167 5-167 2-167-1 17 194 19 168 10 75 9 67 11 63 11 57 11 51 11 46 13 42 12 36 16 37 16 30 10 16 11 16zM1083 2914l-181 61-161 53-173 55-150 45 1 1 11 1 12-2 167-54 231-76 247-83-1-2z"/><path fill="#4332ca" d="M721 3035l-155 50-136 43 0 2 9-1 11-4 274-88-1-3zM261 3001l120-65 141-74 162-84 183-91-8-18-8-20-16-48-14-56-14-65-13-77-13-85-12-100-12-110-167 9-167 5-167 2-167-1 17 188 18 165 9 72 10 70 10 60 10 57 11 51 12 49 12 42 13 38 16 39 18 35 10 15z"/><path fill="#4435d1" d="M474 3115l-35 11 1 3 39-13-1-2zM252 2986l121-64 151-78 157-80 180-90-15-39-14-47-14-54-13-66-13-74-12-86-12-95-11-105-167 9-167 5-167 2-167-1 16 185 18 159 18 139 10 60 9 54 11 51 11 49 11 42 13 39 16 43 18 36 5 10z"/><path fill="#4538d8" d="M245 2973l126-66 147-75 165-83 173-86-14-41-14-47-13-55-12-63-12-73-12-83-11-93-11-100-167 9-167 5-167 2-167-1 16 179 17 156 17 136 10 60 9 54 10 51 11 49 11 42 12 39 16 44 17 38 3 5z"/><path fill="#463bdd" d="M237 2961l136-70 142-73 160-80 177-87-14-41-13-48-13-55-11-62-12-70-11-81-10-88-11-98-167 9-167 5-167 2-167-1 15 173 16 150 17 133 18 111 9 51 11 48 10 43 11 39 14 42 15 38 6 13z"/><path fill="#473fe2" d="M230 2949l133-68 153-77 332-164-13-41-13-48-12-53-11-62-11-71-11-76-10-85-10-96-167 9-167 5-167 2-167-1 15 167 15 147 17 129 17 112 9 51 10 48 10 43 10 39 14 42 14 38 6 13z"/><path fill="#4743e7" d="M227 2937l278-141 339-166-12-42-12-48-12-54-11-59-10-69-10-74-10-83-10-93-167 9-167 5-167 2-167-1 14 164 16 147 16 126 17 112 9 51 10 48 10 46 11 39 14 45 14 39z"/><path fill="#4746ea" d="M223 2925l286-144 332-162-12-41-11-46-12-55-10-60-10-66-10-74-10-81-9-88-167 9-167 5-167 2-167-1 14 164 16 144 15 126 17 109 9 51 9 48 11 46 10 39 13 42 13 36z"/><path fill="#484aee" d="M219 2914l283-142 335-163-11-42-11-47-10-52-10-58-10-66-10-72-18-164-167 9-167 5-167 2-167-1 14 161 15 141 15 123 16 109 10 54 9 48 10 46 10 39 12 39 11 34z"/><path fill="#484ef1" d="M212 2904l285-142 337-164-10-40-11-47-10-52-10-58-9-64-9-70-18-159-167 9-167 5-167 2-167-1 13 152 14 138 15 120 15 106 17 96 10 45 9 40 12 45 13 41z"/><path fill="#4852f4" d="M211 2892l294-145 326-159-10-41-10-45-10-52-9-56-9-62-9-70-17-154-167 9-167 5-167 2-167-1 13 152 14 138 15 123 16 106 9 54 9 48 10 45 9 40 10 36 10 31z"/><path fill="#4755f6" d="M205 2883l296-146 328-159-10-40-9-45-10-50-9-56-17-127-17-152-167 9-167 5-167 2-167-1 13 146 13 129 14 117 14 103 16 96 17 81 12 49 12 41z"/><path fill="#4759f8" d="M204 2871l294-145 328-158-9-41-10-45-9-51-8-54-17-125-16-144-167 9-167 5-167 2-167-1 13 149 13 132 14 117 15 106 18 102 9 45 9 40 17 61z"/><path fill="#475dfa" d="M199 2862l297-146 328-158-9-40-9-45-17-103-16-120-16-142-167 9-167 5-167 2-167-1 12 143 13 126 14 114 14 103 16 96 17 84 9 40 10 35z"/><path fill="#4660fc" d="M198 2850l297-145 326-156-8-40-9-45-16-101-16-118-15-137-167 9-167 5-167 2-167-1 12 143 13 129 14 114 14 103 17 102 9 45 9 42 14 53z"/><path fill="#4464fd" d="M196 2840l298-145 325-156-9-41-8-44-15-98-16-116-14-132-167 9-167 5-167 2-167-1 12 143 13 126 14 114 13 100 17 102 9 45 9 42 12 49z"/><path fill="#4368fe" d="M190 2832l293-143 334-160-16-82-15-96-15-113-14-130-167 9-167 5-167 2-167-1 12 134 12 120 12 108 13 97 15 96 15 81 17 75z"/><path fill="#406cfe" d="M190 2820l293-142 332-158-16-82-14-94-14-111-14-125-167 9-167 5-167 2-167-1 12 137 12 123 13 111 13 100 17 105 18 87 9 38z"/><path fill="#3e70ff" d="M188 2810l296-143 329-157-15-81-14-92-14-107-13-122-167 9-167 5-167 2-167-1 12 134 12 123 12 108 14 100 16 105 18 87 7 34z"/><path fill="#3a74fe" d="M184 2801l301-145 326-156-14-78-14-92-13-104-13-118-167 9-167 5-167 2-167-1 11 131 12 117 12 105 12 96 16 103 17 87 9 42z"/><path fill="#3678fd" d="M180 2792l296-142 333-159-14-78-13-88-13-102-12-115-167 9-167 5-167 2-167-1 10 122 12 114 11 102 12 93 14 94 15 84 13 62z"/><path fill="#327cfc" d="M181 2781l296-143 330-156-13-76-13-88-12-100-12-110-167 9-167 5-167 2-167-1 11 131 12 117 12 105 12 96 18 115 10 51 10 47z"/><path fill="#3080fa" d="M179 2771l300-144 326-155-12-73-12-86-12-97-12-108-167 9-167 5-167 2-167-1 11 128 11 114 12 105 13 96 17 112 9 51 9 46z"/><path fill="#2e84f9" d="M177 2762l294-141 333-158-13-74-11-83-12-93-11-105-167 9-167 5-167 2-167-1 11 125 11 114 12 105 12 93 17 112 17 94z"/><path fill="#2e87f7" d="M173 2753l300-144 329-156-12-71-11-81-11-93-11-100-167 9-167 5-167 2-167-1 10 119 11 111 11 99 11 90 17 115 9 51 9 48z"/><path fill="#2d8bf4" d="M170 2744l306-146 324-154-11-71-11-79-10-88-11-98-167 9-167 5-167 2-167-1 10 116 10 105 11 96 10 87 14 97 14 84 7 38z"/><path fill="#2c8ef1" d="M168 2735l301-144 330-156-11-70-11-76-10-85-10-96-167 9-167 5-167 2-167-1 10 113 9 102 11 96 10 87 14 97 14 84 7 35z"/><path fill="#2b92ef" d="M169 2724l302-144 326-154-10-68-10-76-10-83-10-91-167 9-167 5-167 2-167-1 10 119 11 111 11 99 11 90 15 100 15 86z"/><path fill="#2895ec" d="M168 2714l297-141 331-157-10-65-10-74-10-81-9-88-167 9-167 5-167 2-167-1 10 119 11 108 11 99 11 90 14 97 14 82z"/><path fill="#2798ea" d="M166 2705l302-144 326-154-9-65-10-70-18-164-167 9-167 5-167 2-167-1 10 116 10 108 11 99 11 90 13 91 14 82z"/><path fill="#259be8" d="M164 2696l298-142 331-156-9-64-10-69-17-157-167 9-167 5-167 2-167-1 10 116 10 105 11 96 11 90 12 91 14 78z"/><path fill="#249ee6" d="M162 2687l303-144 326-154-17-129-17-152-167 9-167 5-167 2-167-1 10 113 9 102 11 93 10 87 13 91 13 81z"/><path fill="#22a1e4" d="M159 2678l301-143 330-155-17-125-16-147-167 9-167 5-167 2-167-1 19 206 9 93 11 84 12 94 13 81z"/><path fill="#20a4e3" d="M157 2669l306-145 326-153-16-121-16-142-167 9-167 5-167 2-167-1 18 200 9 90 10 81 13 94 13 84z"/><path fill="#1ea7e1" d="M155 2660l303-144 329-154-15-117-15-137-167 9-167 5-167 2-167-1 17 194 19 165 12 97 13 83z"/><path fill="#1baade" d="M153 2651l308-146 325-152-15-115-14-130-167 9-167 5-167 2-167-1 17 191 18 165 12 90 13 84z"/><path fill="#19addc" d="M152 2642l304-144 329-154-14-111-14-125-167 9-167 5-167 2-167-1 17 188 18 165 11 87 12 81z"/><path fill="#14b0d8" d="M150 2633l302-143 332-156-14-106-13-120-167 9-167 5-167 2-167-1 16 185 18 162 11 87 12 78z"/><path fill="#0fb2d5" d="M149 2623l306-144 327-154-13-102-12-115-167 9-167 5-167 2-167-1 16 185 18 159 10 84 11 75z"/><path fill="#09b4d1" d="M147 2614l304-143 330-155-12-98-12-110-167 9-167 5-167 2-167-1 16 182 17 159 10 78 11 74z"/><path fill="#04b6cd" d="M146 2605l309-145 325-153-12-94-11-105-167 9-167 5-167 2-167-1 16 182 17 156 9 75 10 71z"/><path fill="#01b8c9" d="M145 2596l306-144 328-153-11-91-11-100-167 9-167 5-167 2-167-1 16 179 17 156 18 140z"/><path fill="#02bac4" d="M143 2587l304-143 331-154-11-86-10-96-167 9-167 5-167 2-167-1 16 176 16 153 18 137z"/><path fill="#07bcc0" d="M142 2578l309-145 325-152-9-82-10-91-167 9-167 5-167 2-167-1 15 173 17 153 16 131z"/><path fill="#0dbdbb" d="M144 2567l303-142 328-153-18-164-167 9-167 5-167 2-167-1 18 197 9 90 10 81 10 80z"/><path fill="#16bfb7" d="M143 2558l631-295-17-155-167 9-167 5-167 2-167-1 18 197 9 90 10 81 9 71z"/><path fill="#1ec0b2" d="M141 2549l632-295-16-146-167 9-167 5-167 2-167-1 10 122 12 114 11 102 12 92z"/><path fill="#25c2ad" d="M137 2542l635-297-15-137-167 9-167 5-167 2-167-1 15 170 16 147 12 104z"/><path fill="#2ac3a9" d="M136 2533l635-297-14-128-167 9-167 5-167 2-167-1 15 167 15 147 12 98z"/><path fill="#2ec5a4" d="M135 2524l635-297-13-119-167 9-167 5-167 2-167-1 14 164 16 147 11 92z"/><path fill="#32c69e" d="M134 2515l635-297-12-110-167 9-167 5-167 2-167-1 14 164 16 144 10 86z"/><path fill="#36c799" d="M132 2506l636-297-11-101-167 9-167 5-167 2-167-1 14 161 15 144 10 80z"/><path fill="#3ac993" d="M131 2497l636-296-10-93-167 9-167 5-167 2-167-1 14 161 15 144 9 71z"/><path fill="#40ca8d" d="M130 2488l636-296-9-84-167 9-167 5-167 2-167-1 14 161 15 141 8 65z"/><path fill="#47cb87" d="M129 2479l636-296-8-75-167 9-167 5-167 2-167-1 17 191 18 167z"/><path fill="#4fcc80" d="M128 2470l636-296-7-66-167 9-167 5-167 2-167-1 17 188 17 161z"/><path fill="#57cc7a" d="M127 2461l636-296-6-57-167 9-167 5-167 2-167-1 16 182 17 159z"/><path fill="#60cd72" d="M126 2452l636-296-5-48-167 9-167 5-167 2-167-1 16 176 16 156z"/><path fill="#69cd6b" d="M125 2444l636-296-4-40-167 9-167 5-167 2-167-1 15 173 16 150z"/><path fill="#72cd64" d="M124 2435l636-296-3-31-167 9-167 5-167 2-167-1 15 167 15 147z"/><path fill="#7ccc5c" d="M123 2426l636-296-2-22-167 9-167 5-167 2-167-1 14 161 15 144z"/><path fill="#85cb55" d="M122 2417l636-296-1-13-167 9-167 5-167 2-167-1 14 158 14 138z"/><path fill="#8fcb4e" d="M122 2408l636-295-1-5-167 9-167 5-167 2-167-1 13 152 14 135z"/><path fill="#98c947" d="M121 2399l621-288 0-2-164 8-163 5-163 2-163-1 13 146 13 133z"/><path fill="#a2c840" d="M121 2390l598-278 0-2-157 8-159 5-157 1-157-1 12 143 13 127z"/><path fill="#abc739" d="M120 2381l577-268-1-1-152 7-152 4-151 1-152-1 12 137 12 124z"/><path fill="#b3c534" d="M120 2372l554-258 0-1-147 6-146 4-146 1-146-1 11 131 12 121z"/><path fill="#bcc42f" d="M119 2363l533-248 0-1-141 6-141 3-140 1-141-1 11 128 11 115z"/><path fill="#c4c22a" d="M118 2354l512-237 0-2-136 5-135 3-135 1-135-1 10 122 11 112z"/><path fill="#ccc028" d="M114 2346l494-228 0-2-130 5-130 2-129 1-130-1 10 119 11 107z"/><path fill="#d4bf28" d="M113 2338l473-220 0-1-124 4-125 3-124 0-124-1 10 113 10 104z"/><path fill="#dbbd29" d="M112 2329l453-210 0-1-120 4-119 2-118 0-119-1 19 208z"/><path fill="#e2bc2b" d="M112 2320l431-200 0-1-113 3-114 2-114 0-113-1 18 199z"/><path fill="#e8bb2f" d="M111 2311l411-190 0-2-109 3-108 2-108 0-108-1 17 191z"/><path fill="#eeba34" d="M110 2303l391-181 0-2-103 3-104 1-103 0-102-1 16 182z"/><path fill="#f4ba39" d="M110 2294l370-172 0-1-98 2-97 1-98 0-98-1 15 173z"/><path fill="#f9bb3d" d="M109 2285l350-162 0-2-93 2-92 1-93 0-92-1 14 164z"/><path fill="#fdbd3d" d="M109 2276l329-153 0-1-174 2-175-1 14 156z"/><path fill="#fec03a" d="M109 2267l309-143-1-2-164 2-164-1 13 147z"/><path fill="#fec437" d="M109 2258l288-134 0-1-154 1-154-1 12 138z"/><path fill="#fec835" d="M105 2250l272-126-1-1-143 1-144-1 11 129z"/><path fill="#fdcc32" d="M104 2242l253-117-1-2-134 1-133-1 10 121z"/><path fill="#fcd030" d="M103 2233l233-108 0-1-124 0-123-1 10 112z"/><path fill="#fad42e" d="M102 2224l214-99 0-1-114 0-113-1 9 103z"/><path fill="#f8d92c" d="M102 2215l194-90 0-1-104 0-103-1 8 95z"/><path fill="#f7dd2a" d="M101 2207l176-82-1-1-94 0-93-1 7 86z"/><path fill="#f6e128" d="M101 2198l156-72 0-2-168-1 6 77z"/><path fill="#f5e526" d="M101 2189l136-63 0-2-148-1 6 69z"/><path fill="#f5e924" d="M101 2180l117-55 0-1-129-1 5 60z"/><path fill="#f5ed21" d="M101 2171l98-46-1-1-109-1 4 51z"/><path fill="#f6f11e" d="M97 2163l82-38 0-1-90-1 3 42z"/><path fill="#f7f51b" d="M96 2155l64-30 0-1-71-1 3 34z"/><path fill="#f8f917" d="M96 2146l45-21 0-1-52-1 2 25z"/></g><mask id="s10bot" maskUnits="userSpaceOnUse" x="0" y="0" width="2846" height="3578"><path fill="#fff" d="M1143 2895l-188 64-178 59-169 55-162 52 7-3 6-3 6-4 7-6 6-7 5-7 6-9 5-9 10-21 10-27 10-33 9-34 9-41 9-47 9-53 8-54 8-61 8-67 9-74 7-71 81 0 83 0 84-1 81-1 82-3 83-3 82-4 83-5-12 94-6 42-7 43-6 34-7 35-7 31-7 27-7 23-8 23-7 17-8 15-8 13-8 9-4 4-5 3-4 3z"/></mask><g mask="url(#s10bot)"><path fill="#3e28ac" d="M596 2482l-15 152-17 130-8 57-9 51-9 47-9 41-10 37-9 31-10 27-10 22-11 18-11 13-7 7-7 5-6 3-8 3 1 2 164-52 171-57 182-60 189-65 8-3 8-6 7-8 7-9 12-22 12-31 12-37 11-46 10-53 11-62 10-71 10-79-168 9-167 5-167 2z"/><path fill="#402ab4" d="M604 2482l-8 0-16 158-17 134-9 57-9 53-9 46-10 43-9 32-9 29-10 25-10 21-10 16-11 13-6 6-7 5-6 3-8 3 1 2 164-52 170-56 181-61 190-64 9-4 7-6 7-7 7-9 12-22 13-30 11-38 11-46 11-54 11-62 10-71 10-79-165 9-165 5-165 2z"/><path fill="#412dbc" d="M604 2482l-8 0-16 158-17 134-9 57-9 53-9 46-10 43-9 32-9 29-10 25-10 21-10 16-11 13-6 6-7 5-6 3-8 3 1 2 164-52 170-56 181-61 190-64 9-4 7-6 7-7 7-9 12-22 13-30 11-38 11-46 11-54 11-62 10-71 10-79-165 9-165 5-165 2z"/><path fill="#4230c3" d="M604 2482l-8 0-16 158-17 134-9 57-9 53-9 46-10 43-9 32-9 29-10 25-10 21-10 16-11 13-6 6-7 5-6 3-8 3 1 2 164-52 171-57 183-60 188-65 8-3 7-6 7-7 7-9 12-22 13-30 11-38 11-46 11-54 11-62 10-71 10-79-165 9-165 5-165 2z"/><path fill="#4332ca" d="M604 2482l-8 0-16 158-17 134-9 57-9 53-9 46-10 43-9 32-9 29-10 25-10 21-10 16-11 13-6 6-7 5-6 3-8 3 1 2 173-55 176-58 174-59 190-65 11-9 11-13 12-22 13-30 11-38 11-46 11-54 11-62 10-71 10-79-165 9-165 5-165 2z"/><path fill="#4435d1" d="M604 2482l-8 0-16 158-17 134-9 57-9 53-9 46-10 43-9 32-9 29-10 25-10 21-10 16-11 13-6 6-7 5-6 3-8 3 1 2 155-50 167-55 190-65 207-71 8-8 8-10 12-22 13-30 11-38 11-46 11-54 11-62 10-71 10-79-165 9-165 5-165 2z"/><path fill="#4538d8" d="M604 2482l-8 0-15 152-17 133-9 57-9 53-9 46-9 41-9 33-8 29-10 26-10 21-9 17-10 14-12 12-6 4-8 4 1 2 160-53 171-57 188-64 199-70 11-13 12-22 13-30 11-38 11-46 11-54 11-62 10-71 10-79-165 9-165 5-165 2z"/><path fill="#463bdd" d="M604 2482l-8 0-15 150-16 127-8 57-9 51-9 47-9 41-8 33-9 30-8 24-9 23-9 17-10 15-11 14-13 10 1 1 287-96 339-117 90-32 6-8 12-22 13-30 11-38 11-46 11-54 11-62 10-71 10-79-165 9-165 5-165 2z"/><path fill="#473fe2" d="M604 2482l-8 0-15 147-15 125-17 106-8 45-9 41-8 34-8 30-8 24-9 23-9 18-9 16-11 15-11 11 1 1 211-71 228-79 275-96 2-3 12-22 13-30 11-38 11-46 11-54 11-62 10-71 10-79-165 9-165 5-165 2z"/><path fill="#4743e7" d="M604 2482l-8 0-14 142-15 123-16 103-8 46-9 41-15 62-8 27-9 24-8 18-9 17-10 15-11 12 1 2 329-113 384-135 12-23 12-31 11-38 11-44 11-53 10-62 10-69 10-79-165 9-165 5-165 2z"/><path fill="#4746ea" d="M604 2482l-8 0-14 140-15 120-15 103-16 85-15 63-8 25-8 24-8 19-8 18-10 16-10 13 0 1 335-115 377-133 12-25 11-30 11-38 11-45 10-52 10-60 9-69 10-75-165 9-165 5-165 2z"/><path fill="#484aee" d="M604 2482l-8 0-14 137-14 118-15 101-16 85-14 61-7 26-8 24-8 19-8 19-9 16-10 15 1 1 332-115 378-134 12-26 11-31 10-37 10-46 10-52 10-58 9-65 9-73-165 9-165 5-165 2z"/><path fill="#484ef1" d="M604 2482l-8 0-13 134-14 116-15 99-15 86-14 61-14 48-8 20-7 19-9 17-10 15 1 1 329-114 380-135 11-25 10-32 11-38 9-44 10-50 9-57 9-65 9-71-165 9-165 5-165 2z"/><path fill="#4852f4" d="M604 2482l-8 0-13 129-14 115-14 100-15 84-14 61-13 49-15 39-8 18-9 15 0 1 339-119 370-131 11-26 10-33 10-38 9-43 9-49 9-57 8-61 9-69-165 9-165 5-165 2z"/><path fill="#4755f6" d="M604 2482l-8 0-13 129-13 113-14 97-15 84-13 59-14 50-13 38-8 18-9 16 1 1 337-118 371-133 10-27 10-31 9-38 9-43 9-49 8-53 17-128-165 9-165 5-165 2z"/><path fill="#4759f8" d="M604 2482l-8 0-13 127-13 110-13 97-15 82-12 57-13 50-13 39-8 19-8 18 337-118 371-133 9-27 9-32 9-38 9-41 8-48 9-53 16-124-165 9-165 5-165 2z"/><path fill="#475dfa" d="M604 2482l-8 0-12 124-13 110-14 95-14 82-12 58-12 48-13 39-7 19-8 18 338-119 369-132 9-27 9-33 9-36 8-42 8-48 8-51 16-120-165 9-165 5-165 2z"/><path fill="#4660fc" d="M604 2482l-8 0-12 121-13 108-13 95-13 80-12 58-12 49-13 39-7 20-7 17 338-119 368-133 9-28 9-31 8-37 8-41 16-97 15-116-165 9-165 5-165 2z"/><path fill="#4464fd" d="M604 2482l-8 0-12 119-12 108-13 92-14 80-11 56-12 49-11 40-14 37 338-120 368-132 8-29 8-31 8-36 8-40 15-94 15-114-165 9-165 5-165 2z"/><path fill="#4368fe" d="M604 2482l-8 0-11 116-13 106-12 92-14 81-11 56-11 47-11 38-13 39 340-121 365-132 8-28 8-32 15-75 15-92 14-110-165 9-165 5-165 2z"/><path fill="#406cfe" d="M604 2482l-8 0-11 116-12 103-13 91-13 80-10 54-11 47-11 39-13 38 332-118 373-135 8-28 7-30 15-76 14-90 14-106-165 9-165 5-165 2z"/><path fill="#3e70ff" d="M604 2482l-8 0-11 114-12 103-12 90-13 78-10 52-11 48-10 38-12 39 332-119 372-134 7-28 8-31 14-74 14-87 13-104-165 9-165 5-165 2z"/><path fill="#3a74fe" d="M604 2482l-8 0-11 114-12 100-12 88-12 78-10 52-10 46-10 39-12 38 336-120 368-133 14-58 14-72 13-85 13-102-165 9-165 5-165 2z"/><path fill="#3678fd" d="M604 2482l-8 0-11 111-11 98-12 88-12 78-9 50-10 46-10 40-12 38 340-122 364-132 13-58 14-71 12-83 13-98-165 9-165 5-165 2z"/><path fill="#327cfc" d="M604 2482l-8 0-11 108-11 98-12 89-11 76-10 50-9 46-10 37-11 38 333-119 371-135 13-58 13-70 12-82 12-93-165 9-165 5-165 2z"/><path fill="#3080fa" d="M604 2482l-8 0-11 108-11 96-11 86-12 76-9 50-9 44-9 38-10 38 335-121 367-134 13-57 12-68 12-80 12-91-165 9-165 5-165 2z"/><path fill="#2e84f9" d="M604 2482l-8 0-10 106-11 95-11 86-12 74-8 48-9 44-9 38-10 38 338-122 364-133 12-57 12-66 12-79 11-87-165 9-165 5-165 2z"/><path fill="#2e87f7" d="M604 2482l-8 0-10 103-11 96-11 86-11 74-9 47-8 42-9 37-9 37 332-120 370-135 12-55 11-65 11-77 11-85-165 9-165 5-165 2z"/><path fill="#2d8bf4" d="M604 2482l-8 0-17 168-9 74-10 68-9 58-10 55-10 48-11 45 337-122 364-134 12-54 11-65 10-73 11-83-165 9-165 5-165 2z"/><path fill="#2c8ef1" d="M604 2482l-8 0-17 165-9 74-9 66-9 58-10 55-10 46-11 45 342-124 360-132 11-55 10-61 11-71 10-81-165 9-165 5-165 2z"/><path fill="#2b92ef" d="M604 2482l-8 0-17 163-8 71-9 66-9 59-10 52-9 47-11 44 335-121 366-135 11-53 10-60 10-69 10-79-165 9-165 5-165 2z"/><path fill="#2895ec" d="M604 2482l-8 0-16 160-18 135-8 56-9 53-10 47-10 44 340-123 361-133 10-52 10-60 9-67 10-75-165 9-165 5-165 2z"/><path fill="#2798ea" d="M604 2482l-8 0-16 158-17 132-8 56-10 53-8 45-10 44 334-121 366-135 10-51 10-58 9-65 9-73-165 9-165 5-165 2z"/><path fill="#259be8" d="M604 2482l-8 0-15 152-17 130-8 57-9 51-9 47-10 44 340-124 361-132 9-49 9-57 9-63 9-71-165 9-165 5-165 2z"/><path fill="#249ee6" d="M604 2482l-8 0-15 150-16 127-8 57-9 51-8 45-10 44 334-122 366-134 9-50 9-55 17-128-165 9-165 5-165 2z"/><path fill="#22a1e4" d="M604 2482l-8 0-15 147-15 125-17 106-8 45-9 44 339-124 361-132 8-49 9-53 16-124-165 9-165 5-165 2z"/><path fill="#20a4e3" d="M604 2482l-8 0-14 142-16 125-16 106-8 43-9 44 335-122 365-135 8-47 8-51 16-120-165 9-165 5-165 2z"/><path fill="#1ea7e1" d="M604 2482l-8 0-14 140-15 122-16 104-16 87 341-124 358-133 16-95 15-116-165 9-165 5-165 2z"/><path fill="#1baade" d="M604 2482l-8 0-14 137-14 120-15 102-17 87 337-123 363-134 14-92 15-112-165 9-165 5-165 2z"/><path fill="#19addc" d="M604 2482l-8 0-13 134-15 118-15 102-15 85 340-125 359-132 14-91 14-106-165 9-165 5-165 2z"/><path fill="#14b0d8" d="M604 2482l-8 0-13 132-14 115-14 99-16 86 337-124 362-133 14-88 13-102-165 9-165 5-165 2z"/><path fill="#0fb2d5" d="M604 2482l-8 0-13 129-13 113-14 97-15 86 333-123 365-135 13-84 13-98-165 9-165 5-165 2z"/><path fill="#09b4d1" d="M604 2482l-8 0-13 127-13 110-13 97-15 83 340-124 359-133 12-82 12-93-165 9-165 5-165 2z"/><path fill="#04b6cd" d="M604 2482l-8 0-12 124-13 108-13 95-15 83 337-123 362-134 11-79 12-89-165 9-165 5-165 2z"/><path fill="#01b8c9" d="M604 2482l-8 0-12 121-13 108-13 93-13 81 340-125 358-133 11-75 11-85-165 9-165 5-165 2z"/><path fill="#02bac4" d="M604 2482l-8 0-12 119-12 105-13 93-13 79 338-124 360-134 11-72 10-81-165 9-165 5-165 2z"/><path fill="#07bcc0" d="M604 2482l-8 0-11 116-12 103-13 91-13 79 698-258 10-69 10-77-165 9-165 5-165 2z"/><path fill="#0dbdbb" d="M604 2482l-8 0-11 114-12 100-12 88-12 79 697-258 10-65 9-73-165 9-165 5-165 2z"/><path fill="#16bfb7" d="M604 2482l-8 0-11 111-11 98-12 88-12 77 698-258 8-62 9-69-165 9-165 5-165 2z"/><path fill="#1ec0b2" d="M604 2482l-8 0-11 108-11 96-11 86-12 77 698-258 16-124-165 9-165 5-165 2z"/><path fill="#25c2ad" d="M604 2482l-8 0-10 103-11 96-11 86-12 75 698-259 15-116-165 9-165 5-165 2z"/><path fill="#2ac3a9" d="M604 2482l-8 0-10 103-11 93-10 84-11 72 697-258 14-109-165 9-165 5-165 2z"/><path fill="#2ec5a4" d="M604 2482l-8 0-10 101-10 90-10 81-11 73 697-259 13-101-165 9-165 5-165 2z"/><path fill="#32c69e" d="M604 2482l-8 0-10 98-9 88-11 81-10 71 697-259 12-94-165 9-165 5-165 2z"/><path fill="#36c799" d="M604 2482l-8 0-9 95-10 86-10 79-10 70 697-259 11-86-165 9-165 5-165 2z"/><path fill="#3ac993" d="M604 2482l-8 0-9 93-9 83-10 76-10 71 697-259 10-79-165 9-165 5-165 2z"/><path fill="#40ca8d" d="M604 2482l-8 0-18 173-9 74-10 69 697-259 9-72-165 9-165 5-165 2z"/><path fill="#47cb87" d="M604 2482l-8 0-17 168-9 74-10 66 697-259 8-64-165 9-165 5-165 2z"/><path fill="#4fcc80" d="M604 2482l-8 0-17 163-8 71-9 67 696-259 7-57-165 9-165 5-165 2z"/><path fill="#57cc7a" d="M604 2482l-8 0-16 158-17 135 696-259 6-49-165 9-165 5-165 2z"/><path fill="#60cd72" d="M604 2482l-8 0-16 155-16 131 696-259 5-42-165 9-165 5-165 2z"/><path fill="#69cd6b" d="M604 2482l-8 0-15 150-16 129 696-260 4-34-165 9-165 5-165 2z"/><path fill="#72cd64" d="M604 2482l-8 0-15 145-15 126 695-259 4-27-165 9-165 5-165 2z"/><path fill="#7ccc5c" d="M604 2482l-8 0-14 142-15 122 695-260 3-19-165 9-165 5-165 2z"/><path fill="#85cb55" d="M604 2482l-8 0-14 137-14 119 695-259 2-12-165 9-165 5-165 2z"/><path fill="#8fcb4e" d="M604 2482l-8 0-13 132-14 117 695-260 1-4-165 9-165 5-165 2z"/><path fill="#98c947" d="M604 2482l-8 0-13 129-13 112 679-253 0-2-173 8-171 5-151 2z"/><path fill="#a2c840" d="M604 2482l-8 0-12 124-13 110 656-245-1-2-166 8-167 5-144 1z"/><path fill="#abc739" d="M604 2482l-8 0-12 119-12 107 632-236 0-1-162 7-161 4-139 1z"/><path fill="#b3c534" d="M604 2482l-8 0-11 116-12 103 609-228-1-1-156 6-156 4-133 1z"/><path fill="#bcc42f" d="M604 2482l-8 0-11 111-11 101 585-220 0-1-151 6-151 3-127 1z"/><path fill="#c4c22a" d="M604 2482l-8 0-11 108-11 96 563-211 0-1-146 5-146 3-121 1z"/><path fill="#ccc028" d="M604 2482l-8 0-10 103-11 94 540-203 0-1-141 5-142 3-114 0z"/><path fill="#d4bf28" d="M604 2482l-8 0-10 98-10 91 518-194-1-1-136 4-137 3-108 0z"/><path fill="#dbbd29" d="M604 2482l-8 0-9 95-10 86 495-185 0-1-132 4-132 2-102 0z"/><path fill="#e2bc2b" d="M604 2482l-8 0-9 90-9 84 473-177-1-2-126 4-128 2-96 0z"/><path fill="#e8bb2f" d="M604 2482l-8 0-17 166 450-168 0-2-123 3-122 2z"/><path fill="#eeba34" d="M604 2482l-8 0-16 159 428-161 0-1-118 3-118 1z"/><path fill="#f4ba39" d="M604 2482l-8 0-15 151 406-152 0-1-96 2-96 1-95 0z"/><path fill="#f9bb3d" d="M604 2482l-8 0-14 144 384-144 0-2-181 3z"/><path fill="#fdbd3d" d="M604 2482l-8 0-14 136 364-136-1-1-171 2z"/><path fill="#fec03a" d="M604 2482l-8 0-13 129 342-128 0-2-161 2z"/><path fill="#fec437" d="M604 2482l-8 0-12 121 320-120 0-2-150 2z"/><path fill="#fec835" d="M604 2482l-8 0-11 114 299-113 0-1-141 1z"/><path fill="#fdcc32" d="M604 2482l-8 0-10 106 278-104 0-2-130 1z"/><path fill="#fcd030" d="M604 2482l-8 0-10 98 258-96-1-2-119 1z"/><path fill="#fad42e" d="M604 2482l-8 0-9 91 237-89-1-1-109 0z"/><path fill="#f8d92c" d="M604 2482l-8 0-8 83 216-81-1-1-99 0z"/><path fill="#f7dd2a" d="M604 2482l-8 0-7 76 195-74 0-1z"/><path fill="#f6e128" d="M604 2482l-8 0-6 68 174-66 0-1z"/><path fill="#f5e526" d="M604 2482l-8 0-6 60 155-58-1-1z"/><path fill="#f5e924" d="M604 2482l-8 0-5 53 134-51 0-1z"/><path fill="#f5ed21" d="M604 2482l-8 0-4 45 114-43 0-1z"/><path fill="#f6f11e" d="M604 2482l-8 0-3 38 94-36-1-1z"/><path fill="#f7f51b" d="M604 2482l-8 0-3 30 75-28-1-1z"/><path fill="#f8f917" d="M604 2482l-8 0-2 22 54-20 0-2z"/></g></g>
<path d="M47.2 1459.1 47.2 1068.1M47.2 1459.1 299.8 1637.8M299.8 1637.8 629.5 1500.3M47.2 1459.1 38.7 1453.1M47.2 1394.5 38.7 1388.5M47.2 1329.9 38.7 1323.9M47.2 1265.2 38.7 1259.3M47.2 1200.6 38.7 1194.6M47.2 1136 38.7 1130M47.2 1071.4 38.7 1065.4M47.2 1459.1 38.1 1462.9M110.3 1503.8 101.3 1507.6M173.5 1548.5 164.4 1552.2M236.7 1593.1 227.6 1596.9M299.8 1637.8 290.7 1641.6M299.8 1637.8 308 1643.6M382.2 1603.4 390.4 1609.2M464.6 1569 472.9 1574.9M547.1 1534.7 555.3 1540.5M629.5 1500.3 637.7 1506.1" stroke="#3c3c3c" stroke-width="1.15" fill="none"/>
<g font-family="Liberation Sans"><text x="33.9" y="1456.5" font-size="12" text-anchor="end" fill="#363636">0</text><text x="33.9" y="1391.9" font-size="12" text-anchor="end" fill="#363636">2</text><text x="33.9" y="1327.3" font-size="12" text-anchor="end" fill="#363636">4</text><text x="33.9" y="1262.6" font-size="12" text-anchor="end" fill="#363636">6</text><text x="33.9" y="1198" font-size="12" text-anchor="end" fill="#363636">8</text><text x="33.9" y="1133.4" font-size="12" text-anchor="end" fill="#363636">10</text><text x="33.9" y="1068.8" font-size="12" text-anchor="end" fill="#363636">12</text><text x="32.6" y="1478.1" font-size="12" text-anchor="end" fill="#363636">10</text><text x="95.8" y="1522.8" font-size="12" text-anchor="end" fill="#363636">5</text><text x="158.9" y="1567.5" font-size="12" text-anchor="end" fill="#363636">0</text><text x="222.1" y="1612.1" font-size="12" text-anchor="end" fill="#363636">−5</text><text x="285.2" y="1656.8" font-size="12" text-anchor="end" fill="#363636">−10</text><text x="319" y="1659.1" font-size="12" text-anchor="middle" fill="#363636">−10</text><text x="398.5" y="1624.7" font-size="12" text-anchor="middle" fill="#363636">−5</text><text x="479.8" y="1590.3" font-size="12" text-anchor="middle" fill="#363636">0</text><text x="562.6" y="1556" font-size="12" text-anchor="middle" fill="#363636">5</text><text x="648.9" y="1521.6" font-size="12" text-anchor="middle" fill="#363636">10</text><text x="14.6" y="1046" font-size="13" fill="#363636">×<tspan x="24.3" font-size="11.5">10</tspan><tspan x="37.6" font-size="10.5" dy="-4.6">5</tspan></text></g>
<defs><clipPath id="c9"><rect x="809.4" y="18.8" width="595.7" height="706.4"/></clipPath></defs>
<path d="M815.4 18.8H1399.1V724.6H815.4ZM815.4 724.6v-6M815.4 18.8v6M873.8 724.6v-6M873.8 18.8v6M932.1 724.6v-6M932.1 18.8v6M990.5 724.6v-6M990.5 18.8v6M1048.9 724.6v-6M1048.9 18.8v6M1107.2 724.6v-6M1107.2 18.8v6M1165.6 724.6v-6M1165.6 18.8v6M1224 724.6v-6M1224 18.8v6M1282.4 724.6v-6M1282.4 18.8v6M1340.7 724.6v-6M1340.7 18.8v6M1399.1 724.6v-6M1399.1 18.8v6M815.4 32.3h6M1399.1 32.3h-6M815.4 127.1h6M1399.1 127.1h-6M815.4 221.8h6M1399.1 221.8h-6M815.4 316.6h6M1399.1 316.6h-6M815.4 411.3h6M1399.1 411.3h-6M815.4 506.1h6M1399.1 506.1h-6M815.4 600.8h6M1399.1 600.8h-6M815.4 695.6h6M1399.1 695.6h-6M815.4 51.3h2.7M1399.1 51.3h-2.7M815.4 70.2h2.7M1399.1 70.2h-2.7M815.4 89.2h2.7M1399.1 89.2h-2.7M815.4 108.1h2.7M1399.1 108.1h-2.7M815.4 146h2.7M1399.1 146h-2.7M815.4 165h2.7M1399.1 165h-2.7M815.4 183.9h2.7M1399.1 183.9h-2.7M815.4 202.9h2.7M1399.1 202.9h-2.7M815.4 240.8h2.7M1399.1 240.8h-2.7M815.4 259.7h2.7M1399.1 259.7h-2.7M815.4 278.7h2.7M1399.1 278.7h-2.7M815.4 297.6h2.7M1399.1 297.6h-2.7M815.4 335.5h2.7M1399.1 335.5h-2.7M815.4 354.5h2.7M1399.1 354.5h-2.7M815.4 373.4h2.7M1399.1 373.4h-2.7M815.4 392.4h2.7M1399.1 392.4h-2.7M815.4 430.3h2.7M1399.1 430.3h-2.7M815.4 449.2h2.7M1399.1 449.2h-2.7M815.4 468.2h2.7M1399.1 468.2h-2.7M815.4 487.1h2.7M1399.1 487.1h-2.7M815.4 525h2.7M1399.1 525h-2.7M815.4 544h2.7M1399.1 544h-2.7M815.4 562.9h2.7M1399.1 562.9h-2.7M815.4 581.9h2.7M1399.1 581.9h-2.7M815.4 619.8h2.7M1399.1 619.8h-2.7M815.4 638.7h2.7M1399.1 638.7h-2.7M815.4 657.7h2.7M1399.1 657.7h-2.7M815.4 676.6h2.7M1399.1 676.6h-2.7M815.4 714.5h2.7M1399.1 714.5h-2.7" fill="none" stroke="#3a3a3a" stroke-width="1.2"/>
<g clip-path="url(#c9)"><path d="M815.4 122.1 825.8 131.6 832.1 159 840.6 201.2 844.8 247.6 849 260.2 852.4 320 856.9 388.7 858.1 434.5 865 526.1 868.4 549 871.8 606.2 876.4 663.5 878.7 721.9" fill="none" stroke="#ff0000" stroke-width="4.6" stroke-linejoin="round"/><path d="M815.4 119.5 930 120.3 1110 121.2 1250 122.3 1399 123.5" fill="none" stroke="#ffd700" stroke-width="4.6" stroke-linejoin="round"/><path d="M815.4 122.1 822.7 142.2 831.1 192.8 837.4 247.6 841.6 268.7 847.8 320 855.8 365.8 865 432.2 870.7 457.4 878.7 519.2 887.9 562.7 899.3 622.3 906.2 675 913 704.7 918.5 735" fill="none" stroke="#000080" stroke-width="4.6" stroke-linejoin="round"/><path d="M815.4 120 930 124.5 1100 128.3 1267.7 131.6 1399 133.8" fill="none" stroke="#008000" stroke-width="4.6" stroke-linejoin="round"/><path d="M815.4 121.1 862.7 129.5 936.5 136.9 999.8 145.3 1041.9 158 1100 169.3 1132.7 178.4 1187.1 189.3 1252.5 200.2 1285.2 206.8 1317.9 211.1 1399 217.6" fill="none" stroke="#ff6600" stroke-width="4.6" stroke-linejoin="round"/><path d="M815.4 121 884 127.4 1000 133.7 1100 138.8 1250 142.8 1399 146.4" fill="none" stroke="#9932cc" stroke-width="4.6" stroke-linejoin="round"/><path d="M815.4 121.1 852.2 126.4 881.7 127.4 885.9 131.6 936.5 139 999.8 146.4 1041.9 161.1 1110 184.3 1121.8 191.5 1154.5 206.8 1187.1 218.7 1230.7 235.1 1263.4 246 1307 255.8 1328.8 265.6 1372.3 274.3 1399 275" fill="none" stroke="#1e90ff" stroke-width="4.6" stroke-linejoin="round"/><path d="M815.4 120 930 122 1110 125.3 1252 125.8 1330 127 1399 128.3" fill="none" stroke="#14b1b1" stroke-width="4.6" stroke-linejoin="round"/><path d="M815.4 121.1 841.6 134.8 883.8 145.3 936.5 155.9 999.8 167.5 1063 180.1 1110 186.4 1165.4 195.9 1208.9 204.6 1263.4 215.5 1307 223.1 1350.5 230.7 1399 237.7" fill="none" stroke="#ff3399" stroke-width="4.6" stroke-linejoin="round"/><path d="M815.4 120.5 884 123.2 1000 127.4 1100 129.4 1265.6 129.6 1274 134.2 1399 134.9" fill="none" stroke="#555555" stroke-width="4.6" stroke-linejoin="round"/><path d="M815.4 120 873.3 138 936.5 154.8 978.7 171.7 1031.4 192.8 1063 207.5 1110 222.3 1132.7 230.7 1165.4 246 1198 259 1230.7 272.1 1263.4 283 1296 296.1 1328.8 302.6 1368 309.2 1372.3 312.4 1399 314.6" fill="none" stroke="#990047" stroke-width="4.6" stroke-linejoin="round"/></g>
<g font-family="Liberation Sans"><text x="815.4" y="742.8" font-size="11" text-anchor="middle" fill="#262626">0</text><text x="873.8" y="742.8" font-size="11" text-anchor="middle" fill="#262626">50</text><text x="932.1" y="742.8" font-size="11" text-anchor="middle" fill="#262626">100</text><text x="990.5" y="742.8" font-size="11" text-anchor="middle" fill="#262626">150</text><text x="1048.9" y="742.8" font-size="11" text-anchor="middle" fill="#262626">200</text><text x="1107.2" y="742.8" font-size="11" text-anchor="middle" fill="#262626">250</text><text x="1165.6" y="742.8" font-size="11" text-anchor="middle" fill="#262626">300</text><text x="1224" y="742.8" font-size="11" text-anchor="middle" fill="#262626">350</text><text x="1282.4" y="742.8" font-size="11" text-anchor="middle" fill="#262626">400</text><text x="1340.7" y="742.8" font-size="11" text-anchor="middle" fill="#262626">450</text><text x="1399.1" y="742.8" font-size="11" text-anchor="middle" fill="#262626">500</text><text x="809.2" y="38.1" font-size="11" text-anchor="end" fill="#262626">10<tspan font-size="9.6" dy="-5.6">50</tspan></text><text x="809.2" y="132.9" font-size="11" text-anchor="end" fill="#262626">10<tspan font-size="9.6" dy="-5.6">0</tspan></text><text x="809.2" y="227.6" font-size="11" text-anchor="end" fill="#262626">10<tspan font-size="9.6" dy="-5.6">−50</tspan></text><text x="809.2" y="322.4" font-size="11" text-anchor="end" fill="#262626">10<tspan font-size="9.6" dy="-5.6">−100</tspan></text><text x="809.2" y="417.1" font-size="11" text-anchor="end" fill="#262626">10<tspan font-size="9.6" dy="-5.6">−150</tspan></text><text x="809.2" y="511.9" font-size="11" text-anchor="end" fill="#262626">10<tspan font-size="9.6" dy="-5.6">−200</tspan></text><text x="809.2" y="606.6" font-size="11" text-anchor="end" fill="#262626">10<tspan font-size="9.6" dy="-5.6">−250</tspan></text><text x="809.2" y="701.4" font-size="11" text-anchor="end" fill="#262626">10<tspan font-size="9.6" dy="-5.6">−300</tspan></text><text transform="translate(764.6 371.9) rotate(-90)" font-size="21.9" font-weight="bold" text-anchor="middle" fill="#262626">Average Fitness Value</text><text x="960.7" y="770.3" font-size="21.6" font-weight="bold" fill="#262626">Function Evaluations</text><text x="1202" y="770.3" font-size="21.6" font-weight="bold" fill="#262626">/30</text><path d="M1198.6 753.5 Q1189.4 761.9 1198.6 770.3 M1236.4 753.5 Q1245.6 761.9 1236.4 770.3" fill="none" stroke="#262626" stroke-width="1.1"/></g>
<g font-family="Liberation Sans"><rect x="1141.6" y="462.6" width="125" height="217.6" fill="#fff" stroke="#3a3a3a" stroke-width="1.1"/><path d="M1145.5 473.8H1181.6" stroke="#ff0000" stroke-width="4.3"/><text x="1184.6" y="479.4" font-size="14.4" font-weight="bold" fill="#000">AP-IVYPSO</text><path d="M1145.5 493.4H1181.6" stroke="#ffd700" stroke-width="4.3"/><text x="1184.6" y="499" font-size="14.4" font-weight="bold" fill="#000">PSO</text><path d="M1145.5 512.9H1181.6" stroke="#000080" stroke-width="4.3"/><text x="1184.6" y="518.5" font-size="14.4" font-weight="bold" fill="#000">IVY</text><path d="M1145.5 532.5H1181.6" stroke="#008000" stroke-width="4.3"/><text x="1184.6" y="538.1" font-size="14.4" font-weight="bold" fill="#000">HFPSO</text><path d="M1145.5 552.1H1181.6" stroke="#ff6600" stroke-width="4.3"/><text x="1184.6" y="557.7" font-size="14.4" font-weight="bold" fill="#000">HJSPSO</text><path d="M1145.5 571.6H1181.6" stroke="#9932cc" stroke-width="4.3"/><text x="1184.6" y="577.2" font-size="14.4" font-weight="bold" fill="#000">BOA</text><path d="M1145.5 591.2H1181.6" stroke="#1e90ff" stroke-width="4.3"/><text x="1184.6" y="596.8" font-size="14.4" font-weight="bold" fill="#000">WOA</text><path d="M1145.5 610.8H1181.6" stroke="#14b1b1" stroke-width="4.3"/><text x="1184.6" y="616.4" font-size="14.4" font-weight="bold" fill="#000">GOOSE</text><path d="M1145.5 630.4H1181.6" stroke="#ff3399" stroke-width="4.3"/><text x="1184.6" y="636" font-size="14.4" font-weight="bold" fill="#000">PSOBOA</text><path d="M1145.5 649.9H1181.6" stroke="#555555" stroke-width="4.3"/><text x="1184.6" y="655.5" font-size="14.4" font-weight="bold" fill="#000">NSM-BO</text><path d="M1145.5 669.5H1181.6" stroke="#990047" stroke-width="4.3"/><text x="1184.6" y="675.1" font-size="14.4" font-weight="bold" fill="#000">FDB-AGSK</text></g>
<defs><clipPath id="c10"><rect x="809.4" y="931.6" width="595.7" height="706.1"/></clipPath></defs>
<path d="M815.4 931.6H1399.1V1637.1H815.4ZM815.4 1637.1v-6M815.4 931.6v6M873.8 1637.1v-6M873.8 931.6v6M932.1 1637.1v-6M932.1 931.6v6M990.5 1637.1v-6M990.5 931.6v6M1048.9 1637.1v-6M1048.9 931.6v6M1107.2 1637.1v-6M1107.2 931.6v6M1165.6 1637.1v-6M1165.6 931.6v6M1224 1637.1v-6M1224 931.6v6M1282.4 1637.1v-6M1282.4 931.6v6M1340.7 1637.1v-6M1340.7 931.6v6M1399.1 1637.1v-6M1399.1 931.6v6M815.4 1638h6M1399.1 1638h-6M815.4 1520.3h6M1399.1 1520.3h-6M815.4 1402.6h6M1399.1 1402.6h-6M815.4 1284.8h6M1399.1 1284.8h-6M815.4 1167.1h6M1399.1 1167.1h-6M815.4 1049.3h6M1399.1 1049.3h-6M815.4 931.6h6M1399.1 931.6h-6M815.4 1602.6h2.7M1399.1 1602.6h-2.7M815.4 1581.9h2.7M1399.1 1581.9h-2.7M815.4 1567.2h2.7M1399.1 1567.2h-2.7M815.4 1555.7h2.7M1399.1 1555.7h-2.7M815.4 1546.4h2.7M1399.1 1546.4h-2.7M815.4 1538.5h2.7M1399.1 1538.5h-2.7M815.4 1531.7h2.7M1399.1 1531.7h-2.7M815.4 1525.7h2.7M1399.1 1525.7h-2.7M815.4 1484.9h2.7M1399.1 1484.9h-2.7M815.4 1464.1h2.7M1399.1 1464.1h-2.7M815.4 1449.4h2.7M1399.1 1449.4h-2.7M815.4 1438h2.7M1399.1 1438h-2.7M815.4 1428.7h2.7M1399.1 1428.7h-2.7M815.4 1420.8h2.7M1399.1 1420.8h-2.7M815.4 1414h2.7M1399.1 1414h-2.7M815.4 1407.9h2.7M1399.1 1407.9h-2.7M815.4 1367.1h2.7M1399.1 1367.1h-2.7M815.4 1346.4h2.7M1399.1 1346.4h-2.7M815.4 1331.7h2.7M1399.1 1331.7h-2.7M815.4 1320.3h2.7M1399.1 1320.3h-2.7M815.4 1310.9h2.7M1399.1 1310.9h-2.7M815.4 1303.1h2.7M1399.1 1303.1h-2.7M815.4 1296.2h2.7M1399.1 1296.2h-2.7M815.4 1290.2h2.7M1399.1 1290.2h-2.7M815.4 1249.4h2.7M1399.1 1249.4h-2.7M815.4 1228.6h2.7M1399.1 1228.6h-2.7M815.4 1213.9h2.7M1399.1 1213.9h-2.7M815.4 1202.5h2.7M1399.1 1202.5h-2.7M815.4 1193.2h2.7M1399.1 1193.2h-2.7M815.4 1185.3h2.7M1399.1 1185.3h-2.7M815.4 1178.5h2.7M1399.1 1178.5h-2.7M815.4 1172.5h2.7M1399.1 1172.5h-2.7M815.4 1131.6h2.7M1399.1 1131.6h-2.7M815.4 1110.9h2.7M1399.1 1110.9h-2.7M815.4 1096.2h2.7M1399.1 1096.2h-2.7M815.4 1084.8h2.7M1399.1 1084.8h-2.7M815.4 1075.5h2.7M1399.1 1075.5h-2.7M815.4 1067.6h2.7M1399.1 1067.6h-2.7M815.4 1060.8h2.7M1399.1 1060.8h-2.7M815.4 1054.7h2.7M1399.1 1054.7h-2.7M815.4 1013.9h2.7M1399.1 1013.9h-2.7M815.4 993.2h2.7M1399.1 993.2h-2.7M815.4 978.5h2.7M1399.1 978.5h-2.7M815.4 967h2.7M1399.1 967h-2.7M815.4 957.7h2.7M1399.1 957.7h-2.7M815.4 949.8h2.7M1399.1 949.8h-2.7M815.4 943h2.7M1399.1 943h-2.7M815.4 937h2.7M1399.1 937h-2.7" fill="none" stroke="#3a3a3a" stroke-width="1.2"/>
<g clip-path="url(#c10)"><path d="M815.4 1040 818 1300 821 1500 822.7 1568.7 826 1582 840 1585.5 1100 1588 1399 1590.6" fill="none" stroke="#ff0000" stroke-width="4.6" stroke-linejoin="round"/><path d="M815.4 980 816.6 1004 825.5 1056 826.5 1059.3 828.3 1083.6 845.2 1083.6 846.6 1089.8 861.3 1089.8 861.3 1117.6 871.8 1118.8 874.7 1123.7 893.6 1123.7 894.3 1139.9 900.7 1140.6 901.4 1165.9 913.3 1166.6 916.8 1172.2 940 1172.2 941.4 1194.7 992.7 1194.7 995.5 1198.2 1001.8 1200.2 1007.7 1206.1 1021 1209 1022.5 1223.8 1063.8 1224.4 1069.7 1231.2 1078.5 1237.1 1087.4 1250.4 1106.6 1250.4 1111 1271 1111 1291.7 1131.7 1291.7 1134.6 1296.1 1156.8 1296.1 1158.2 1306.4 1170 1313.8 1184.8 1315.3 1190.7 1319.7 1214.3 1322.7 1217.3 1328.6 1232 1330 1235 1333 1251.2 1334.5 1252.7 1349.2 1288.1 1351.3 1291 1380.2 1305.8 1381.7 1308.8 1389.1 1317.6 1390.6 1320.6 1399.4 1338.3 1403.8 1350.1 1411.2 1367.8 1412.7 1373.7 1415.6 1399 1416.2" fill="none" stroke="#ffd700" stroke-width="4.6" stroke-linejoin="round"/><path d="M815.4 1018 816 1300 817.4 1583.4 831.1 1584.5 1100 1587 1399 1590" fill="none" stroke="#000080" stroke-width="4.6" stroke-linejoin="round"/><path d="M815.4 1030.7 822 1150 825.8 1218 833 1250 840.6 1270.7 843.7 1310.7 849 1312.8 852.2 1323.4 862.7 1331.8 864.8 1340.2 871.1 1344.5 875.4 1350.8 894.3 1359.2 896.4 1369.8 909.1 1371.9 913.3 1376.1 915.4 1386.6 919.6 1388.7 921.7 1418.2 942.8 1420 944.9 1431.6 961.8 1431.6 966 1440.1 972.3 1440.1 974.5 1463.3 985 1463.3 995.5 1471.7 999.7 1492.8 1008.2 1494.9 1010.3 1503.3 1014.5 1505.4 1018.7 1522.3 1031.4 1528.6 1041.9 1530.7 1052.5 1537 1063 1543.4 1075.7 1551.8 1084.1 1556 1092.5 1558.1 1110 1566.6 1117.4 1572.1 1132.7 1576.5 1143.6 1578.6 1158.8 1579.7 1169.7 1581.9 1200 1584 1399 1585.5" fill="none" stroke="#008000" stroke-width="4.6" stroke-linejoin="round"/><path d="M815.4 1031.6 818 1150 820 1200 822.7 1251.7 825.8 1253.8 828 1300 830 1336 833.2 1357.1 835.3 1392.9 839.5 1400 841.6 1406.3 843.7 1475.9 848 1478 850 1516 851.1 1543.4 855.3 1545.5 857.4 1560.2 864.8 1568.7 869 1575 875.4 1581.3 879.6 1584.5 1100 1587 1399 1588.5" fill="none" stroke="#ff6600" stroke-width="4.6" stroke-linejoin="round"/><path d="M816.8 1075 822 1150 828 1230 834.2 1293.9 841.6 1348.7 845.8 1400 854.3 1463.3 860.6 1518.1 871.1 1551.8 877.5 1568.7 883.8 1579.2 894.3 1583.4 1399 1585.5" fill="none" stroke="#9932cc" stroke-width="4.6" stroke-linejoin="round"/><path d="M815.8 1010 822 1062 829.2 1091.5 831.1 1180 836.4 1253.8 841.6 1306.5 842.7 1344.5 850.1 1365.5 854.3 1382.4 855.3 1400 858.5 1448.5 864.8 1454.8 869 1484.3 873.3 1505.4 881.7 1522.3 890.1 1539.2 893.3 1568.7 900.7 1577.1 907 1581.3 919.6 1583.4 1399 1585.5" fill="none" stroke="#1e90ff" stroke-width="4.6" stroke-linejoin="round"/><path d="M815.4 1005.6 816.3 1018 821.1 1036 826.5 1058.4 831.8 1120 835.3 1142.7 837.4 1170.8 838.8 1173.6 840.9 1200 841.6 1205.3 843.7 1260.1 849 1266.4 852.2 1274.9 854.3 1293.9 857.4 1314.9 860.6 1321.3 864.8 1323.4 865.9 1329.7 873.3 1333.9 879.6 1340.2 881.7 1357.1 885.9 1361.3 890.1 1363.4 894.3 1374 928.1 1374 930.2 1377.1 944.9 1377.1 947 1384.5 958.6 1386.6 960.7 1396.1 970.2 1397.2 972.3 1415.1 987.1 1416.1 993.4 1418.2 999.7 1422.1 1014.5 1423.2 1020.8 1428.5 1037.7 1428.5 1039.8 1438 1054.6 1439 1056.7 1444.3 1086.2 1447.4 1088.3 1451.7 1100 1452.3 1114.2 1453.4 1117.4 1466.4 1132.7 1466.4 1141.4 1473 1165.4 1474.1 1168.6 1486.1 1182.8 1486.1 1191.5 1487.1 1206.8 1488.2 1213.3 1495.9 1219.8 1502.4 1223.1 1508.9 1232.9 1508.9 1235.1 1519.8 1265.6 1519.8 1274.3 1522 1276.5 1526.4 1285.2 1527.5 1289.5 1531.8 1300.4 1532.9 1313.5 1544.9 1322.2 1546 1328.8 1552.5 1334.2 1559 1344 1563.4 1350.5 1567.8 1361.4 1569.9 1372.3 1577.6 1383.2 1579.7 1399.1 1581.9" fill="none" stroke="#14b1b1" stroke-width="4.6" stroke-linejoin="round"/><path d="M815.4 1070 817 1200 819 1400 821 1550 826 1578 835 1584 1399 1584.5" fill="none" stroke="#ff3399" stroke-width="4.6" stroke-linejoin="round"/><path d="M818.6 1050 821 1078 824 1140 828.3 1199 831.1 1222.2 835.3 1264.3 841.6 1281.2 844.8 1298.1 851.1 1310.7 853.2 1321.3 860.6 1326.5 871.1 1329.7 875.4 1332.9 885.9 1335 890.1 1338.1 891.2 1365.5 892.2 1380.3 896.4 1389.8 902.8 1393 911.2 1409.2 936.5 1415.8 957.6 1420 974.5 1429.5 978.7 1438 982.9 1452.7 983.9 1480.1 991.3 1490.7 997.6 1505.4 1008.2 1509.6 1018.7 1516 1041.9 1520.2 1063 1522.3 1100 1523.1 1121.8 1525.3 1156.6 1526.4 1169.7 1527.5 1176.3 1529.6 1217.6 1529.6 1224.2 1534 1241.6 1535.1 1399.1 1536.2" fill="none" stroke="#555555" stroke-width="4.6" stroke-linejoin="round"/><path d="M815.8 981 817.5 978 819.5 985 820.5 1060 820.5 1400 822 1520 825.8 1562.3 831.1 1579.2 839.5 1584.3 1399 1584.1" fill="none" stroke="#990047" stroke-width="4.6" stroke-linejoin="round"/></g>
<g font-family="Liberation Sans"><text x="815.4" y="1655.3" font-size="11" text-anchor="middle" fill="#262626">0</text><text x="873.8" y="1655.3" font-size="11" text-anchor="middle" fill="#262626">50</text><text x="932.1" y="1655.3" font-size="11" text-anchor="middle" fill="#262626">100</text><text x="990.5" y="1655.3" font-size="11" text-anchor="middle" fill="#262626">150</text><text x="1048.9" y="1655.3" font-size="11" text-anchor="middle" fill="#262626">200</text><text x="1107.2" y="1655.3" font-size="11" text-anchor="middle" fill="#262626">250</text><text x="1165.6" y="1655.3" font-size="11" text-anchor="middle" fill="#262626">300</text><text x="1224" y="1655.3" font-size="11" text-anchor="middle" fill="#262626">350</text><text x="1282.4" y="1655.3" font-size="11" text-anchor="middle" fill="#262626">400</text><text x="1340.7" y="1655.3" font-size="11" text-anchor="middle" fill="#262626">450</text><text x="1399.1" y="1655.3" font-size="11" text-anchor="middle" fill="#262626">500</text><text x="809.2" y="1643.8" font-size="11" text-anchor="end" fill="#262626">10<tspan font-size="9.6" dy="-5.6">1</tspan></text><text x="809.2" y="1526.1" font-size="11" text-anchor="end" fill="#262626">10<tspan font-size="9.6" dy="-5.6">2</tspan></text><text x="809.2" y="1408.4" font-size="11" text-anchor="end" fill="#262626">10<tspan font-size="9.6" dy="-5.6">3</tspan></text><text x="809.2" y="1290.6" font-size="11" text-anchor="end" fill="#262626">10<tspan font-size="9.6" dy="-5.6">4</tspan></text><text x="809.2" y="1172.9" font-size="11" text-anchor="end" fill="#262626">10<tspan font-size="9.6" dy="-5.6">5</tspan></text><text x="809.2" y="1055.1" font-size="11" text-anchor="end" fill="#262626">10<tspan font-size="9.6" dy="-5.6">6</tspan></text><text x="809.2" y="937.4" font-size="11" text-anchor="end" fill="#262626">10<tspan font-size="9.6" dy="-5.6">7</tspan></text><text transform="translate(782.1 1285.4) rotate(-90)" font-size="21.9" font-weight="bold" text-anchor="middle" fill="#262626">Average Fitness Value</text><text x="960.7" y="1683" font-size="21.6" font-weight="bold" fill="#262626">Function Evaluations</text><text x="1202" y="1683" font-size="21.6" font-weight="bold" fill="#262626">/30</text><path d="M1198.6 1666.2 Q1189.4 1674.6 1198.6 1683 M1236.4 1666.2 Q1245.6 1674.6 1236.4 1683" fill="none" stroke="#262626" stroke-width="1.1"/></g>
<g font-family="Liberation Sans"><rect x="1186.4" y="1050.6" width="125" height="217.6" fill="#fff" stroke="#3a3a3a" stroke-width="1.1"/><path d="M1190.3 1061.8H1226.4" stroke="#ff0000" stroke-width="4.3"/><text x="1229.4" y="1067.4" font-size="14.4" font-weight="bold" fill="#000">AP-IVYPSO</text><path d="M1190.3 1081.4H1226.4" stroke="#ffd700" stroke-width="4.3"/><text x="1229.4" y="1087" font-size="14.4" font-weight="bold" fill="#000">PSO</text><path d="M1190.3 1100.9H1226.4" stroke="#000080" stroke-width="4.3"/><text x="1229.4" y="1106.5" font-size="14.4" font-weight="bold" fill="#000">IVY</text><path d="M1190.3 1120.5H1226.4" stroke="#008000" stroke-width="4.3"/><text x="1229.4" y="1126.1" font-size="14.4" font-weight="bold" fill="#000">HFPSO</text><path d="M1190.3 1140.1H1226.4" stroke="#ff6600" stroke-width="4.3"/><text x="1229.4" y="1145.7" font-size="14.4" font-weight="bold" fill="#000">HJSPSO</text><path d="M1190.3 1159.6H1226.4" stroke="#9932cc" stroke-width="4.3"/><text x="1229.4" y="1165.2" font-size="14.4" font-weight="bold" fill="#000">BOA</text><path d="M1190.3 1179.2H1226.4" stroke="#1e90ff" stroke-width="4.3"/><text x="1229.4" y="1184.8" font-size="14.4" font-weight="bold" fill="#000">WOA</text><path d="M1190.3 1198.8H1226.4" stroke="#14b1b1" stroke-width="4.3"/><text x="1229.4" y="1204.4" font-size="14.4" font-weight="bold" fill="#000">GOOSE</text><path d="M1190.3 1218.4H1226.4" stroke="#ff3399" stroke-width="4.3"/><text x="1229.4" y="1224" font-size="14.4" font-weight="bold" fill="#000">PSOBOA</text><path d="M1190.3 1237.9H1226.4" stroke="#555555" stroke-width="4.3"/><text x="1229.4" y="1243.5" font-size="14.4" font-weight="bold" fill="#000">NSM-BO</text><path d="M1190.3 1257.5H1226.4" stroke="#990047" stroke-width="4.3"/><text x="1229.4" y="1263.1" font-size="14.4" font-weight="bold" fill="#000">FDB-AGSK</text></g>
<g font-family="Liberation Serif" font-size="34" fill="#000"><text x="653.3" y="856">(<tspan font-weight="bold">i</tspan>) f9.</text><text x="645.5" y="1769">(<tspan font-weight="bold">j</tspan>) f10.</text></g></svg></body></html>
